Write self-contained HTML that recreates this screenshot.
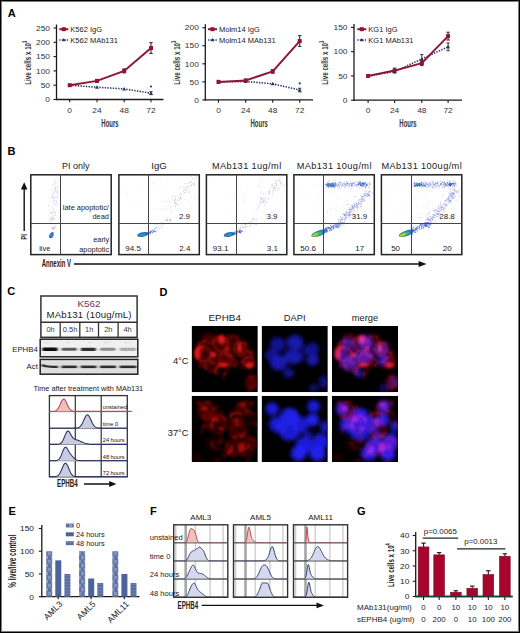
<!DOCTYPE html>
<html><head><meta charset="utf-8"><title>Figure</title>
<style>
html,body{margin:0;padding:0;background:#fff;}
#fig{position:relative;width:520px;height:633px;overflow:hidden;background:#fff;}
#fig svg{position:absolute;left:0;top:0;}
#frame{position:absolute;left:0;top:0;width:520px;height:633px;box-sizing:border-box;border:1px solid #000;box-shadow:inset 0 0 0 1px #7a7a7a;pointer-events:none;}
text{font-family:"Liberation Sans",sans-serif;}
</style></head><body>
<div id="fig">
<svg width="520" height="633" viewBox="0 0 520 633" font-family="Liberation Sans, sans-serif">
<text transform="translate(7.80,16.90)" font-size="11" text-anchor="start" font-weight="bold" fill="#000" >A</text>
<text transform="translate(7.50,154.60)" font-size="11" text-anchor="start" font-weight="bold" fill="#000" >B</text>
<text transform="translate(7.20,295.10)" font-size="11" text-anchor="start" font-weight="bold" fill="#000" >C</text>
<text transform="translate(159.60,295.60)" font-size="11" text-anchor="start" font-weight="bold" fill="#000" >D</text>
<text transform="translate(8.50,515.30)" font-size="11" text-anchor="start" font-weight="bold" fill="#000" >E</text>
<text transform="translate(150.10,515.20)" font-size="11" text-anchor="start" font-weight="bold" fill="#000" >F</text>
<text transform="translate(357.00,515.30)" font-size="11" text-anchor="start" font-weight="bold" fill="#000" >G</text>
<text transform="translate(31.00,84.80) rotate(-90) scale(0.65,1)" font-size="9.6" text-anchor="start" font-weight="bold" fill="#333" >Live cells x 10<tspan font-size="6.5" dy="-3.8">3</tspan></text>
<line x1="56.50" y1="24.50" x2="56.50" y2="100.10" stroke="#1a1a1a" stroke-width="1.3" />
<line x1="55.90" y1="99.50" x2="163.50" y2="99.50" stroke="#1a1a1a" stroke-width="1.3" />
<line x1="53.50" y1="99.50" x2="56.50" y2="99.50" stroke="#1a1a1a" stroke-width="1.1" />
<text transform="translate(50.00,102.20) scale(1.05,1)" font-size="8" text-anchor="end" fill="#333" >0</text>
<line x1="53.50" y1="85.20" x2="56.50" y2="85.20" stroke="#1a1a1a" stroke-width="1.1" />
<text transform="translate(50.00,87.90) scale(1.05,1)" font-size="8" text-anchor="end" fill="#333" >50</text>
<line x1="53.50" y1="70.90" x2="56.50" y2="70.90" stroke="#1a1a1a" stroke-width="1.1" />
<text transform="translate(50.00,73.60) scale(1.05,1)" font-size="8" text-anchor="end" fill="#333" >100</text>
<line x1="53.50" y1="56.60" x2="56.50" y2="56.60" stroke="#1a1a1a" stroke-width="1.1" />
<text transform="translate(50.00,59.30) scale(1.05,1)" font-size="8" text-anchor="end" fill="#333" >150</text>
<line x1="53.50" y1="42.30" x2="56.50" y2="42.30" stroke="#1a1a1a" stroke-width="1.1" />
<text transform="translate(50.00,45.00) scale(1.05,1)" font-size="8" text-anchor="end" fill="#333" >200</text>
<line x1="53.50" y1="28.00" x2="56.50" y2="28.00" stroke="#1a1a1a" stroke-width="1.1" />
<text transform="translate(50.00,30.70) scale(1.05,1)" font-size="8" text-anchor="end" fill="#333" >250</text>
<line x1="69.70" y1="99.50" x2="69.70" y2="102.30" stroke="#1a1a1a" stroke-width="1.1" />
<text transform="translate(69.70,112.60) scale(1.05,1)" font-size="8" text-anchor="middle" fill="#333" >0</text>
<line x1="97.00" y1="99.50" x2="97.00" y2="102.30" stroke="#1a1a1a" stroke-width="1.1" />
<text transform="translate(97.00,112.60) scale(1.05,1)" font-size="8" text-anchor="middle" fill="#333" >24</text>
<line x1="124.20" y1="99.50" x2="124.20" y2="102.30" stroke="#1a1a1a" stroke-width="1.1" />
<text transform="translate(124.20,112.60) scale(1.05,1)" font-size="8" text-anchor="middle" fill="#333" >48</text>
<line x1="151.00" y1="99.50" x2="151.00" y2="102.30" stroke="#1a1a1a" stroke-width="1.1" />
<text transform="translate(151.00,112.60) scale(1.05,1)" font-size="8" text-anchor="middle" fill="#333" >72</text>
<text transform="translate(110.00,126.90) scale(0.55,1)" font-size="10.9" text-anchor="middle" font-weight="bold" fill="#333" >Hours</text>
<polyline points="69.7,85.2 97.0,87.2 124.2,88.9 151.0,93.2" fill="none" stroke="#2b3a66" stroke-width="1.6" stroke-dasharray="1.4 1.3"/>
<path d="M67.7,86.7 L71.7,86.7 L69.7,83.2Z" fill="#2b3a66"/>
<path d="M95.0,88.7 L99.0,88.7 L97.0,85.2Z" fill="#2b3a66"/>
<path d="M122.2,90.4 L126.2,90.4 L124.2,86.9Z" fill="#2b3a66"/>
<line x1="151.00" y1="91.78" x2="151.00" y2="94.64" stroke="#333" stroke-width="1" />
<line x1="149.40" y1="91.78" x2="152.60" y2="91.78" stroke="#333" stroke-width="1" />
<line x1="149.40" y1="94.64" x2="152.60" y2="94.64" stroke="#333" stroke-width="1" />
<path d="M149.0,94.7 L153.0,94.7 L151.0,91.2Z" fill="#2b3a66"/>
<polyline points="69.7,85.2 97.0,80.9 124.2,70.9 151.0,48.0" fill="none" stroke="#8e1538" stroke-width="2"/>
<rect x="67.70" y="83.20" width="4.00" height="4.00" fill="#8e1538" stroke="none" stroke-width="1" />
<line x1="97.00" y1="79.48" x2="97.00" y2="82.34" stroke="#333" stroke-width="1.1" />
<line x1="95.30" y1="79.48" x2="98.70" y2="79.48" stroke="#333" stroke-width="1.1" />
<line x1="95.30" y1="82.34" x2="98.70" y2="82.34" stroke="#333" stroke-width="1.1" />
<rect x="95.00" y="78.91" width="4.00" height="4.00" fill="#8e1538" stroke="none" stroke-width="1" />
<line x1="124.20" y1="68.90" x2="124.20" y2="72.90" stroke="#333" stroke-width="1.1" />
<line x1="122.50" y1="68.90" x2="125.90" y2="68.90" stroke="#333" stroke-width="1.1" />
<line x1="122.50" y1="72.90" x2="125.90" y2="72.90" stroke="#333" stroke-width="1.1" />
<rect x="122.20" y="68.90" width="4.00" height="4.00" fill="#8e1538" stroke="none" stroke-width="1" />
<line x1="151.00" y1="42.59" x2="151.00" y2="53.45" stroke="#333" stroke-width="1.1" />
<line x1="149.30" y1="42.59" x2="152.70" y2="42.59" stroke="#333" stroke-width="1.1" />
<line x1="149.30" y1="53.45" x2="152.70" y2="53.45" stroke="#333" stroke-width="1.1" />
<rect x="149.00" y="46.02" width="4.00" height="4.00" fill="#8e1538" stroke="none" stroke-width="1" />
<circle cx="151" cy="86.5" r="1.05" fill="#333"/>
<line x1="59.30" y1="29.20" x2="68.30" y2="29.20" stroke="#8e1538" stroke-width="2" />
<rect x="61.80" y="27.20" width="4.00" height="4.00" fill="#8e1538" stroke="none" stroke-width="1" />
<text transform="translate(70.30,31.90)" font-size="7.5" text-anchor="start" fill="#222" >K562 IgG</text>
<line x1="59.3" y1="40" x2="68.3" y2="40" stroke="#2b3a66" stroke-width="1.3" stroke-dasharray="1.3 1.2"/>
<path d="M61.8,41.3 L65.8,41.3 L63.8,38Z" fill="#2b3a66"/>
<text transform="translate(70.30,42.70)" font-size="7.5" text-anchor="start" fill="#222" >K562 MAb131</text>
<text transform="translate(179.50,84.80) rotate(-90) scale(0.65,1)" font-size="9.6" text-anchor="start" font-weight="bold" fill="#333" >Live cells x 10<tspan font-size="6.5" dy="-3.8">3</tspan></text>
<line x1="205.30" y1="24.20" x2="205.30" y2="100.50" stroke="#1a1a1a" stroke-width="1.3" />
<line x1="204.70" y1="99.90" x2="313.00" y2="99.90" stroke="#1a1a1a" stroke-width="1.3" />
<line x1="202.30" y1="99.90" x2="205.30" y2="99.90" stroke="#1a1a1a" stroke-width="1.1" />
<text transform="translate(198.80,102.60) scale(1.05,1)" font-size="8" text-anchor="end" fill="#333" >0</text>
<line x1="202.30" y1="81.85" x2="205.30" y2="81.85" stroke="#1a1a1a" stroke-width="1.1" />
<text transform="translate(198.80,84.55) scale(1.05,1)" font-size="8" text-anchor="end" fill="#333" >50</text>
<line x1="202.30" y1="63.80" x2="205.30" y2="63.80" stroke="#1a1a1a" stroke-width="1.1" />
<text transform="translate(198.80,66.50) scale(1.05,1)" font-size="8" text-anchor="end" fill="#333" >100</text>
<line x1="202.30" y1="45.75" x2="205.30" y2="45.75" stroke="#1a1a1a" stroke-width="1.1" />
<text transform="translate(198.80,48.45) scale(1.05,1)" font-size="8" text-anchor="end" fill="#333" >150</text>
<line x1="202.30" y1="27.70" x2="205.30" y2="27.70" stroke="#1a1a1a" stroke-width="1.1" />
<text transform="translate(198.80,30.40) scale(1.05,1)" font-size="8" text-anchor="end" fill="#333" >200</text>
<line x1="218.50" y1="99.90" x2="218.50" y2="102.70" stroke="#1a1a1a" stroke-width="1.1" />
<text transform="translate(218.50,112.60) scale(1.05,1)" font-size="8" text-anchor="middle" fill="#333" >0</text>
<line x1="245.70" y1="99.90" x2="245.70" y2="102.70" stroke="#1a1a1a" stroke-width="1.1" />
<text transform="translate(245.70,112.60) scale(1.05,1)" font-size="8" text-anchor="middle" fill="#333" >24</text>
<line x1="272.70" y1="99.90" x2="272.70" y2="102.70" stroke="#1a1a1a" stroke-width="1.1" />
<text transform="translate(272.70,112.60) scale(1.05,1)" font-size="8" text-anchor="middle" fill="#333" >48</text>
<line x1="299.70" y1="99.90" x2="299.70" y2="102.70" stroke="#1a1a1a" stroke-width="1.1" />
<text transform="translate(299.70,112.60) scale(1.05,1)" font-size="8" text-anchor="middle" fill="#333" >72</text>
<text transform="translate(259.15,126.90) scale(0.55,1)" font-size="10.9" text-anchor="middle" font-weight="bold" fill="#333" >Hours</text>
<polyline points="218.5,81.9 245.7,81.5 272.7,83.8 299.7,90.0" fill="none" stroke="#2b3a66" stroke-width="1.6" stroke-dasharray="1.4 1.3"/>
<path d="M216.5,83.4 L220.5,83.4 L218.5,79.9Z" fill="#2b3a66"/>
<path d="M243.7,83.0 L247.7,83.0 L245.7,79.5Z" fill="#2b3a66"/>
<path d="M270.7,85.3 L274.7,85.3 L272.7,81.8Z" fill="#2b3a66"/>
<line x1="299.70" y1="88.24" x2="299.70" y2="91.85" stroke="#333" stroke-width="1" />
<line x1="298.10" y1="88.24" x2="301.30" y2="88.24" stroke="#333" stroke-width="1" />
<line x1="298.10" y1="91.85" x2="301.30" y2="91.85" stroke="#333" stroke-width="1" />
<path d="M297.7,91.5 L301.7,91.5 L299.7,88.0Z" fill="#2b3a66"/>
<polyline points="218.5,81.9 245.7,80.4 272.7,71.4 299.7,41.1" fill="none" stroke="#8e1538" stroke-width="2"/>
<rect x="216.50" y="79.85" width="4.00" height="4.00" fill="#8e1538" stroke="none" stroke-width="1" />
<line x1="245.70" y1="79.32" x2="245.70" y2="81.49" stroke="#333" stroke-width="1.1" />
<line x1="244.00" y1="79.32" x2="247.40" y2="79.32" stroke="#333" stroke-width="1.1" />
<line x1="244.00" y1="81.49" x2="247.40" y2="81.49" stroke="#333" stroke-width="1.1" />
<rect x="243.70" y="78.41" width="4.00" height="4.00" fill="#8e1538" stroke="none" stroke-width="1" />
<line x1="272.70" y1="69.58" x2="272.70" y2="73.19" stroke="#333" stroke-width="1.1" />
<line x1="271.00" y1="69.58" x2="274.40" y2="69.58" stroke="#333" stroke-width="1.1" />
<line x1="271.00" y1="73.19" x2="274.40" y2="73.19" stroke="#333" stroke-width="1.1" />
<rect x="270.70" y="69.38" width="4.00" height="4.00" fill="#8e1538" stroke="none" stroke-width="1" />
<line x1="299.70" y1="35.64" x2="299.70" y2="46.47" stroke="#333" stroke-width="1.1" />
<line x1="298.00" y1="35.64" x2="301.40" y2="35.64" stroke="#333" stroke-width="1.1" />
<line x1="298.00" y1="46.47" x2="301.40" y2="46.47" stroke="#333" stroke-width="1.1" />
<rect x="297.70" y="39.06" width="4.00" height="4.00" fill="#8e1538" stroke="none" stroke-width="1" />
<circle cx="299.7" cy="83.4" r="1.05" fill="#333"/>
<line x1="208.00" y1="29.20" x2="217.00" y2="29.20" stroke="#8e1538" stroke-width="2" />
<rect x="210.50" y="27.20" width="4.00" height="4.00" fill="#8e1538" stroke="none" stroke-width="1" />
<text transform="translate(219.00,31.90)" font-size="7.5" text-anchor="start" fill="#222" >Molm14 IgG</text>
<line x1="208.0" y1="40" x2="217.0" y2="40" stroke="#2b3a66" stroke-width="1.3" stroke-dasharray="1.3 1.2"/>
<path d="M210.5,41.3 L214.5,41.3 L212.5,38Z" fill="#2b3a66"/>
<text transform="translate(219.00,42.70)" font-size="7.5" text-anchor="start" fill="#222" >Molm14 MAb131</text>
<text transform="translate(328.00,84.80) rotate(-90) scale(0.65,1)" font-size="9.6" text-anchor="start" font-weight="bold" fill="#333" >Live cells x 10<tspan font-size="6.5" dy="-3.8">3</tspan></text>
<line x1="354.00" y1="23.90" x2="354.00" y2="100.80" stroke="#1a1a1a" stroke-width="1.3" />
<line x1="353.40" y1="100.20" x2="462.00" y2="100.20" stroke="#1a1a1a" stroke-width="1.3" />
<line x1="351.00" y1="100.20" x2="354.00" y2="100.20" stroke="#1a1a1a" stroke-width="1.1" />
<text transform="translate(347.50,102.90) scale(1.05,1)" font-size="8" text-anchor="end" fill="#333" >0</text>
<line x1="351.00" y1="75.93" x2="354.00" y2="75.93" stroke="#1a1a1a" stroke-width="1.1" />
<text transform="translate(347.50,78.63) scale(1.05,1)" font-size="8" text-anchor="end" fill="#333" >50</text>
<line x1="351.00" y1="51.67" x2="354.00" y2="51.67" stroke="#1a1a1a" stroke-width="1.1" />
<text transform="translate(347.50,54.37) scale(1.05,1)" font-size="8" text-anchor="end" fill="#333" >100</text>
<line x1="351.00" y1="27.40" x2="354.00" y2="27.40" stroke="#1a1a1a" stroke-width="1.1" />
<text transform="translate(347.50,30.10) scale(1.05,1)" font-size="8" text-anchor="end" fill="#333" >150</text>
<line x1="368.10" y1="100.20" x2="368.10" y2="103.00" stroke="#1a1a1a" stroke-width="1.1" />
<text transform="translate(368.10,112.60) scale(1.05,1)" font-size="8" text-anchor="middle" fill="#333" >0</text>
<line x1="394.60" y1="100.20" x2="394.60" y2="103.00" stroke="#1a1a1a" stroke-width="1.1" />
<text transform="translate(394.60,112.60) scale(1.05,1)" font-size="8" text-anchor="middle" fill="#333" >24</text>
<line x1="421.80" y1="100.20" x2="421.80" y2="103.00" stroke="#1a1a1a" stroke-width="1.1" />
<text transform="translate(421.80,112.60) scale(1.05,1)" font-size="8" text-anchor="middle" fill="#333" >48</text>
<line x1="448.10" y1="100.20" x2="448.10" y2="103.00" stroke="#1a1a1a" stroke-width="1.1" />
<text transform="translate(448.10,112.60) scale(1.05,1)" font-size="8" text-anchor="middle" fill="#333" >72</text>
<text transform="translate(408.00,126.90) scale(0.55,1)" font-size="10.9" text-anchor="middle" font-weight="bold" fill="#333" >Hours</text>
<polyline points="368.1,75.9 394.6,71.6 421.8,58.9 448.1,46.8" fill="none" stroke="#2b3a66" stroke-width="1.6" stroke-dasharray="1.4 1.3"/>
<path d="M366.1,77.4 L370.1,77.4 L368.1,73.9Z" fill="#2b3a66"/>
<path d="M392.6,73.1 L396.6,73.1 L394.6,69.6Z" fill="#2b3a66"/>
<line x1="421.80" y1="54.58" x2="421.80" y2="63.31" stroke="#333" stroke-width="1" />
<line x1="420.20" y1="54.58" x2="423.40" y2="54.58" stroke="#333" stroke-width="1" />
<line x1="420.20" y1="63.31" x2="423.40" y2="63.31" stroke="#333" stroke-width="1" />
<path d="M419.8,60.4 L423.8,60.4 L421.8,56.9Z" fill="#2b3a66"/>
<line x1="448.10" y1="42.93" x2="448.10" y2="50.70" stroke="#333" stroke-width="1" />
<line x1="446.50" y1="42.93" x2="449.70" y2="42.93" stroke="#333" stroke-width="1" />
<line x1="446.50" y1="50.70" x2="449.70" y2="50.70" stroke="#333" stroke-width="1" />
<path d="M446.1,48.3 L450.1,48.3 L448.1,44.8Z" fill="#2b3a66"/>
<polyline points="368.1,75.9 394.6,70.6 421.8,63.1 448.1,36.1" fill="none" stroke="#8e1538" stroke-width="2"/>
<rect x="366.10" y="73.93" width="4.00" height="4.00" fill="#8e1538" stroke="none" stroke-width="1" />
<line x1="394.60" y1="68.17" x2="394.60" y2="73.02" stroke="#333" stroke-width="1.1" />
<line x1="392.90" y1="68.17" x2="396.30" y2="68.17" stroke="#333" stroke-width="1.1" />
<line x1="392.90" y1="73.02" x2="396.30" y2="73.02" stroke="#333" stroke-width="1.1" />
<rect x="392.60" y="68.59" width="4.00" height="4.00" fill="#8e1538" stroke="none" stroke-width="1" />
<line x1="421.80" y1="60.69" x2="421.80" y2="65.55" stroke="#333" stroke-width="1.1" />
<line x1="420.10" y1="60.69" x2="423.50" y2="60.69" stroke="#333" stroke-width="1.1" />
<line x1="420.10" y1="65.55" x2="423.50" y2="65.55" stroke="#333" stroke-width="1.1" />
<rect x="419.80" y="61.12" width="4.00" height="4.00" fill="#8e1538" stroke="none" stroke-width="1" />
<line x1="448.10" y1="32.25" x2="448.10" y2="40.02" stroke="#333" stroke-width="1.1" />
<line x1="446.40" y1="32.25" x2="449.80" y2="32.25" stroke="#333" stroke-width="1.1" />
<line x1="446.40" y1="40.02" x2="449.80" y2="40.02" stroke="#333" stroke-width="1.1" />
<rect x="446.10" y="34.14" width="4.00" height="4.00" fill="#8e1538" stroke="none" stroke-width="1" />
<line x1="357.30" y1="29.20" x2="366.30" y2="29.20" stroke="#8e1538" stroke-width="2" />
<rect x="359.80" y="27.20" width="4.00" height="4.00" fill="#8e1538" stroke="none" stroke-width="1" />
<text transform="translate(368.30,31.90)" font-size="7.5" text-anchor="start" fill="#222" >KG1 IgG</text>
<line x1="357.3" y1="40" x2="366.3" y2="40" stroke="#2b3a66" stroke-width="1.3" stroke-dasharray="1.3 1.2"/>
<path d="M359.8,41.3 L363.8,41.3 L361.8,38Z" fill="#2b3a66"/>
<text transform="translate(368.30,42.70)" font-size="7.5" text-anchor="start" fill="#222" >KG1 MAb131</text>
<defs><filter id="sb" x="-5%" y="-5%" width="110%" height="110%"><feGaussianBlur stdDeviation="0.3"/></filter></defs>
<text transform="translate(75.70,169.30)" font-size="9.0" text-anchor="middle" fill="#1a1a1a" >PI only</text>
<clipPath id="bc0"><rect x="30.8" y="174.8" width="80.4" height="79.79999999999998"/></clipPath><g clip-path="url(#bc0)"><g filter="url(#sb)">
<circle cx="54.5" cy="211.2" r="0.5" fill="#a4a8d0" opacity="0.45"/><circle cx="49.9" cy="219.1" r="0.5" fill="#a4a8d0" opacity="0.45"/><circle cx="51.1" cy="220.1" r="0.5" fill="#a4a8d0" opacity="0.45"/><circle cx="54.2" cy="204.8" r="0.5" fill="#a4a8d0" opacity="0.45"/><circle cx="53.9" cy="203.9" r="0.5" fill="#a4a8d0" opacity="0.45"/><circle cx="49.2" cy="209.9" r="0.5" fill="#a4a8d0" opacity="0.45"/><circle cx="50.0" cy="201.6" r="0.5" fill="#a4a8d0" opacity="0.45"/><circle cx="52.5" cy="219.3" r="0.5" fill="#a4a8d0" opacity="0.45"/><circle cx="53.2" cy="217.6" r="0.5" fill="#a4a8d0" opacity="0.45"/><circle cx="56.4" cy="190.7" r="0.5" fill="#a4a8d0" opacity="0.45"/><circle cx="52.8" cy="197.6" r="0.5" fill="#a4a8d0" opacity="0.45"/><circle cx="52.8" cy="220.4" r="0.5" fill="#a4a8d0" opacity="0.45"/><circle cx="53.2" cy="194.9" r="0.5" fill="#a4a8d0" opacity="0.45"/><circle cx="52.7" cy="198.5" r="0.5" fill="#a4a8d0" opacity="0.45"/><circle cx="54.8" cy="188.0" r="0.5" fill="#a4a8d0" opacity="0.45"/><circle cx="50.3" cy="197.9" r="0.5" fill="#a4a8d0" opacity="0.45"/><circle cx="53.7" cy="197.3" r="0.5" fill="#a4a8d0" opacity="0.45"/><circle cx="49.1" cy="219.1" r="0.5" fill="#a4a8d0" opacity="0.45"/><circle cx="51.5" cy="216.2" r="0.5" fill="#a4a8d0" opacity="0.45"/><circle cx="54.9" cy="192.2" r="0.5" fill="#a4a8d0" opacity="0.45"/><circle cx="54.5" cy="188.7" r="0.5" fill="#a4a8d0" opacity="0.45"/><circle cx="52.4" cy="196.7" r="0.5" fill="#a4a8d0" opacity="0.45"/><circle cx="57.5" cy="186.7" r="0.5" fill="#a4a8d0" opacity="0.45"/><circle cx="57.4" cy="195.9" r="0.5" fill="#a4a8d0" opacity="0.45"/><circle cx="58.1" cy="195.4" r="0.5" fill="#a4a8d0" opacity="0.45"/><circle cx="50.6" cy="212.5" r="0.5" fill="#a4a8d0" opacity="0.45"/><circle cx="50.3" cy="221.8" r="0.5" fill="#a4a8d0" opacity="0.45"/><circle cx="54.9" cy="218.8" r="0.5" fill="#a4a8d0" opacity="0.45"/><circle cx="52.0" cy="219.0" r="0.5" fill="#a4a8d0" opacity="0.45"/><circle cx="57.5" cy="187.2" r="0.5" fill="#a4a8d0" opacity="0.45"/><circle cx="56.7" cy="197.2" r="0.5" fill="#a4a8d0" opacity="0.45"/><circle cx="55.3" cy="188.4" r="0.5" fill="#a4a8d0" opacity="0.45"/><circle cx="56.7" cy="204.4" r="0.5" fill="#a4a8d0" opacity="0.45"/><circle cx="52.7" cy="217.4" r="0.5" fill="#a4a8d0" opacity="0.45"/><circle cx="49.9" cy="213.0" r="0.5" fill="#a4a8d0" opacity="0.45"/><circle cx="54.6" cy="211.6" r="0.5" fill="#a4a8d0" opacity="0.45"/><circle cx="48.8" cy="205.2" r="0.5" fill="#a4a8d0" opacity="0.45"/><circle cx="52.1" cy="193.5" r="0.5" fill="#a4a8d0" opacity="0.45"/><circle cx="58.5" cy="195.7" r="0.5" fill="#a4a8d0" opacity="0.45"/><circle cx="57.6" cy="187.6" r="0.5" fill="#a4a8d0" opacity="0.45"/><circle cx="52.5" cy="206.7" r="0.5" fill="#a4a8d0" opacity="0.45"/><circle cx="55.1" cy="196.3" r="0.5" fill="#a4a8d0" opacity="0.45"/><circle cx="53.3" cy="215.3" r="0.5" fill="#a4a8d0" opacity="0.45"/><circle cx="52.7" cy="220.3" r="0.5" fill="#a4a8d0" opacity="0.45"/><circle cx="51.5" cy="218.6" r="0.5" fill="#a4a8d0" opacity="0.45"/><circle cx="54.9" cy="185.3" r="0.5" fill="#a4a8d0" opacity="0.45"/><circle cx="51.5" cy="213.5" r="0.5" fill="#a4a8d0" opacity="0.45"/><circle cx="55.4" cy="212.5" r="0.5" fill="#a4a8d0" opacity="0.45"/><circle cx="52.8" cy="203.1" r="0.5" fill="#a4a8d0" opacity="0.45"/><circle cx="51.0" cy="219.5" r="0.5" fill="#a4a8d0" opacity="0.45"/><circle cx="55.7" cy="188.3" r="0.5" fill="#a4a8d0" opacity="0.45"/><circle cx="55.0" cy="182.7" r="0.5" fill="#a4a8d0" opacity="0.45"/><circle cx="56.3" cy="200.2" r="0.5" fill="#a4a8d0" opacity="0.45"/><circle cx="58.1" cy="179.5" r="0.5" fill="#a4a8d0" opacity="0.45"/><circle cx="51.8" cy="212.5" r="0.5" fill="#a4a8d0" opacity="0.45"/><circle cx="51.9" cy="189.6" r="0.5" fill="#a4a8d0" opacity="0.45"/><circle cx="53.5" cy="212.2" r="0.5" fill="#a4a8d0" opacity="0.45"/><circle cx="58.3" cy="178.7" r="0.5" fill="#a4a8d0" opacity="0.45"/><circle cx="55.3" cy="187.0" r="0.5" fill="#a4a8d0" opacity="0.45"/><circle cx="53.6" cy="201.3" r="0.5" fill="#a4a8d0" opacity="0.45"/><circle cx="51.2" cy="222.8" r="0.5" fill="#a4a8d0" opacity="0.45"/><circle cx="56.8" cy="193.1" r="0.5" fill="#a4a8d0" opacity="0.45"/><circle cx="60.7" cy="183.1" r="0.5" fill="#a4a8d0" opacity="0.45"/><circle cx="53.4" cy="208.6" r="0.5" fill="#a4a8d0" opacity="0.45"/><circle cx="53.0" cy="216.8" r="0.5" fill="#a4a8d0" opacity="0.45"/><circle cx="57.0" cy="183.1" r="0.5" fill="#a4a8d0" opacity="0.45"/><circle cx="54.8" cy="194.5" r="0.5" fill="#a4a8d0" opacity="0.45"/><circle cx="57.4" cy="193.2" r="0.5" fill="#a4a8d0" opacity="0.45"/><circle cx="53.9" cy="191.4" r="0.5" fill="#a4a8d0" opacity="0.45"/><circle cx="53.6" cy="192.6" r="0.5" fill="#a4a8d0" opacity="0.45"/><circle cx="54.6" cy="183.2" r="0.5" fill="#a4a8d0" opacity="0.45"/><circle cx="55.9" cy="181.9" r="0.5" fill="#a4a8d0" opacity="0.45"/><circle cx="54.3" cy="220.6" r="0.5" fill="#a4a8d0" opacity="0.45"/><circle cx="57.5" cy="191.7" r="0.5" fill="#a4a8d0" opacity="0.45"/><circle cx="55.2" cy="180.1" r="0.5" fill="#a4a8d0" opacity="0.45"/><circle cx="54.3" cy="199.9" r="0.5" fill="#a4a8d0" opacity="0.45"/><circle cx="54.8" cy="180.1" r="0.5" fill="#a4a8d0" opacity="0.45"/><circle cx="52.4" cy="185.1" r="0.5" fill="#a4a8d0" opacity="0.45"/><circle cx="55.8" cy="189.5" r="0.5" fill="#a4a8d0" opacity="0.45"/><circle cx="52.9" cy="212.8" r="0.5" fill="#a4a8d0" opacity="0.45"/><circle cx="51.7" cy="212.2" r="0.5" fill="#a4a8d0" opacity="0.45"/><circle cx="54.6" cy="186.2" r="0.5" fill="#a4a8d0" opacity="0.45"/><circle cx="55.9" cy="197.1" r="0.5" fill="#a4a8d0" opacity="0.45"/><circle cx="53.5" cy="184.2" r="0.5" fill="#a4a8d0" opacity="0.45"/><circle cx="55.9" cy="200.9" r="0.5" fill="#a4a8d0" opacity="0.45"/><circle cx="55.6" cy="214.9" r="0.5" fill="#a4a8d0" opacity="0.45"/><circle cx="49.2" cy="215.8" r="0.5" fill="#a4a8d0" opacity="0.45"/><circle cx="53.0" cy="201.3" r="0.5" fill="#a4a8d0" opacity="0.45"/><circle cx="54.3" cy="198.5" r="0.5" fill="#a4a8d0" opacity="0.45"/><circle cx="54.1" cy="200.7" r="0.5" fill="#a4a8d0" opacity="0.45"/><circle cx="52.7" cy="190.2" r="0.5" fill="#a4a8d0" opacity="0.45"/><circle cx="56.9" cy="189.7" r="0.5" fill="#a4a8d0" opacity="0.45"/><circle cx="52.1" cy="196.9" r="0.5" fill="#a4a8d0" opacity="0.45"/><circle cx="52.5" cy="194.3" r="0.5" fill="#a4a8d0" opacity="0.45"/><circle cx="56.4" cy="201.5" r="0.5" fill="#a4a8d0" opacity="0.45"/><circle cx="57.1" cy="185.4" r="0.5" fill="#a4a8d0" opacity="0.45"/><circle cx="57.5" cy="197.9" r="0.5" fill="#a4a8d0" opacity="0.45"/><circle cx="53.5" cy="218.2" r="0.5" fill="#a4a8d0" opacity="0.45"/><circle cx="51.7" cy="220.2" r="0.5" fill="#a4a8d0" opacity="0.45"/><circle cx="55.5" cy="190.6" r="0.5" fill="#a4a8d0" opacity="0.45"/><circle cx="51.5" cy="213.3" r="0.5" fill="#a4a8d0" opacity="0.45"/><circle cx="55.7" cy="213.2" r="0.5" fill="#a4a8d0" opacity="0.45"/><circle cx="54.2" cy="212.8" r="0.5" fill="#a4a8d0" opacity="0.45"/><circle cx="57.3" cy="202.0" r="0.5" fill="#a4a8d0" opacity="0.45"/><circle cx="50.0" cy="216.7" r="0.5" fill="#a4a8d0" opacity="0.45"/><circle cx="53.6" cy="209.9" r="0.5" fill="#a4a8d0" opacity="0.45"/><circle cx="57.3" cy="192.7" r="0.5" fill="#a4a8d0" opacity="0.45"/><circle cx="55.2" cy="204.3" r="0.5" fill="#a4a8d0" opacity="0.45"/><circle cx="53.7" cy="196.4" r="0.5" fill="#a4a8d0" opacity="0.45"/><circle cx="57.4" cy="176.5" r="0.5" fill="#a4a8d0" opacity="0.45"/><circle cx="51.8" cy="218.7" r="0.5" fill="#a4a8d0" opacity="0.45"/><circle cx="55.1" cy="191.0" r="0.5" fill="#a4a8d0" opacity="0.45"/><circle cx="56.4" cy="203.0" r="0.5" fill="#a4a8d0" opacity="0.45"/><circle cx="55.1" cy="215.2" r="0.5" fill="#a4a8d0" opacity="0.45"/><circle cx="53.9" cy="197.9" r="0.5" fill="#a4a8d0" opacity="0.45"/><circle cx="50.8" cy="218.3" r="0.5" fill="#a4a8d0" opacity="0.45"/><circle cx="54.2" cy="218.5" r="0.5" fill="#a4a8d0" opacity="0.45"/><circle cx="58.5" cy="191.0" r="0.5" fill="#a4a8d0" opacity="0.45"/><circle cx="53.0" cy="218.1" r="0.5" fill="#a4a8d0" opacity="0.45"/><circle cx="48.9" cy="206.9" r="0.5" fill="#a4a8d0" opacity="0.45"/>
<circle cx="53.7" cy="228.9" r="0.5" fill="#d8a0c0" opacity="0.5"/><circle cx="53.2" cy="228.4" r="0.5" fill="#d8a0c0" opacity="0.5"/><circle cx="52.3" cy="229.2" r="0.5" fill="#d8a0c0" opacity="0.5"/><circle cx="53.1" cy="227.1" r="0.5" fill="#d8a0c0" opacity="0.5"/><circle cx="54.2" cy="228.3" r="0.5" fill="#d8a0c0" opacity="0.5"/><circle cx="51.9" cy="228.6" r="0.5" fill="#d8a0c0" opacity="0.5"/><circle cx="54.1" cy="226.8" r="0.5" fill="#d8a0c0" opacity="0.5"/><circle cx="54.1" cy="227.4" r="0.5" fill="#d8a0c0" opacity="0.5"/><circle cx="54.0" cy="227.3" r="0.5" fill="#d8a0c0" opacity="0.5"/><circle cx="54.2" cy="227.6" r="0.5" fill="#d8a0c0" opacity="0.5"/><circle cx="55.5" cy="227.0" r="0.5" fill="#d8a0c0" opacity="0.5"/><circle cx="54.7" cy="225.5" r="0.5" fill="#d8a0c0" opacity="0.5"/><circle cx="53.2" cy="228.0" r="0.5" fill="#d8a0c0" opacity="0.5"/><circle cx="53.8" cy="228.9" r="0.5" fill="#d8a0c0" opacity="0.5"/><circle cx="53.0" cy="228.3" r="0.5" fill="#d8a0c0" opacity="0.5"/><circle cx="56.2" cy="225.7" r="0.5" fill="#d8a0c0" opacity="0.5"/><circle cx="53.0" cy="228.8" r="0.5" fill="#d8a0c0" opacity="0.5"/><circle cx="54.2" cy="228.5" r="0.5" fill="#d8a0c0" opacity="0.5"/><circle cx="55.5" cy="227.3" r="0.5" fill="#d8a0c0" opacity="0.5"/><circle cx="54.1" cy="230.0" r="0.5" fill="#d8a0c0" opacity="0.5"/><circle cx="53.0" cy="227.9" r="0.5" fill="#d8a0c0" opacity="0.5"/><circle cx="52.2" cy="227.9" r="0.5" fill="#d8a0c0" opacity="0.5"/><circle cx="52.5" cy="228.1" r="0.5" fill="#d8a0c0" opacity="0.5"/><circle cx="53.7" cy="228.5" r="0.5" fill="#d8a0c0" opacity="0.5"/><circle cx="52.8" cy="228.5" r="0.5" fill="#d8a0c0" opacity="0.5"/>
<path d="M48.8,236.7 q0.8,-4.8 4.6,-4.8 q1,2.6 -0.8,5.6 q-2.4,2 -3.8,-0.8z" fill="#3a64c4"/>
<ellipse cx="51.2" cy="234.9" rx="1.2" ry="2" fill="#2a9ab8" opacity="0.8"/>
</g>
</g>
<rect x="30.80" y="174.80" width="80.40" height="79.80" fill="none" stroke="#222" stroke-width="1.5" />
<line x1="60.50" y1="174.80" x2="60.50" y2="254.60" stroke="#444" stroke-width="1" />
<line x1="30.80" y1="223.50" x2="111.20" y2="223.50" stroke="#444" stroke-width="1" />
<text transform="translate(159.10,169.30)" font-size="9.6" text-anchor="middle" fill="#1a1a1a" >IgG</text>
<clipPath id="bc1"><rect x="118.9" y="174.8" width="80.4" height="79.79999999999998"/></clipPath><g clip-path="url(#bc1)"><g filter="url(#sb)">
<circle cx="161.5" cy="202.8" r="0.45" fill="#8f94cc" opacity="0.45"/><circle cx="174.9" cy="209.8" r="0.45" fill="#8f94cc" opacity="0.45"/><circle cx="180.8" cy="208.4" r="0.45" fill="#8f94cc" opacity="0.45"/><circle cx="190.8" cy="194.4" r="0.45" fill="#8f94cc" opacity="0.45"/><circle cx="165.7" cy="219.8" r="0.45" fill="#8f94cc" opacity="0.45"/><circle cx="157.7" cy="208.7" r="0.45" fill="#8f94cc" opacity="0.45"/><circle cx="180.1" cy="179.7" r="0.45" fill="#8f94cc" opacity="0.45"/><circle cx="188.8" cy="215.9" r="0.45" fill="#8f94cc" opacity="0.45"/><circle cx="179.4" cy="209.1" r="0.45" fill="#8f94cc" opacity="0.45"/><circle cx="187.8" cy="183.7" r="0.45" fill="#8f94cc" opacity="0.45"/><circle cx="174.7" cy="199.3" r="0.45" fill="#8f94cc" opacity="0.45"/><circle cx="188.8" cy="212.2" r="0.45" fill="#8f94cc" opacity="0.45"/><circle cx="188.4" cy="202.7" r="0.45" fill="#8f94cc" opacity="0.45"/><circle cx="191.4" cy="207.0" r="0.45" fill="#8f94cc" opacity="0.45"/><circle cx="182.4" cy="187.6" r="0.45" fill="#8f94cc" opacity="0.45"/><circle cx="152.3" cy="183.5" r="0.45" fill="#8f94cc" opacity="0.45"/><circle cx="167.3" cy="182.3" r="0.45" fill="#8f94cc" opacity="0.45"/><circle cx="188.8" cy="201.6" r="0.45" fill="#8f94cc" opacity="0.45"/><circle cx="179.4" cy="204.5" r="0.45" fill="#8f94cc" opacity="0.45"/><circle cx="181.8" cy="198.7" r="0.45" fill="#8f94cc" opacity="0.45"/><circle cx="151.1" cy="211.9" r="0.45" fill="#8f94cc" opacity="0.45"/><circle cx="184.9" cy="199.3" r="0.45" fill="#8f94cc" opacity="0.45"/><circle cx="175.2" cy="206.0" r="0.45" fill="#8f94cc" opacity="0.45"/><circle cx="153.9" cy="209.3" r="0.45" fill="#8f94cc" opacity="0.45"/><circle cx="162.3" cy="181.0" r="0.45" fill="#8f94cc" opacity="0.45"/><circle cx="163.0" cy="208.9" r="0.45" fill="#8f94cc" opacity="0.45"/><circle cx="160.2" cy="209.4" r="0.45" fill="#8f94cc" opacity="0.45"/><circle cx="195.2" cy="198.9" r="0.45" fill="#8f94cc" opacity="0.45"/><circle cx="168.3" cy="198.3" r="0.45" fill="#8f94cc" opacity="0.45"/><circle cx="181.9" cy="210.5" r="0.45" fill="#8f94cc" opacity="0.45"/><circle cx="178.9" cy="205.2" r="0.45" fill="#8f94cc" opacity="0.45"/><circle cx="154.4" cy="184.1" r="0.45" fill="#8f94cc" opacity="0.45"/><circle cx="162.4" cy="209.5" r="0.45" fill="#8f94cc" opacity="0.45"/><circle cx="164.7" cy="202.0" r="0.45" fill="#8f94cc" opacity="0.45"/><circle cx="151.5" cy="180.4" r="0.45" fill="#8f94cc" opacity="0.45"/><circle cx="163.1" cy="206.5" r="0.45" fill="#8f94cc" opacity="0.45"/><circle cx="182.3" cy="206.7" r="0.45" fill="#8f94cc" opacity="0.45"/><circle cx="164.1" cy="199.9" r="0.45" fill="#8f94cc" opacity="0.45"/><circle cx="172.0" cy="197.7" r="0.45" fill="#8f94cc" opacity="0.45"/><circle cx="156.3" cy="216.0" r="0.45" fill="#8f94cc" opacity="0.45"/><circle cx="159.9" cy="219.6" r="0.45" fill="#8f94cc" opacity="0.45"/><circle cx="193.4" cy="178.5" r="0.45" fill="#8f94cc" opacity="0.45"/><circle cx="171.7" cy="212.8" r="0.45" fill="#8f94cc" opacity="0.45"/><circle cx="194.9" cy="197.0" r="0.45" fill="#8f94cc" opacity="0.45"/><circle cx="163.1" cy="186.8" r="0.45" fill="#8f94cc" opacity="0.45"/>
<circle cx="193.9" cy="184.5" r="0.5" fill="#8f94cc" opacity="0.55"/><circle cx="167.9" cy="200.9" r="0.5" fill="#8f94cc" opacity="0.55"/><circle cx="175.3" cy="199.3" r="0.5" fill="#8f94cc" opacity="0.55"/><circle cx="191.1" cy="180.9" r="0.5" fill="#8f94cc" opacity="0.55"/><circle cx="191.3" cy="182.5" r="0.5" fill="#8f94cc" opacity="0.55"/><circle cx="168.1" cy="205.6" r="0.5" fill="#8f94cc" opacity="0.55"/><circle cx="179.5" cy="199.6" r="0.5" fill="#8f94cc" opacity="0.55"/><circle cx="178.4" cy="197.2" r="0.5" fill="#8f94cc" opacity="0.55"/><circle cx="189.2" cy="185.1" r="0.5" fill="#8f94cc" opacity="0.55"/><circle cx="191.3" cy="176.2" r="0.5" fill="#8f94cc" opacity="0.55"/><circle cx="175.9" cy="199.9" r="0.5" fill="#8f94cc" opacity="0.55"/><circle cx="192.2" cy="178.5" r="0.5" fill="#8f94cc" opacity="0.55"/><circle cx="180.8" cy="195.3" r="0.5" fill="#8f94cc" opacity="0.55"/><circle cx="174.4" cy="201.0" r="0.5" fill="#8f94cc" opacity="0.55"/><circle cx="192.8" cy="183.5" r="0.5" fill="#8f94cc" opacity="0.55"/><circle cx="183.8" cy="194.7" r="0.5" fill="#8f94cc" opacity="0.55"/><circle cx="196.8" cy="177.8" r="0.5" fill="#8f94cc" opacity="0.55"/><circle cx="191.0" cy="186.1" r="0.5" fill="#8f94cc" opacity="0.55"/><circle cx="183.6" cy="190.6" r="0.5" fill="#8f94cc" opacity="0.55"/><circle cx="183.9" cy="188.0" r="0.5" fill="#8f94cc" opacity="0.55"/><circle cx="185.8" cy="189.7" r="0.5" fill="#8f94cc" opacity="0.55"/><circle cx="194.6" cy="183.8" r="0.5" fill="#8f94cc" opacity="0.55"/><circle cx="177.7" cy="200.7" r="0.5" fill="#8f94cc" opacity="0.55"/><circle cx="193.5" cy="184.2" r="0.5" fill="#8f94cc" opacity="0.55"/><circle cx="175.5" cy="196.9" r="0.5" fill="#8f94cc" opacity="0.55"/><circle cx="175.8" cy="202.7" r="0.5" fill="#8f94cc" opacity="0.55"/><circle cx="190.3" cy="182.3" r="0.5" fill="#8f94cc" opacity="0.55"/><circle cx="194.9" cy="182.1" r="0.5" fill="#8f94cc" opacity="0.55"/><circle cx="174.6" cy="203.0" r="0.5" fill="#8f94cc" opacity="0.55"/><circle cx="180.5" cy="197.8" r="0.5" fill="#8f94cc" opacity="0.55"/><circle cx="172.0" cy="196.6" r="0.5" fill="#8f94cc" opacity="0.55"/><circle cx="186.1" cy="187.6" r="0.5" fill="#8f94cc" opacity="0.55"/><circle cx="181.5" cy="193.7" r="0.5" fill="#8f94cc" opacity="0.55"/><circle cx="171.2" cy="210.6" r="0.5" fill="#8f94cc" opacity="0.55"/><circle cx="170.2" cy="202.2" r="0.5" fill="#8f94cc" opacity="0.55"/><circle cx="191.5" cy="185.3" r="0.5" fill="#8f94cc" opacity="0.55"/><circle cx="174.4" cy="200.8" r="0.5" fill="#8f94cc" opacity="0.55"/><circle cx="196.3" cy="176.7" r="0.5" fill="#8f94cc" opacity="0.55"/><circle cx="175.4" cy="205.8" r="0.5" fill="#8f94cc" opacity="0.55"/><circle cx="188.4" cy="183.1" r="0.5" fill="#8f94cc" opacity="0.55"/><circle cx="166.3" cy="209.2" r="0.5" fill="#8f94cc" opacity="0.55"/><circle cx="194.5" cy="178.8" r="0.5" fill="#8f94cc" opacity="0.55"/><circle cx="177.9" cy="200.1" r="0.5" fill="#8f94cc" opacity="0.55"/><circle cx="180.6" cy="186.4" r="0.5" fill="#8f94cc" opacity="0.55"/><circle cx="185.1" cy="183.4" r="0.5" fill="#8f94cc" opacity="0.55"/><circle cx="180.9" cy="193.5" r="0.5" fill="#8f94cc" opacity="0.55"/><circle cx="189.8" cy="191.2" r="0.5" fill="#8f94cc" opacity="0.55"/><circle cx="185.6" cy="190.2" r="0.5" fill="#8f94cc" opacity="0.55"/><circle cx="174.2" cy="196.0" r="0.5" fill="#8f94cc" opacity="0.55"/><circle cx="176.4" cy="204.0" r="0.5" fill="#8f94cc" opacity="0.55"/><circle cx="183.1" cy="191.7" r="0.5" fill="#8f94cc" opacity="0.55"/><circle cx="187.2" cy="190.2" r="0.5" fill="#8f94cc" opacity="0.55"/><circle cx="185.3" cy="192.7" r="0.5" fill="#8f94cc" opacity="0.55"/><circle cx="189.7" cy="183.1" r="0.5" fill="#8f94cc" opacity="0.55"/><circle cx="180.6" cy="198.2" r="0.5" fill="#8f94cc" opacity="0.55"/><circle cx="181.1" cy="198.0" r="0.5" fill="#8f94cc" opacity="0.55"/><circle cx="184.9" cy="189.1" r="0.5" fill="#8f94cc" opacity="0.55"/><circle cx="188.2" cy="187.5" r="0.5" fill="#8f94cc" opacity="0.55"/><circle cx="170.3" cy="206.9" r="0.5" fill="#8f94cc" opacity="0.55"/><circle cx="188.4" cy="192.4" r="0.5" fill="#8f94cc" opacity="0.55"/><circle cx="186.4" cy="186.5" r="0.5" fill="#8f94cc" opacity="0.55"/><circle cx="191.8" cy="185.0" r="0.5" fill="#8f94cc" opacity="0.55"/><circle cx="177.1" cy="203.9" r="0.5" fill="#8f94cc" opacity="0.55"/><circle cx="180.7" cy="197.0" r="0.5" fill="#8f94cc" opacity="0.55"/><circle cx="175.7" cy="203.3" r="0.5" fill="#8f94cc" opacity="0.55"/><circle cx="187.9" cy="187.9" r="0.5" fill="#8f94cc" opacity="0.55"/><circle cx="181.7" cy="202.2" r="0.5" fill="#8f94cc" opacity="0.55"/><circle cx="175.1" cy="202.1" r="0.5" fill="#8f94cc" opacity="0.55"/><circle cx="184.4" cy="192.2" r="0.5" fill="#8f94cc" opacity="0.55"/><circle cx="194.1" cy="186.6" r="0.5" fill="#8f94cc" opacity="0.55"/>
<circle cx="158.3" cy="230.7" r="0.5" fill="#8f94cc" opacity="0.55"/><circle cx="167.9" cy="222.3" r="0.5" fill="#8f94cc" opacity="0.55"/><circle cx="156.8" cy="227.6" r="0.5" fill="#8f94cc" opacity="0.55"/><circle cx="154.8" cy="229.3" r="0.5" fill="#8f94cc" opacity="0.55"/><circle cx="158.1" cy="226.7" r="0.5" fill="#8f94cc" opacity="0.55"/><circle cx="170.5" cy="220.4" r="0.5" fill="#8f94cc" opacity="0.55"/><circle cx="167.9" cy="219.3" r="0.5" fill="#8f94cc" opacity="0.55"/><circle cx="149.4" cy="231.1" r="0.5" fill="#8f94cc" opacity="0.55"/><circle cx="169.7" cy="221.0" r="0.5" fill="#8f94cc" opacity="0.55"/><circle cx="170.4" cy="220.2" r="0.5" fill="#8f94cc" opacity="0.55"/><circle cx="167.0" cy="220.5" r="0.5" fill="#8f94cc" opacity="0.55"/><circle cx="154.0" cy="232.4" r="0.5" fill="#8f94cc" opacity="0.55"/><circle cx="155.2" cy="224.7" r="0.5" fill="#8f94cc" opacity="0.55"/><circle cx="156.5" cy="231.1" r="0.5" fill="#8f94cc" opacity="0.55"/><circle cx="162.7" cy="226.0" r="0.5" fill="#8f94cc" opacity="0.55"/><circle cx="156.5" cy="227.5" r="0.5" fill="#8f94cc" opacity="0.55"/><circle cx="167.7" cy="220.5" r="0.5" fill="#8f94cc" opacity="0.55"/><circle cx="170.9" cy="219.4" r="0.5" fill="#8f94cc" opacity="0.55"/><circle cx="163.7" cy="224.3" r="0.5" fill="#8f94cc" opacity="0.55"/><circle cx="158.0" cy="228.2" r="0.5" fill="#8f94cc" opacity="0.55"/><circle cx="161.2" cy="224.6" r="0.5" fill="#8f94cc" opacity="0.55"/><circle cx="166.5" cy="218.1" r="0.5" fill="#8f94cc" opacity="0.55"/><circle cx="165.0" cy="220.6" r="0.5" fill="#8f94cc" opacity="0.55"/><circle cx="154.8" cy="229.5" r="0.5" fill="#8f94cc" opacity="0.55"/><circle cx="152.4" cy="233.0" r="0.5" fill="#8f94cc" opacity="0.55"/><circle cx="155.5" cy="228.5" r="0.5" fill="#8f94cc" opacity="0.55"/><circle cx="159.5" cy="228.3" r="0.5" fill="#8f94cc" opacity="0.55"/><circle cx="169.7" cy="219.9" r="0.5" fill="#8f94cc" opacity="0.55"/><circle cx="153.2" cy="231.5" r="0.5" fill="#8f94cc" opacity="0.55"/><circle cx="163.7" cy="222.7" r="0.5" fill="#8f94cc" opacity="0.55"/><circle cx="156.9" cy="224.4" r="0.5" fill="#8f94cc" opacity="0.55"/><circle cx="167.0" cy="219.8" r="0.5" fill="#8f94cc" opacity="0.55"/><circle cx="153.2" cy="228.8" r="0.5" fill="#8f94cc" opacity="0.55"/><circle cx="160.0" cy="226.0" r="0.5" fill="#8f94cc" opacity="0.55"/><circle cx="154.1" cy="230.1" r="0.5" fill="#8f94cc" opacity="0.55"/><circle cx="154.7" cy="228.1" r="0.5" fill="#8f94cc" opacity="0.55"/><circle cx="152.8" cy="230.3" r="0.5" fill="#8f94cc" opacity="0.55"/><circle cx="160.9" cy="227.8" r="0.5" fill="#8f94cc" opacity="0.55"/><circle cx="164.4" cy="223.0" r="0.5" fill="#8f94cc" opacity="0.55"/><circle cx="161.2" cy="222.5" r="0.5" fill="#8f94cc" opacity="0.55"/><circle cx="170.4" cy="219.9" r="0.5" fill="#8f94cc" opacity="0.55"/><circle cx="154.0" cy="233.9" r="0.5" fill="#8f94cc" opacity="0.55"/><circle cx="163.5" cy="223.3" r="0.5" fill="#8f94cc" opacity="0.55"/><circle cx="166.9" cy="220.6" r="0.5" fill="#8f94cc" opacity="0.55"/><circle cx="166.9" cy="221.1" r="0.5" fill="#8f94cc" opacity="0.55"/>
<circle cx="137.4" cy="204.3" r="0.4" fill="#8f94cc" opacity="0.4"/><circle cx="127.6" cy="193.5" r="0.4" fill="#8f94cc" opacity="0.4"/><circle cx="125.6" cy="186.5" r="0.4" fill="#8f94cc" opacity="0.4"/><circle cx="128.5" cy="203.4" r="0.4" fill="#8f94cc" opacity="0.4"/><circle cx="138.8" cy="186.5" r="0.4" fill="#8f94cc" opacity="0.4"/><circle cx="122.2" cy="191.8" r="0.4" fill="#8f94cc" opacity="0.4"/>
<ellipse cx="142.9" cy="234.5" rx="5.8" ry="2.2" transform="rotate(-12 142.9 234.5)" fill="#2f5fc0"/>
<ellipse cx="142.4" cy="234.7" rx="3.8" ry="1.3" transform="rotate(-12 142.4 234.7)" fill="#1fa0a8"/>
<circle cx="152.6" cy="232.5" r="0.55" fill="#3a52c0" opacity="0.8"/><circle cx="148.8" cy="232.3" r="0.55" fill="#3a52c0" opacity="0.8"/><circle cx="148.1" cy="234.1" r="0.55" fill="#3a52c0" opacity="0.8"/><circle cx="151.1" cy="232.0" r="0.55" fill="#3a52c0" opacity="0.8"/><circle cx="147.9" cy="232.6" r="0.55" fill="#3a52c0" opacity="0.8"/><circle cx="148.5" cy="234.9" r="0.55" fill="#3a52c0" opacity="0.8"/><circle cx="148.7" cy="232.6" r="0.55" fill="#3a52c0" opacity="0.8"/><circle cx="152.0" cy="230.6" r="0.55" fill="#3a52c0" opacity="0.8"/><circle cx="150.2" cy="234.0" r="0.55" fill="#3a52c0" opacity="0.8"/><circle cx="150.3" cy="233.3" r="0.55" fill="#3a52c0" opacity="0.8"/><circle cx="150.6" cy="231.9" r="0.55" fill="#3a52c0" opacity="0.8"/><circle cx="153.5" cy="231.4" r="0.55" fill="#3a52c0" opacity="0.8"/><circle cx="145.9" cy="233.4" r="0.55" fill="#3a52c0" opacity="0.8"/><circle cx="155.1" cy="231.8" r="0.55" fill="#3a52c0" opacity="0.8"/><circle cx="149.4" cy="232.7" r="0.55" fill="#3a52c0" opacity="0.8"/><circle cx="147.4" cy="232.8" r="0.55" fill="#3a52c0" opacity="0.8"/><circle cx="146.3" cy="233.6" r="0.55" fill="#3a52c0" opacity="0.8"/><circle cx="154.8" cy="231.5" r="0.55" fill="#3a52c0" opacity="0.8"/><circle cx="155.4" cy="231.0" r="0.55" fill="#3a52c0" opacity="0.8"/><circle cx="148.0" cy="233.3" r="0.55" fill="#3a52c0" opacity="0.8"/><circle cx="153.0" cy="230.2" r="0.55" fill="#3a52c0" opacity="0.8"/><circle cx="148.3" cy="232.8" r="0.55" fill="#3a52c0" opacity="0.8"/><circle cx="151.0" cy="231.4" r="0.55" fill="#3a52c0" opacity="0.8"/><circle cx="148.5" cy="234.1" r="0.55" fill="#3a52c0" opacity="0.8"/><circle cx="150.7" cy="232.6" r="0.55" fill="#3a52c0" opacity="0.8"/><circle cx="148.6" cy="231.4" r="0.55" fill="#3a52c0" opacity="0.8"/><circle cx="146.0" cy="233.2" r="0.55" fill="#3a52c0" opacity="0.8"/><circle cx="147.4" cy="233.4" r="0.55" fill="#3a52c0" opacity="0.8"/><circle cx="150.6" cy="231.8" r="0.55" fill="#3a52c0" opacity="0.8"/><circle cx="148.4" cy="233.5" r="0.55" fill="#3a52c0" opacity="0.8"/>
</g>
</g>
<rect x="118.90" y="174.80" width="80.40" height="79.80" fill="none" stroke="#222" stroke-width="1.5" />
<line x1="148.50" y1="174.80" x2="148.50" y2="254.60" stroke="#444" stroke-width="1" />
<line x1="118.90" y1="223.50" x2="199.30" y2="223.50" stroke="#444" stroke-width="1" />
<text transform="translate(184.50,219.30)" font-size="8" text-anchor="middle" fill="#222" >2.9</text>
<text transform="translate(133.10,250.80)" font-size="8" text-anchor="middle" fill="#222" >94.5</text>
<text transform="translate(184.80,250.80)" font-size="8" text-anchor="middle" fill="#222" >2.4</text>
<text transform="translate(246.80,169.30)" font-size="9.2" text-anchor="middle" fill="#1a1a1a" letter-spacing="0.4">MAb131 1ug/ml</text>
<clipPath id="bc2"><rect x="206.4" y="174.8" width="80.4" height="79.79999999999998"/></clipPath><g clip-path="url(#bc2)"><g filter="url(#sb)">
<circle cx="257.7" cy="205.9" r="0.45" fill="#8f94cc" opacity="0.45"/><circle cx="258.7" cy="196.5" r="0.45" fill="#8f94cc" opacity="0.45"/><circle cx="239.5" cy="204.2" r="0.45" fill="#8f94cc" opacity="0.45"/><circle cx="260.6" cy="187.8" r="0.45" fill="#8f94cc" opacity="0.45"/><circle cx="273.1" cy="211.1" r="0.45" fill="#8f94cc" opacity="0.45"/><circle cx="259.2" cy="185.5" r="0.45" fill="#8f94cc" opacity="0.45"/><circle cx="259.9" cy="182.4" r="0.45" fill="#8f94cc" opacity="0.45"/><circle cx="244.2" cy="196.2" r="0.45" fill="#8f94cc" opacity="0.45"/><circle cx="242.6" cy="196.7" r="0.45" fill="#8f94cc" opacity="0.45"/><circle cx="261.6" cy="179.5" r="0.45" fill="#8f94cc" opacity="0.45"/><circle cx="267.3" cy="181.3" r="0.45" fill="#8f94cc" opacity="0.45"/><circle cx="271.7" cy="211.0" r="0.45" fill="#8f94cc" opacity="0.45"/><circle cx="261.6" cy="180.1" r="0.45" fill="#8f94cc" opacity="0.45"/><circle cx="261.3" cy="193.9" r="0.45" fill="#8f94cc" opacity="0.45"/><circle cx="281.6" cy="183.6" r="0.45" fill="#8f94cc" opacity="0.45"/><circle cx="277.3" cy="220.3" r="0.45" fill="#8f94cc" opacity="0.45"/><circle cx="271.6" cy="212.6" r="0.45" fill="#8f94cc" opacity="0.45"/><circle cx="247.2" cy="219.7" r="0.45" fill="#8f94cc" opacity="0.45"/><circle cx="260.7" cy="218.6" r="0.45" fill="#8f94cc" opacity="0.45"/><circle cx="280.0" cy="184.9" r="0.45" fill="#8f94cc" opacity="0.45"/><circle cx="274.2" cy="217.5" r="0.45" fill="#8f94cc" opacity="0.45"/><circle cx="241.4" cy="192.8" r="0.45" fill="#8f94cc" opacity="0.45"/><circle cx="272.7" cy="184.6" r="0.45" fill="#8f94cc" opacity="0.45"/><circle cx="279.1" cy="189.5" r="0.45" fill="#8f94cc" opacity="0.45"/><circle cx="275.4" cy="183.9" r="0.45" fill="#8f94cc" opacity="0.45"/><circle cx="261.2" cy="217.1" r="0.45" fill="#8f94cc" opacity="0.45"/><circle cx="247.9" cy="189.0" r="0.45" fill="#8f94cc" opacity="0.45"/><circle cx="261.4" cy="191.4" r="0.45" fill="#8f94cc" opacity="0.45"/><circle cx="240.1" cy="185.6" r="0.45" fill="#8f94cc" opacity="0.45"/><circle cx="245.7" cy="217.8" r="0.45" fill="#8f94cc" opacity="0.45"/><circle cx="269.3" cy="216.0" r="0.45" fill="#8f94cc" opacity="0.45"/><circle cx="246.1" cy="211.3" r="0.45" fill="#8f94cc" opacity="0.45"/><circle cx="243.6" cy="200.5" r="0.45" fill="#8f94cc" opacity="0.45"/><circle cx="267.3" cy="193.2" r="0.45" fill="#8f94cc" opacity="0.45"/><circle cx="278.0" cy="201.5" r="0.45" fill="#8f94cc" opacity="0.45"/><circle cx="264.7" cy="215.5" r="0.45" fill="#8f94cc" opacity="0.45"/><circle cx="243.1" cy="220.2" r="0.45" fill="#8f94cc" opacity="0.45"/><circle cx="267.0" cy="194.6" r="0.45" fill="#8f94cc" opacity="0.45"/><circle cx="274.6" cy="189.1" r="0.45" fill="#8f94cc" opacity="0.45"/><circle cx="283.4" cy="202.5" r="0.45" fill="#8f94cc" opacity="0.45"/><circle cx="254.8" cy="210.5" r="0.45" fill="#8f94cc" opacity="0.45"/><circle cx="258.5" cy="185.3" r="0.45" fill="#8f94cc" opacity="0.45"/><circle cx="272.2" cy="179.9" r="0.45" fill="#8f94cc" opacity="0.45"/><circle cx="275.6" cy="188.6" r="0.45" fill="#8f94cc" opacity="0.45"/><circle cx="267.4" cy="219.8" r="0.45" fill="#8f94cc" opacity="0.45"/>
<circle cx="270.9" cy="188.5" r="0.5" fill="#8f94cc" opacity="0.55"/><circle cx="259.9" cy="205.8" r="0.5" fill="#8f94cc" opacity="0.55"/><circle cx="270.0" cy="191.0" r="0.5" fill="#8f94cc" opacity="0.55"/><circle cx="280.6" cy="183.9" r="0.5" fill="#8f94cc" opacity="0.55"/><circle cx="273.9" cy="188.7" r="0.5" fill="#8f94cc" opacity="0.55"/><circle cx="268.6" cy="197.9" r="0.5" fill="#8f94cc" opacity="0.55"/><circle cx="260.6" cy="198.0" r="0.5" fill="#8f94cc" opacity="0.55"/><circle cx="261.1" cy="198.2" r="0.5" fill="#8f94cc" opacity="0.55"/><circle cx="263.3" cy="201.3" r="0.5" fill="#8f94cc" opacity="0.55"/><circle cx="264.9" cy="203.8" r="0.5" fill="#8f94cc" opacity="0.55"/><circle cx="279.3" cy="180.5" r="0.5" fill="#8f94cc" opacity="0.55"/><circle cx="268.3" cy="199.0" r="0.5" fill="#8f94cc" opacity="0.55"/><circle cx="269.4" cy="194.1" r="0.5" fill="#8f94cc" opacity="0.55"/><circle cx="272.7" cy="192.5" r="0.5" fill="#8f94cc" opacity="0.55"/><circle cx="264.9" cy="198.7" r="0.5" fill="#8f94cc" opacity="0.55"/><circle cx="269.2" cy="192.9" r="0.5" fill="#8f94cc" opacity="0.55"/><circle cx="259.8" cy="203.6" r="0.5" fill="#8f94cc" opacity="0.55"/><circle cx="272.6" cy="190.8" r="0.5" fill="#8f94cc" opacity="0.55"/><circle cx="260.7" cy="198.4" r="0.5" fill="#8f94cc" opacity="0.55"/><circle cx="274.0" cy="187.5" r="0.5" fill="#8f94cc" opacity="0.55"/><circle cx="265.4" cy="198.3" r="0.5" fill="#8f94cc" opacity="0.55"/><circle cx="280.1" cy="178.6" r="0.5" fill="#8f94cc" opacity="0.55"/><circle cx="261.0" cy="201.8" r="0.5" fill="#8f94cc" opacity="0.55"/><circle cx="269.1" cy="190.7" r="0.5" fill="#8f94cc" opacity="0.55"/><circle cx="265.2" cy="200.9" r="0.5" fill="#8f94cc" opacity="0.55"/><circle cx="257.1" cy="208.2" r="0.5" fill="#8f94cc" opacity="0.55"/><circle cx="277.0" cy="184.2" r="0.5" fill="#8f94cc" opacity="0.55"/><circle cx="262.0" cy="197.7" r="0.5" fill="#8f94cc" opacity="0.55"/><circle cx="274.8" cy="184.9" r="0.5" fill="#8f94cc" opacity="0.55"/><circle cx="275.2" cy="188.6" r="0.5" fill="#8f94cc" opacity="0.55"/><circle cx="281.0" cy="183.1" r="0.5" fill="#8f94cc" opacity="0.55"/><circle cx="263.7" cy="193.2" r="0.5" fill="#8f94cc" opacity="0.55"/><circle cx="273.4" cy="191.1" r="0.5" fill="#8f94cc" opacity="0.55"/><circle cx="266.5" cy="202.7" r="0.5" fill="#8f94cc" opacity="0.55"/><circle cx="271.8" cy="185.7" r="0.5" fill="#8f94cc" opacity="0.55"/><circle cx="276.4" cy="181.3" r="0.5" fill="#8f94cc" opacity="0.55"/><circle cx="276.5" cy="185.4" r="0.5" fill="#8f94cc" opacity="0.55"/><circle cx="273.3" cy="185.9" r="0.5" fill="#8f94cc" opacity="0.55"/><circle cx="262.6" cy="199.3" r="0.5" fill="#8f94cc" opacity="0.55"/><circle cx="280.1" cy="182.6" r="0.5" fill="#8f94cc" opacity="0.55"/><circle cx="263.1" cy="201.7" r="0.5" fill="#8f94cc" opacity="0.55"/><circle cx="262.5" cy="202.0" r="0.5" fill="#8f94cc" opacity="0.55"/><circle cx="271.9" cy="184.7" r="0.5" fill="#8f94cc" opacity="0.55"/><circle cx="278.8" cy="188.0" r="0.5" fill="#8f94cc" opacity="0.55"/><circle cx="268.9" cy="191.8" r="0.5" fill="#8f94cc" opacity="0.55"/><circle cx="284.0" cy="184.7" r="0.5" fill="#8f94cc" opacity="0.55"/><circle cx="281.0" cy="181.6" r="0.5" fill="#8f94cc" opacity="0.55"/><circle cx="263.7" cy="200.7" r="0.5" fill="#8f94cc" opacity="0.55"/><circle cx="279.6" cy="180.3" r="0.5" fill="#8f94cc" opacity="0.55"/><circle cx="276.3" cy="182.7" r="0.5" fill="#8f94cc" opacity="0.55"/><circle cx="264.3" cy="205.5" r="0.5" fill="#8f94cc" opacity="0.55"/><circle cx="262.0" cy="202.7" r="0.5" fill="#8f94cc" opacity="0.55"/><circle cx="258.8" cy="207.1" r="0.5" fill="#8f94cc" opacity="0.55"/><circle cx="273.6" cy="188.8" r="0.5" fill="#8f94cc" opacity="0.55"/><circle cx="275.9" cy="180.6" r="0.5" fill="#8f94cc" opacity="0.55"/><circle cx="275.5" cy="190.1" r="0.5" fill="#8f94cc" opacity="0.55"/><circle cx="269.0" cy="191.9" r="0.5" fill="#8f94cc" opacity="0.55"/><circle cx="273.1" cy="187.0" r="0.5" fill="#8f94cc" opacity="0.55"/><circle cx="282.6" cy="185.9" r="0.5" fill="#8f94cc" opacity="0.55"/><circle cx="264.1" cy="201.1" r="0.5" fill="#8f94cc" opacity="0.55"/><circle cx="276.5" cy="185.9" r="0.5" fill="#8f94cc" opacity="0.55"/><circle cx="265.3" cy="193.1" r="0.5" fill="#8f94cc" opacity="0.55"/><circle cx="260.3" cy="200.8" r="0.5" fill="#8f94cc" opacity="0.55"/><circle cx="277.5" cy="190.3" r="0.5" fill="#8f94cc" opacity="0.55"/><circle cx="265.9" cy="202.1" r="0.5" fill="#8f94cc" opacity="0.55"/><circle cx="272.9" cy="195.0" r="0.5" fill="#8f94cc" opacity="0.55"/><circle cx="261.2" cy="199.5" r="0.5" fill="#8f94cc" opacity="0.55"/><circle cx="275.1" cy="183.5" r="0.5" fill="#8f94cc" opacity="0.55"/><circle cx="263.5" cy="198.5" r="0.5" fill="#8f94cc" opacity="0.55"/><circle cx="260.9" cy="202.9" r="0.5" fill="#8f94cc" opacity="0.55"/>
<circle cx="240.6" cy="232.3" r="0.5" fill="#8f94cc" opacity="0.55"/><circle cx="245.0" cy="227.3" r="0.5" fill="#8f94cc" opacity="0.55"/><circle cx="239.6" cy="228.9" r="0.5" fill="#8f94cc" opacity="0.55"/><circle cx="253.0" cy="219.4" r="0.5" fill="#8f94cc" opacity="0.55"/><circle cx="243.6" cy="227.8" r="0.5" fill="#8f94cc" opacity="0.55"/><circle cx="253.6" cy="218.3" r="0.5" fill="#8f94cc" opacity="0.55"/><circle cx="237.6" cy="230.3" r="0.5" fill="#8f94cc" opacity="0.55"/><circle cx="250.4" cy="225.2" r="0.5" fill="#8f94cc" opacity="0.55"/><circle cx="256.0" cy="221.0" r="0.5" fill="#8f94cc" opacity="0.55"/><circle cx="242.1" cy="224.6" r="0.5" fill="#8f94cc" opacity="0.55"/><circle cx="240.5" cy="230.5" r="0.5" fill="#8f94cc" opacity="0.55"/><circle cx="242.6" cy="227.1" r="0.5" fill="#8f94cc" opacity="0.55"/><circle cx="245.2" cy="231.3" r="0.5" fill="#8f94cc" opacity="0.55"/><circle cx="255.7" cy="224.5" r="0.5" fill="#8f94cc" opacity="0.55"/><circle cx="235.2" cy="233.2" r="0.5" fill="#8f94cc" opacity="0.55"/><circle cx="253.7" cy="219.5" r="0.5" fill="#8f94cc" opacity="0.55"/><circle cx="240.2" cy="228.4" r="0.5" fill="#8f94cc" opacity="0.55"/><circle cx="240.6" cy="229.1" r="0.5" fill="#8f94cc" opacity="0.55"/><circle cx="245.8" cy="223.9" r="0.5" fill="#8f94cc" opacity="0.55"/><circle cx="246.2" cy="223.7" r="0.5" fill="#8f94cc" opacity="0.55"/><circle cx="238.2" cy="228.7" r="0.5" fill="#8f94cc" opacity="0.55"/><circle cx="254.1" cy="220.9" r="0.5" fill="#8f94cc" opacity="0.55"/><circle cx="249.0" cy="222.4" r="0.5" fill="#8f94cc" opacity="0.55"/><circle cx="240.9" cy="225.3" r="0.5" fill="#8f94cc" opacity="0.55"/><circle cx="252.5" cy="218.5" r="0.5" fill="#8f94cc" opacity="0.55"/><circle cx="250.2" cy="221.3" r="0.5" fill="#8f94cc" opacity="0.55"/><circle cx="242.8" cy="226.9" r="0.5" fill="#8f94cc" opacity="0.55"/><circle cx="246.1" cy="223.6" r="0.5" fill="#8f94cc" opacity="0.55"/><circle cx="250.3" cy="225.0" r="0.5" fill="#8f94cc" opacity="0.55"/><circle cx="245.2" cy="224.4" r="0.5" fill="#8f94cc" opacity="0.55"/><circle cx="252.2" cy="222.3" r="0.5" fill="#8f94cc" opacity="0.55"/><circle cx="251.1" cy="221.4" r="0.5" fill="#8f94cc" opacity="0.55"/><circle cx="247.6" cy="225.1" r="0.5" fill="#8f94cc" opacity="0.55"/><circle cx="249.8" cy="226.8" r="0.5" fill="#8f94cc" opacity="0.55"/><circle cx="256.4" cy="219.2" r="0.5" fill="#8f94cc" opacity="0.55"/><circle cx="246.6" cy="223.4" r="0.5" fill="#8f94cc" opacity="0.55"/><circle cx="245.7" cy="222.5" r="0.5" fill="#8f94cc" opacity="0.55"/><circle cx="244.6" cy="226.8" r="0.5" fill="#8f94cc" opacity="0.55"/><circle cx="240.4" cy="227.3" r="0.5" fill="#8f94cc" opacity="0.55"/><circle cx="256.5" cy="224.8" r="0.5" fill="#8f94cc" opacity="0.55"/><circle cx="245.4" cy="227.3" r="0.5" fill="#8f94cc" opacity="0.55"/><circle cx="246.9" cy="226.4" r="0.5" fill="#8f94cc" opacity="0.55"/><circle cx="245.2" cy="224.6" r="0.5" fill="#8f94cc" opacity="0.55"/><circle cx="242.7" cy="230.7" r="0.5" fill="#8f94cc" opacity="0.55"/><circle cx="256.0" cy="219.1" r="0.5" fill="#8f94cc" opacity="0.55"/>
<circle cx="230.2" cy="194.5" r="0.4" fill="#8f94cc" opacity="0.4"/><circle cx="214.9" cy="183.3" r="0.4" fill="#8f94cc" opacity="0.4"/><circle cx="229.6" cy="212.4" r="0.4" fill="#8f94cc" opacity="0.4"/><circle cx="225.9" cy="197.8" r="0.4" fill="#8f94cc" opacity="0.4"/><circle cx="224.0" cy="187.4" r="0.4" fill="#8f94cc" opacity="0.4"/><circle cx="234.5" cy="192.9" r="0.4" fill="#8f94cc" opacity="0.4"/>
<ellipse cx="229.4" cy="234.5" rx="5.8" ry="2.2" transform="rotate(-12 229.4 234.5)" fill="#2f5fc0"/>
<ellipse cx="228.9" cy="234.7" rx="3.8" ry="1.3" transform="rotate(-12 228.9 234.7)" fill="#1fa0a8"/>
<circle cx="239.1" cy="230.7" r="0.55" fill="#3a52c0" opacity="0.8"/><circle cx="236.9" cy="233.5" r="0.55" fill="#3a52c0" opacity="0.8"/><circle cx="234.8" cy="232.8" r="0.55" fill="#3a52c0" opacity="0.8"/><circle cx="240.1" cy="232.2" r="0.55" fill="#3a52c0" opacity="0.8"/><circle cx="235.0" cy="233.3" r="0.55" fill="#3a52c0" opacity="0.8"/><circle cx="233.3" cy="233.2" r="0.55" fill="#3a52c0" opacity="0.8"/><circle cx="235.1" cy="234.0" r="0.55" fill="#3a52c0" opacity="0.8"/><circle cx="236.1" cy="231.7" r="0.55" fill="#3a52c0" opacity="0.8"/><circle cx="237.7" cy="232.1" r="0.55" fill="#3a52c0" opacity="0.8"/><circle cx="234.7" cy="232.1" r="0.55" fill="#3a52c0" opacity="0.8"/><circle cx="240.6" cy="232.8" r="0.55" fill="#3a52c0" opacity="0.8"/><circle cx="238.6" cy="232.0" r="0.55" fill="#3a52c0" opacity="0.8"/><circle cx="240.7" cy="230.6" r="0.55" fill="#3a52c0" opacity="0.8"/><circle cx="234.6" cy="234.0" r="0.55" fill="#3a52c0" opacity="0.8"/><circle cx="239.3" cy="232.0" r="0.55" fill="#3a52c0" opacity="0.8"/><circle cx="240.8" cy="230.8" r="0.55" fill="#3a52c0" opacity="0.8"/><circle cx="239.4" cy="230.4" r="0.55" fill="#3a52c0" opacity="0.8"/><circle cx="239.9" cy="231.1" r="0.55" fill="#3a52c0" opacity="0.8"/><circle cx="240.5" cy="232.6" r="0.55" fill="#3a52c0" opacity="0.8"/><circle cx="237.6" cy="231.5" r="0.55" fill="#3a52c0" opacity="0.8"/><circle cx="239.9" cy="231.1" r="0.55" fill="#3a52c0" opacity="0.8"/><circle cx="235.9" cy="233.9" r="0.55" fill="#3a52c0" opacity="0.8"/><circle cx="233.4" cy="233.7" r="0.55" fill="#3a52c0" opacity="0.8"/><circle cx="236.3" cy="232.4" r="0.55" fill="#3a52c0" opacity="0.8"/><circle cx="241.8" cy="231.4" r="0.55" fill="#3a52c0" opacity="0.8"/><circle cx="236.1" cy="232.0" r="0.55" fill="#3a52c0" opacity="0.8"/><circle cx="239.5" cy="232.0" r="0.55" fill="#3a52c0" opacity="0.8"/><circle cx="242.1" cy="231.6" r="0.55" fill="#3a52c0" opacity="0.8"/><circle cx="239.6" cy="232.2" r="0.55" fill="#3a52c0" opacity="0.8"/><circle cx="239.5" cy="231.6" r="0.55" fill="#3a52c0" opacity="0.8"/>
</g>
</g>
<rect x="206.40" y="174.80" width="80.40" height="79.80" fill="none" stroke="#222" stroke-width="1.5" />
<line x1="236.50" y1="174.80" x2="236.50" y2="254.60" stroke="#444" stroke-width="1" />
<line x1="206.40" y1="223.50" x2="286.80" y2="223.50" stroke="#444" stroke-width="1" />
<text transform="translate(272.00,219.30)" font-size="8" text-anchor="middle" fill="#222" >3.9</text>
<text transform="translate(220.60,250.80)" font-size="8" text-anchor="middle" fill="#222" >93.1</text>
<text transform="translate(272.30,250.80)" font-size="8" text-anchor="middle" fill="#222" >3.1</text>
<text transform="translate(334.30,169.30)" font-size="9.2" text-anchor="middle" fill="#1a1a1a" letter-spacing="0.4">MAb131 10ug/ml</text>
<clipPath id="bc3"><rect x="293.9" y="174.8" width="80.4" height="79.79999999999998"/></clipPath><g clip-path="url(#bc3)"><g filter="url(#sb)">
<circle cx="370.5" cy="204.0" r="0.45" fill="#8f94cc" opacity="0.45"/><circle cx="347.9" cy="217.0" r="0.45" fill="#8f94cc" opacity="0.45"/><circle cx="327.4" cy="211.0" r="0.45" fill="#8f94cc" opacity="0.45"/><circle cx="354.3" cy="198.2" r="0.45" fill="#8f94cc" opacity="0.45"/><circle cx="365.0" cy="199.1" r="0.45" fill="#8f94cc" opacity="0.45"/><circle cx="347.4" cy="204.5" r="0.45" fill="#8f94cc" opacity="0.45"/><circle cx="360.9" cy="193.9" r="0.45" fill="#8f94cc" opacity="0.45"/><circle cx="345.7" cy="201.0" r="0.45" fill="#8f94cc" opacity="0.45"/><circle cx="351.1" cy="214.7" r="0.45" fill="#8f94cc" opacity="0.45"/><circle cx="339.2" cy="214.7" r="0.45" fill="#8f94cc" opacity="0.45"/><circle cx="344.2" cy="203.8" r="0.45" fill="#8f94cc" opacity="0.45"/><circle cx="338.2" cy="203.9" r="0.45" fill="#8f94cc" opacity="0.45"/><circle cx="370.2" cy="208.9" r="0.45" fill="#8f94cc" opacity="0.45"/><circle cx="361.9" cy="198.0" r="0.45" fill="#8f94cc" opacity="0.45"/><circle cx="340.3" cy="196.9" r="0.45" fill="#8f94cc" opacity="0.45"/><circle cx="352.5" cy="208.2" r="0.45" fill="#8f94cc" opacity="0.45"/><circle cx="361.5" cy="188.1" r="0.45" fill="#8f94cc" opacity="0.45"/><circle cx="358.7" cy="216.6" r="0.45" fill="#8f94cc" opacity="0.45"/><circle cx="350.7" cy="188.5" r="0.45" fill="#8f94cc" opacity="0.45"/><circle cx="339.5" cy="187.0" r="0.45" fill="#8f94cc" opacity="0.45"/><circle cx="334.5" cy="217.9" r="0.45" fill="#8f94cc" opacity="0.45"/><circle cx="353.5" cy="209.0" r="0.45" fill="#8f94cc" opacity="0.45"/><circle cx="361.7" cy="217.5" r="0.45" fill="#8f94cc" opacity="0.45"/><circle cx="353.7" cy="207.6" r="0.45" fill="#8f94cc" opacity="0.45"/><circle cx="354.4" cy="210.3" r="0.45" fill="#8f94cc" opacity="0.45"/><circle cx="353.0" cy="209.7" r="0.45" fill="#8f94cc" opacity="0.45"/><circle cx="335.5" cy="209.3" r="0.45" fill="#8f94cc" opacity="0.45"/><circle cx="346.7" cy="212.5" r="0.45" fill="#8f94cc" opacity="0.45"/><circle cx="330.5" cy="192.9" r="0.45" fill="#8f94cc" opacity="0.45"/><circle cx="327.6" cy="212.9" r="0.45" fill="#8f94cc" opacity="0.45"/><circle cx="367.4" cy="208.9" r="0.45" fill="#8f94cc" opacity="0.45"/><circle cx="342.6" cy="214.5" r="0.45" fill="#8f94cc" opacity="0.45"/><circle cx="361.6" cy="205.7" r="0.45" fill="#8f94cc" opacity="0.45"/><circle cx="337.6" cy="197.0" r="0.45" fill="#8f94cc" opacity="0.45"/><circle cx="345.0" cy="197.5" r="0.45" fill="#8f94cc" opacity="0.45"/><circle cx="345.5" cy="208.4" r="0.45" fill="#8f94cc" opacity="0.45"/><circle cx="368.3" cy="188.6" r="0.45" fill="#8f94cc" opacity="0.45"/><circle cx="351.7" cy="188.1" r="0.45" fill="#8f94cc" opacity="0.45"/><circle cx="331.3" cy="214.1" r="0.45" fill="#8f94cc" opacity="0.45"/><circle cx="352.0" cy="217.8" r="0.45" fill="#8f94cc" opacity="0.45"/><circle cx="346.2" cy="187.3" r="0.45" fill="#8f94cc" opacity="0.45"/><circle cx="343.5" cy="206.7" r="0.45" fill="#8f94cc" opacity="0.45"/><circle cx="368.5" cy="219.9" r="0.45" fill="#8f94cc" opacity="0.45"/><circle cx="347.5" cy="200.7" r="0.45" fill="#8f94cc" opacity="0.45"/><circle cx="330.5" cy="208.5" r="0.45" fill="#8f94cc" opacity="0.45"/><circle cx="335.5" cy="191.9" r="0.45" fill="#8f94cc" opacity="0.45"/><circle cx="326.6" cy="187.0" r="0.45" fill="#8f94cc" opacity="0.45"/><circle cx="356.9" cy="190.9" r="0.45" fill="#8f94cc" opacity="0.45"/><circle cx="369.8" cy="189.8" r="0.45" fill="#8f94cc" opacity="0.45"/><circle cx="365.4" cy="191.1" r="0.45" fill="#8f94cc" opacity="0.45"/><circle cx="326.7" cy="211.0" r="0.45" fill="#8f94cc" opacity="0.45"/><circle cx="336.9" cy="211.5" r="0.45" fill="#8f94cc" opacity="0.45"/><circle cx="334.4" cy="188.5" r="0.45" fill="#8f94cc" opacity="0.45"/><circle cx="361.0" cy="210.8" r="0.45" fill="#8f94cc" opacity="0.45"/><circle cx="364.7" cy="211.4" r="0.45" fill="#8f94cc" opacity="0.45"/><circle cx="329.7" cy="208.0" r="0.45" fill="#8f94cc" opacity="0.45"/><circle cx="358.1" cy="202.3" r="0.45" fill="#8f94cc" opacity="0.45"/><circle cx="368.2" cy="195.4" r="0.45" fill="#8f94cc" opacity="0.45"/><circle cx="369.7" cy="211.0" r="0.45" fill="#8f94cc" opacity="0.45"/><circle cx="326.4" cy="187.3" r="0.45" fill="#8f94cc" opacity="0.45"/>
<circle cx="313.8" cy="212.7" r="0.4" fill="#8f94cc" opacity="0.4"/><circle cx="299.0" cy="191.1" r="0.4" fill="#8f94cc" opacity="0.4"/><circle cx="315.9" cy="184.9" r="0.4" fill="#8f94cc" opacity="0.4"/><circle cx="319.3" cy="198.6" r="0.4" fill="#8f94cc" opacity="0.4"/><circle cx="298.5" cy="193.5" r="0.4" fill="#8f94cc" opacity="0.4"/><circle cx="311.8" cy="196.5" r="0.4" fill="#8f94cc" opacity="0.4"/><circle cx="314.5" cy="184.0" r="0.4" fill="#8f94cc" opacity="0.4"/><circle cx="317.6" cy="193.3" r="0.4" fill="#8f94cc" opacity="0.4"/><circle cx="313.7" cy="204.7" r="0.4" fill="#8f94cc" opacity="0.4"/><circle cx="307.8" cy="194.3" r="0.4" fill="#8f94cc" opacity="0.4"/><circle cx="317.3" cy="218.1" r="0.4" fill="#8f94cc" opacity="0.4"/><circle cx="317.3" cy="202.0" r="0.4" fill="#8f94cc" opacity="0.4"/>
<circle cx="353.5" cy="215.9" r="0.55" fill="#6272cc" opacity="0.55"/><circle cx="361.4" cy="198.9" r="0.55" fill="#6272cc" opacity="0.55"/><circle cx="361.4" cy="203.2" r="0.55" fill="#6272cc" opacity="0.55"/><circle cx="356.8" cy="205.8" r="0.55" fill="#6272cc" opacity="0.55"/><circle cx="363.8" cy="196.6" r="0.55" fill="#6272cc" opacity="0.55"/><circle cx="360.5" cy="201.6" r="0.55" fill="#6272cc" opacity="0.55"/><circle cx="349.8" cy="214.3" r="0.55" fill="#6272cc" opacity="0.55"/><circle cx="349.2" cy="207.8" r="0.55" fill="#6272cc" opacity="0.55"/><circle cx="369.6" cy="195.5" r="0.55" fill="#6272cc" opacity="0.55"/><circle cx="365.5" cy="195.0" r="0.55" fill="#6272cc" opacity="0.55"/><circle cx="350.1" cy="211.6" r="0.55" fill="#6272cc" opacity="0.55"/><circle cx="361.6" cy="200.2" r="0.55" fill="#6272cc" opacity="0.55"/><circle cx="339.0" cy="219.5" r="0.55" fill="#6272cc" opacity="0.55"/><circle cx="345.8" cy="212.3" r="0.55" fill="#6272cc" opacity="0.55"/><circle cx="344.4" cy="214.0" r="0.55" fill="#6272cc" opacity="0.55"/><circle cx="354.0" cy="209.8" r="0.55" fill="#6272cc" opacity="0.55"/><circle cx="362.6" cy="196.8" r="0.55" fill="#6272cc" opacity="0.55"/><circle cx="343.7" cy="217.4" r="0.55" fill="#6272cc" opacity="0.55"/><circle cx="343.0" cy="213.8" r="0.55" fill="#6272cc" opacity="0.55"/><circle cx="363.7" cy="194.2" r="0.55" fill="#6272cc" opacity="0.55"/><circle cx="357.7" cy="205.4" r="0.55" fill="#6272cc" opacity="0.55"/><circle cx="344.6" cy="215.8" r="0.55" fill="#6272cc" opacity="0.55"/><circle cx="354.5" cy="206.4" r="0.55" fill="#6272cc" opacity="0.55"/><circle cx="350.9" cy="220.5" r="0.55" fill="#6272cc" opacity="0.55"/><circle cx="353.1" cy="213.0" r="0.55" fill="#6272cc" opacity="0.55"/><circle cx="364.5" cy="200.0" r="0.55" fill="#6272cc" opacity="0.55"/><circle cx="349.6" cy="212.2" r="0.55" fill="#6272cc" opacity="0.55"/><circle cx="344.9" cy="222.2" r="0.55" fill="#6272cc" opacity="0.55"/><circle cx="352.8" cy="207.0" r="0.55" fill="#6272cc" opacity="0.55"/><circle cx="358.5" cy="200.2" r="0.55" fill="#6272cc" opacity="0.55"/><circle cx="364.6" cy="193.7" r="0.55" fill="#6272cc" opacity="0.55"/><circle cx="348.7" cy="215.5" r="0.55" fill="#6272cc" opacity="0.55"/><circle cx="345.8" cy="217.9" r="0.55" fill="#6272cc" opacity="0.55"/><circle cx="357.8" cy="203.7" r="0.55" fill="#6272cc" opacity="0.55"/><circle cx="368.4" cy="192.1" r="0.55" fill="#6272cc" opacity="0.55"/><circle cx="356.7" cy="204.6" r="0.55" fill="#6272cc" opacity="0.55"/><circle cx="368.0" cy="194.7" r="0.55" fill="#6272cc" opacity="0.55"/><circle cx="361.6" cy="201.7" r="0.55" fill="#6272cc" opacity="0.55"/><circle cx="350.3" cy="211.0" r="0.55" fill="#6272cc" opacity="0.55"/><circle cx="369.7" cy="191.8" r="0.55" fill="#6272cc" opacity="0.55"/><circle cx="341.0" cy="224.1" r="0.55" fill="#6272cc" opacity="0.55"/><circle cx="369.6" cy="191.8" r="0.55" fill="#6272cc" opacity="0.55"/><circle cx="342.0" cy="218.9" r="0.55" fill="#6272cc" opacity="0.55"/><circle cx="359.6" cy="202.3" r="0.55" fill="#6272cc" opacity="0.55"/><circle cx="344.3" cy="214.0" r="0.55" fill="#6272cc" opacity="0.55"/><circle cx="359.0" cy="203.9" r="0.55" fill="#6272cc" opacity="0.55"/><circle cx="363.6" cy="199.8" r="0.55" fill="#6272cc" opacity="0.55"/><circle cx="349.1" cy="216.7" r="0.55" fill="#6272cc" opacity="0.55"/><circle cx="344.9" cy="219.1" r="0.55" fill="#6272cc" opacity="0.55"/><circle cx="363.0" cy="201.6" r="0.55" fill="#6272cc" opacity="0.55"/><circle cx="350.1" cy="218.1" r="0.55" fill="#6272cc" opacity="0.55"/><circle cx="350.1" cy="214.7" r="0.55" fill="#6272cc" opacity="0.55"/><circle cx="367.4" cy="196.1" r="0.55" fill="#6272cc" opacity="0.55"/><circle cx="346.2" cy="218.7" r="0.55" fill="#6272cc" opacity="0.55"/><circle cx="356.6" cy="203.5" r="0.55" fill="#6272cc" opacity="0.55"/><circle cx="361.3" cy="197.0" r="0.55" fill="#6272cc" opacity="0.55"/><circle cx="344.2" cy="219.5" r="0.55" fill="#6272cc" opacity="0.55"/><circle cx="359.8" cy="199.8" r="0.55" fill="#6272cc" opacity="0.55"/><circle cx="365.3" cy="197.1" r="0.55" fill="#6272cc" opacity="0.55"/><circle cx="344.0" cy="222.2" r="0.55" fill="#6272cc" opacity="0.55"/><circle cx="350.9" cy="214.6" r="0.55" fill="#6272cc" opacity="0.55"/><circle cx="350.1" cy="212.5" r="0.55" fill="#6272cc" opacity="0.55"/><circle cx="372.6" cy="193.0" r="0.55" fill="#6272cc" opacity="0.55"/><circle cx="360.1" cy="203.9" r="0.55" fill="#6272cc" opacity="0.55"/><circle cx="348.2" cy="215.5" r="0.55" fill="#6272cc" opacity="0.55"/><circle cx="357.7" cy="211.2" r="0.55" fill="#6272cc" opacity="0.55"/><circle cx="368.4" cy="194.2" r="0.55" fill="#6272cc" opacity="0.55"/><circle cx="369.3" cy="195.3" r="0.55" fill="#6272cc" opacity="0.55"/><circle cx="348.9" cy="213.9" r="0.55" fill="#6272cc" opacity="0.55"/><circle cx="363.0" cy="198.0" r="0.55" fill="#6272cc" opacity="0.55"/><circle cx="341.2" cy="221.3" r="0.55" fill="#6272cc" opacity="0.55"/><circle cx="341.3" cy="219.2" r="0.55" fill="#6272cc" opacity="0.55"/><circle cx="345.3" cy="215.9" r="0.55" fill="#6272cc" opacity="0.55"/><circle cx="345.6" cy="214.5" r="0.55" fill="#6272cc" opacity="0.55"/><circle cx="346.4" cy="217.5" r="0.55" fill="#6272cc" opacity="0.55"/><circle cx="356.2" cy="203.6" r="0.55" fill="#6272cc" opacity="0.55"/><circle cx="343.6" cy="214.7" r="0.55" fill="#6272cc" opacity="0.55"/><circle cx="362.6" cy="196.3" r="0.55" fill="#6272cc" opacity="0.55"/><circle cx="341.6" cy="219.3" r="0.55" fill="#6272cc" opacity="0.55"/><circle cx="364.5" cy="201.1" r="0.55" fill="#6272cc" opacity="0.55"/><circle cx="351.9" cy="209.2" r="0.55" fill="#6272cc" opacity="0.55"/><circle cx="358.8" cy="207.8" r="0.55" fill="#6272cc" opacity="0.55"/><circle cx="355.0" cy="206.8" r="0.55" fill="#6272cc" opacity="0.55"/><circle cx="346.3" cy="215.7" r="0.55" fill="#6272cc" opacity="0.55"/><circle cx="342.9" cy="220.1" r="0.55" fill="#6272cc" opacity="0.55"/><circle cx="337.9" cy="223.1" r="0.55" fill="#6272cc" opacity="0.55"/><circle cx="357.4" cy="208.8" r="0.55" fill="#6272cc" opacity="0.55"/><circle cx="365.1" cy="195.5" r="0.55" fill="#6272cc" opacity="0.55"/><circle cx="358.4" cy="202.5" r="0.55" fill="#6272cc" opacity="0.55"/><circle cx="345.2" cy="217.9" r="0.55" fill="#6272cc" opacity="0.55"/><circle cx="352.0" cy="207.1" r="0.55" fill="#6272cc" opacity="0.55"/><circle cx="360.9" cy="206.6" r="0.55" fill="#6272cc" opacity="0.55"/><circle cx="346.9" cy="217.0" r="0.55" fill="#6272cc" opacity="0.55"/><circle cx="347.5" cy="214.9" r="0.55" fill="#6272cc" opacity="0.55"/><circle cx="342.3" cy="219.1" r="0.55" fill="#6272cc" opacity="0.55"/><circle cx="338.3" cy="221.4" r="0.55" fill="#6272cc" opacity="0.55"/><circle cx="355.0" cy="205.5" r="0.55" fill="#6272cc" opacity="0.55"/><circle cx="365.3" cy="194.5" r="0.55" fill="#6272cc" opacity="0.55"/><circle cx="341.2" cy="219.6" r="0.55" fill="#6272cc" opacity="0.55"/><circle cx="349.6" cy="215.8" r="0.55" fill="#6272cc" opacity="0.55"/><circle cx="340.6" cy="216.9" r="0.55" fill="#6272cc" opacity="0.55"/><circle cx="341.3" cy="217.2" r="0.55" fill="#6272cc" opacity="0.55"/><circle cx="346.9" cy="213.9" r="0.55" fill="#6272cc" opacity="0.55"/><circle cx="348.0" cy="212.6" r="0.55" fill="#6272cc" opacity="0.55"/><circle cx="351.6" cy="209.2" r="0.55" fill="#6272cc" opacity="0.55"/><circle cx="362.0" cy="199.4" r="0.55" fill="#6272cc" opacity="0.55"/><circle cx="344.6" cy="214.8" r="0.55" fill="#6272cc" opacity="0.55"/><circle cx="366.7" cy="195.3" r="0.55" fill="#6272cc" opacity="0.55"/><circle cx="367.1" cy="196.6" r="0.55" fill="#6272cc" opacity="0.55"/><circle cx="369.4" cy="191.6" r="0.55" fill="#6272cc" opacity="0.55"/><circle cx="351.0" cy="208.3" r="0.55" fill="#6272cc" opacity="0.55"/><circle cx="357.4" cy="207.0" r="0.55" fill="#6272cc" opacity="0.55"/><circle cx="355.8" cy="207.1" r="0.55" fill="#6272cc" opacity="0.55"/><circle cx="369.2" cy="187.2" r="0.55" fill="#6272cc" opacity="0.55"/><circle cx="360.0" cy="198.9" r="0.55" fill="#6272cc" opacity="0.55"/><circle cx="368.7" cy="195.2" r="0.55" fill="#6272cc" opacity="0.55"/><circle cx="347.0" cy="213.4" r="0.55" fill="#6272cc" opacity="0.55"/><circle cx="358.3" cy="204.5" r="0.55" fill="#6272cc" opacity="0.55"/><circle cx="345.2" cy="215.0" r="0.55" fill="#6272cc" opacity="0.55"/><circle cx="367.5" cy="194.1" r="0.55" fill="#6272cc" opacity="0.55"/><circle cx="360.9" cy="204.2" r="0.55" fill="#6272cc" opacity="0.55"/><circle cx="366.4" cy="192.1" r="0.55" fill="#6272cc" opacity="0.55"/><circle cx="352.5" cy="208.0" r="0.55" fill="#6272cc" opacity="0.55"/><circle cx="344.7" cy="220.7" r="0.55" fill="#6272cc" opacity="0.55"/><circle cx="351.5" cy="211.7" r="0.55" fill="#6272cc" opacity="0.55"/><circle cx="338.8" cy="219.5" r="0.55" fill="#6272cc" opacity="0.55"/><circle cx="355.2" cy="202.3" r="0.55" fill="#6272cc" opacity="0.55"/><circle cx="345.3" cy="214.8" r="0.55" fill="#6272cc" opacity="0.55"/><circle cx="354.3" cy="204.1" r="0.55" fill="#6272cc" opacity="0.55"/><circle cx="349.1" cy="214.8" r="0.55" fill="#6272cc" opacity="0.55"/><circle cx="353.0" cy="208.5" r="0.55" fill="#6272cc" opacity="0.55"/><circle cx="337.9" cy="226.3" r="0.55" fill="#6272cc" opacity="0.55"/><circle cx="344.7" cy="214.9" r="0.55" fill="#6272cc" opacity="0.55"/><circle cx="349.9" cy="214.1" r="0.55" fill="#6272cc" opacity="0.55"/><circle cx="363.0" cy="198.9" r="0.55" fill="#6272cc" opacity="0.55"/><circle cx="364.9" cy="195.3" r="0.55" fill="#6272cc" opacity="0.55"/><circle cx="348.3" cy="212.0" r="0.55" fill="#6272cc" opacity="0.55"/><circle cx="343.9" cy="224.9" r="0.55" fill="#6272cc" opacity="0.55"/><circle cx="362.6" cy="200.8" r="0.55" fill="#6272cc" opacity="0.55"/><circle cx="349.0" cy="209.5" r="0.55" fill="#6272cc" opacity="0.55"/><circle cx="365.9" cy="193.5" r="0.55" fill="#6272cc" opacity="0.55"/><circle cx="361.5" cy="196.0" r="0.55" fill="#6272cc" opacity="0.55"/><circle cx="354.6" cy="204.9" r="0.55" fill="#6272cc" opacity="0.55"/><circle cx="369.6" cy="196.5" r="0.55" fill="#6272cc" opacity="0.55"/><circle cx="340.3" cy="220.7" r="0.55" fill="#6272cc" opacity="0.55"/><circle cx="357.1" cy="206.6" r="0.55" fill="#6272cc" opacity="0.55"/><circle cx="353.0" cy="205.9" r="0.55" fill="#6272cc" opacity="0.55"/><circle cx="356.2" cy="205.1" r="0.55" fill="#6272cc" opacity="0.55"/><circle cx="353.1" cy="206.9" r="0.55" fill="#6272cc" opacity="0.55"/><circle cx="349.5" cy="210.1" r="0.55" fill="#6272cc" opacity="0.55"/><circle cx="350.3" cy="209.2" r="0.55" fill="#6272cc" opacity="0.55"/><circle cx="353.4" cy="207.6" r="0.55" fill="#6272cc" opacity="0.55"/><circle cx="350.4" cy="215.6" r="0.55" fill="#6272cc" opacity="0.55"/><circle cx="360.8" cy="206.8" r="0.55" fill="#6272cc" opacity="0.55"/><circle cx="351.5" cy="209.7" r="0.55" fill="#6272cc" opacity="0.55"/><circle cx="368.7" cy="194.2" r="0.55" fill="#6272cc" opacity="0.55"/><circle cx="367.3" cy="193.8" r="0.55" fill="#6272cc" opacity="0.55"/><circle cx="352.0" cy="205.1" r="0.55" fill="#6272cc" opacity="0.55"/><circle cx="355.7" cy="196.5" r="0.55" fill="#6272cc" opacity="0.55"/><circle cx="352.1" cy="206.3" r="0.55" fill="#6272cc" opacity="0.55"/><circle cx="349.7" cy="212.9" r="0.55" fill="#6272cc" opacity="0.55"/><circle cx="353.1" cy="211.1" r="0.55" fill="#6272cc" opacity="0.55"/><circle cx="356.9" cy="207.5" r="0.55" fill="#6272cc" opacity="0.55"/><circle cx="349.3" cy="209.4" r="0.55" fill="#6272cc" opacity="0.55"/><circle cx="368.0" cy="194.2" r="0.55" fill="#6272cc" opacity="0.55"/><circle cx="348.1" cy="204.4" r="0.55" fill="#6272cc" opacity="0.55"/><circle cx="346.4" cy="211.6" r="0.55" fill="#6272cc" opacity="0.55"/><circle cx="342.6" cy="223.0" r="0.55" fill="#6272cc" opacity="0.55"/><circle cx="363.2" cy="196.4" r="0.55" fill="#6272cc" opacity="0.55"/><circle cx="364.8" cy="190.8" r="0.55" fill="#6272cc" opacity="0.55"/>
<circle cx="342.8" cy="222.6" r="0.6" fill="#3c58c0" opacity="0.65"/><circle cx="326.3" cy="231.0" r="0.6" fill="#3c58c0" opacity="0.65"/><circle cx="333.3" cy="227.8" r="0.6" fill="#3c58c0" opacity="0.65"/><circle cx="334.2" cy="225.3" r="0.6" fill="#3c58c0" opacity="0.65"/><circle cx="341.5" cy="223.2" r="0.6" fill="#3c58c0" opacity="0.65"/><circle cx="331.6" cy="226.5" r="0.6" fill="#3c58c0" opacity="0.65"/><circle cx="337.5" cy="225.7" r="0.6" fill="#3c58c0" opacity="0.65"/><circle cx="337.3" cy="223.5" r="0.6" fill="#3c58c0" opacity="0.65"/><circle cx="325.7" cy="229.1" r="0.6" fill="#3c58c0" opacity="0.65"/><circle cx="327.6" cy="227.3" r="0.6" fill="#3c58c0" opacity="0.65"/><circle cx="340.6" cy="222.9" r="0.6" fill="#3c58c0" opacity="0.65"/><circle cx="327.4" cy="231.6" r="0.6" fill="#3c58c0" opacity="0.65"/><circle cx="326.5" cy="230.3" r="0.6" fill="#3c58c0" opacity="0.65"/><circle cx="334.2" cy="225.1" r="0.6" fill="#3c58c0" opacity="0.65"/><circle cx="338.6" cy="224.9" r="0.6" fill="#3c58c0" opacity="0.65"/><circle cx="336.8" cy="227.1" r="0.6" fill="#3c58c0" opacity="0.65"/><circle cx="330.8" cy="229.0" r="0.6" fill="#3c58c0" opacity="0.65"/><circle cx="327.2" cy="228.8" r="0.6" fill="#3c58c0" opacity="0.65"/><circle cx="328.9" cy="228.5" r="0.6" fill="#3c58c0" opacity="0.65"/><circle cx="326.3" cy="228.9" r="0.6" fill="#3c58c0" opacity="0.65"/><circle cx="339.4" cy="224.5" r="0.6" fill="#3c58c0" opacity="0.65"/><circle cx="331.5" cy="229.6" r="0.6" fill="#3c58c0" opacity="0.65"/><circle cx="338.1" cy="227.3" r="0.6" fill="#3c58c0" opacity="0.65"/><circle cx="338.0" cy="226.6" r="0.6" fill="#3c58c0" opacity="0.65"/><circle cx="337.8" cy="223.9" r="0.6" fill="#3c58c0" opacity="0.65"/><circle cx="326.6" cy="230.2" r="0.6" fill="#3c58c0" opacity="0.65"/><circle cx="326.8" cy="231.6" r="0.6" fill="#3c58c0" opacity="0.65"/><circle cx="332.9" cy="226.1" r="0.6" fill="#3c58c0" opacity="0.65"/><circle cx="326.5" cy="230.0" r="0.6" fill="#3c58c0" opacity="0.65"/><circle cx="340.9" cy="225.4" r="0.6" fill="#3c58c0" opacity="0.65"/><circle cx="324.6" cy="229.4" r="0.6" fill="#3c58c0" opacity="0.65"/><circle cx="331.8" cy="228.0" r="0.6" fill="#3c58c0" opacity="0.65"/><circle cx="338.1" cy="225.6" r="0.6" fill="#3c58c0" opacity="0.65"/><circle cx="327.1" cy="230.2" r="0.6" fill="#3c58c0" opacity="0.65"/><circle cx="323.9" cy="229.2" r="0.6" fill="#3c58c0" opacity="0.65"/><circle cx="326.5" cy="228.8" r="0.6" fill="#3c58c0" opacity="0.65"/><circle cx="329.1" cy="228.0" r="0.6" fill="#3c58c0" opacity="0.65"/><circle cx="333.2" cy="225.2" r="0.6" fill="#3c58c0" opacity="0.65"/><circle cx="325.4" cy="231.2" r="0.6" fill="#3c58c0" opacity="0.65"/><circle cx="331.6" cy="227.6" r="0.6" fill="#3c58c0" opacity="0.65"/><circle cx="340.0" cy="223.8" r="0.6" fill="#3c58c0" opacity="0.65"/><circle cx="333.5" cy="228.9" r="0.6" fill="#3c58c0" opacity="0.65"/><circle cx="330.1" cy="227.6" r="0.6" fill="#3c58c0" opacity="0.65"/><circle cx="330.6" cy="229.8" r="0.6" fill="#3c58c0" opacity="0.65"/><circle cx="328.2" cy="228.5" r="0.6" fill="#3c58c0" opacity="0.65"/><circle cx="332.1" cy="226.6" r="0.6" fill="#3c58c0" opacity="0.65"/><circle cx="336.3" cy="226.5" r="0.6" fill="#3c58c0" opacity="0.65"/><circle cx="333.6" cy="227.8" r="0.6" fill="#3c58c0" opacity="0.65"/><circle cx="326.7" cy="232.3" r="0.6" fill="#3c58c0" opacity="0.65"/><circle cx="329.3" cy="227.7" r="0.6" fill="#3c58c0" opacity="0.65"/><circle cx="333.0" cy="227.8" r="0.6" fill="#3c58c0" opacity="0.65"/><circle cx="330.4" cy="228.9" r="0.6" fill="#3c58c0" opacity="0.65"/><circle cx="329.5" cy="230.5" r="0.6" fill="#3c58c0" opacity="0.65"/><circle cx="326.5" cy="230.3" r="0.6" fill="#3c58c0" opacity="0.65"/><circle cx="339.9" cy="223.2" r="0.6" fill="#3c58c0" opacity="0.65"/><circle cx="326.2" cy="229.9" r="0.6" fill="#3c58c0" opacity="0.65"/><circle cx="335.5" cy="224.6" r="0.6" fill="#3c58c0" opacity="0.65"/><circle cx="330.2" cy="225.8" r="0.6" fill="#3c58c0" opacity="0.65"/><circle cx="329.1" cy="227.7" r="0.6" fill="#3c58c0" opacity="0.65"/><circle cx="335.5" cy="226.7" r="0.6" fill="#3c58c0" opacity="0.65"/><circle cx="340.1" cy="221.9" r="0.6" fill="#3c58c0" opacity="0.65"/><circle cx="325.4" cy="230.4" r="0.6" fill="#3c58c0" opacity="0.65"/><circle cx="327.0" cy="230.4" r="0.6" fill="#3c58c0" opacity="0.65"/><circle cx="323.9" cy="232.1" r="0.6" fill="#3c58c0" opacity="0.65"/><circle cx="328.1" cy="227.7" r="0.6" fill="#3c58c0" opacity="0.65"/><circle cx="336.8" cy="227.0" r="0.6" fill="#3c58c0" opacity="0.65"/><circle cx="336.2" cy="225.8" r="0.6" fill="#3c58c0" opacity="0.65"/><circle cx="339.1" cy="223.5" r="0.6" fill="#3c58c0" opacity="0.65"/><circle cx="325.8" cy="228.7" r="0.6" fill="#3c58c0" opacity="0.65"/><circle cx="324.8" cy="230.8" r="0.6" fill="#3c58c0" opacity="0.65"/><circle cx="338.9" cy="228.0" r="0.6" fill="#3c58c0" opacity="0.65"/><circle cx="339.2" cy="226.4" r="0.6" fill="#3c58c0" opacity="0.65"/><circle cx="330.9" cy="225.1" r="0.6" fill="#3c58c0" opacity="0.65"/><circle cx="331.8" cy="230.3" r="0.6" fill="#3c58c0" opacity="0.65"/><circle cx="333.5" cy="226.6" r="0.6" fill="#3c58c0" opacity="0.65"/><circle cx="338.1" cy="223.6" r="0.6" fill="#3c58c0" opacity="0.65"/><circle cx="334.1" cy="228.1" r="0.6" fill="#3c58c0" opacity="0.65"/><circle cx="328.4" cy="227.3" r="0.6" fill="#3c58c0" opacity="0.65"/><circle cx="326.2" cy="229.2" r="0.6" fill="#3c58c0" opacity="0.65"/><circle cx="336.9" cy="224.6" r="0.6" fill="#3c58c0" opacity="0.65"/><circle cx="335.7" cy="226.3" r="0.6" fill="#3c58c0" opacity="0.65"/><circle cx="333.7" cy="227.2" r="0.6" fill="#3c58c0" opacity="0.65"/><circle cx="329.5" cy="228.5" r="0.6" fill="#3c58c0" opacity="0.65"/><circle cx="330.9" cy="230.0" r="0.6" fill="#3c58c0" opacity="0.65"/><circle cx="336.0" cy="226.8" r="0.6" fill="#3c58c0" opacity="0.65"/><circle cx="330.1" cy="228.0" r="0.6" fill="#3c58c0" opacity="0.65"/><circle cx="329.3" cy="230.8" r="0.6" fill="#3c58c0" opacity="0.65"/><circle cx="325.3" cy="229.0" r="0.6" fill="#3c58c0" opacity="0.65"/><circle cx="336.3" cy="224.1" r="0.6" fill="#3c58c0" opacity="0.65"/><circle cx="326.0" cy="227.7" r="0.6" fill="#3c58c0" opacity="0.65"/>
<circle cx="346.3" cy="181.5" r="0.55" fill="#6a7ed0" opacity="0.5"/><circle cx="331.3" cy="186.1" r="0.55" fill="#6a7ed0" opacity="0.5"/><circle cx="336.6" cy="185.0" r="0.55" fill="#6a7ed0" opacity="0.5"/><circle cx="334.6" cy="183.0" r="0.55" fill="#6a7ed0" opacity="0.5"/><circle cx="330.8" cy="186.2" r="0.55" fill="#6a7ed0" opacity="0.5"/><circle cx="342.2" cy="184.9" r="0.55" fill="#6a7ed0" opacity="0.5"/><circle cx="329.8" cy="184.7" r="0.55" fill="#6a7ed0" opacity="0.5"/><circle cx="329.5" cy="180.6" r="0.55" fill="#6a7ed0" opacity="0.5"/><circle cx="351.6" cy="185.3" r="0.55" fill="#6a7ed0" opacity="0.5"/><circle cx="345.6" cy="186.1" r="0.55" fill="#6a7ed0" opacity="0.5"/><circle cx="329.1" cy="183.7" r="0.55" fill="#6a7ed0" opacity="0.5"/><circle cx="354.9" cy="183.3" r="0.55" fill="#6a7ed0" opacity="0.5"/><circle cx="337.3" cy="185.4" r="0.55" fill="#6a7ed0" opacity="0.5"/><circle cx="328.5" cy="181.9" r="0.55" fill="#6a7ed0" opacity="0.5"/><circle cx="340.0" cy="186.5" r="0.55" fill="#6a7ed0" opacity="0.5"/><circle cx="362.7" cy="183.5" r="0.55" fill="#6a7ed0" opacity="0.5"/><circle cx="360.6" cy="181.9" r="0.55" fill="#6a7ed0" opacity="0.5"/><circle cx="341.5" cy="187.0" r="0.55" fill="#6a7ed0" opacity="0.5"/><circle cx="338.9" cy="185.9" r="0.55" fill="#6a7ed0" opacity="0.5"/><circle cx="342.7" cy="183.5" r="0.55" fill="#6a7ed0" opacity="0.5"/><circle cx="326.7" cy="183.9" r="0.55" fill="#6a7ed0" opacity="0.5"/><circle cx="359.9" cy="180.9" r="0.55" fill="#6a7ed0" opacity="0.5"/><circle cx="364.3" cy="183.9" r="0.55" fill="#6a7ed0" opacity="0.5"/><circle cx="332.8" cy="186.5" r="0.55" fill="#6a7ed0" opacity="0.5"/><circle cx="329.9" cy="183.9" r="0.55" fill="#6a7ed0" opacity="0.5"/><circle cx="345.9" cy="184.2" r="0.55" fill="#6a7ed0" opacity="0.5"/><circle cx="327.6" cy="185.1" r="0.55" fill="#6a7ed0" opacity="0.5"/><circle cx="359.7" cy="184.1" r="0.55" fill="#6a7ed0" opacity="0.5"/><circle cx="362.7" cy="182.4" r="0.55" fill="#6a7ed0" opacity="0.5"/><circle cx="337.7" cy="183.0" r="0.55" fill="#6a7ed0" opacity="0.5"/><circle cx="343.5" cy="185.7" r="0.55" fill="#6a7ed0" opacity="0.5"/><circle cx="356.0" cy="181.3" r="0.55" fill="#6a7ed0" opacity="0.5"/><circle cx="333.2" cy="186.2" r="0.55" fill="#6a7ed0" opacity="0.5"/><circle cx="349.7" cy="185.0" r="0.55" fill="#6a7ed0" opacity="0.5"/><circle cx="329.7" cy="186.2" r="0.55" fill="#6a7ed0" opacity="0.5"/><circle cx="369.6" cy="182.2" r="0.55" fill="#6a7ed0" opacity="0.5"/><circle cx="369.3" cy="183.3" r="0.55" fill="#6a7ed0" opacity="0.5"/><circle cx="362.6" cy="184.8" r="0.55" fill="#6a7ed0" opacity="0.5"/><circle cx="351.6" cy="186.1" r="0.55" fill="#6a7ed0" opacity="0.5"/><circle cx="364.2" cy="184.1" r="0.55" fill="#6a7ed0" opacity="0.5"/><circle cx="337.6" cy="187.1" r="0.55" fill="#6a7ed0" opacity="0.5"/><circle cx="328.9" cy="186.9" r="0.55" fill="#6a7ed0" opacity="0.5"/><circle cx="347.3" cy="185.5" r="0.55" fill="#6a7ed0" opacity="0.5"/><circle cx="340.9" cy="183.7" r="0.55" fill="#6a7ed0" opacity="0.5"/><circle cx="347.5" cy="183.7" r="0.55" fill="#6a7ed0" opacity="0.5"/><circle cx="333.0" cy="187.5" r="0.55" fill="#6a7ed0" opacity="0.5"/><circle cx="351.9" cy="186.2" r="0.55" fill="#6a7ed0" opacity="0.5"/><circle cx="338.9" cy="185.6" r="0.55" fill="#6a7ed0" opacity="0.5"/><circle cx="335.4" cy="184.7" r="0.55" fill="#6a7ed0" opacity="0.5"/><circle cx="335.6" cy="184.2" r="0.55" fill="#6a7ed0" opacity="0.5"/><circle cx="347.6" cy="184.0" r="0.55" fill="#6a7ed0" opacity="0.5"/><circle cx="345.2" cy="185.1" r="0.55" fill="#6a7ed0" opacity="0.5"/><circle cx="360.4" cy="183.2" r="0.55" fill="#6a7ed0" opacity="0.5"/><circle cx="361.7" cy="187.1" r="0.55" fill="#6a7ed0" opacity="0.5"/><circle cx="359.0" cy="185.8" r="0.55" fill="#6a7ed0" opacity="0.5"/><circle cx="344.9" cy="187.8" r="0.55" fill="#6a7ed0" opacity="0.5"/><circle cx="350.3" cy="183.4" r="0.55" fill="#6a7ed0" opacity="0.5"/><circle cx="360.1" cy="184.4" r="0.55" fill="#6a7ed0" opacity="0.5"/><circle cx="344.3" cy="184.6" r="0.55" fill="#6a7ed0" opacity="0.5"/><circle cx="335.0" cy="186.8" r="0.55" fill="#6a7ed0" opacity="0.5"/><circle cx="346.1" cy="183.0" r="0.55" fill="#6a7ed0" opacity="0.5"/><circle cx="359.9" cy="182.6" r="0.55" fill="#6a7ed0" opacity="0.5"/><circle cx="364.2" cy="186.1" r="0.55" fill="#6a7ed0" opacity="0.5"/><circle cx="341.2" cy="182.2" r="0.55" fill="#6a7ed0" opacity="0.5"/><circle cx="362.1" cy="185.0" r="0.55" fill="#6a7ed0" opacity="0.5"/><circle cx="359.7" cy="183.3" r="0.55" fill="#6a7ed0" opacity="0.5"/><circle cx="328.2" cy="184.3" r="0.55" fill="#6a7ed0" opacity="0.5"/><circle cx="349.9" cy="183.6" r="0.55" fill="#6a7ed0" opacity="0.5"/><circle cx="364.7" cy="182.8" r="0.55" fill="#6a7ed0" opacity="0.5"/><circle cx="332.2" cy="185.5" r="0.55" fill="#6a7ed0" opacity="0.5"/><circle cx="351.2" cy="184.4" r="0.55" fill="#6a7ed0" opacity="0.5"/><circle cx="331.8" cy="183.8" r="0.55" fill="#6a7ed0" opacity="0.5"/><circle cx="349.3" cy="186.5" r="0.55" fill="#6a7ed0" opacity="0.5"/><circle cx="344.6" cy="186.8" r="0.55" fill="#6a7ed0" opacity="0.5"/><circle cx="348.2" cy="181.7" r="0.55" fill="#6a7ed0" opacity="0.5"/><circle cx="367.5" cy="184.0" r="0.55" fill="#6a7ed0" opacity="0.5"/><circle cx="330.1" cy="184.6" r="0.55" fill="#6a7ed0" opacity="0.5"/><circle cx="361.0" cy="184.2" r="0.55" fill="#6a7ed0" opacity="0.5"/><circle cx="360.1" cy="182.6" r="0.55" fill="#6a7ed0" opacity="0.5"/><circle cx="348.2" cy="186.8" r="0.55" fill="#6a7ed0" opacity="0.5"/><circle cx="344.6" cy="182.9" r="0.55" fill="#6a7ed0" opacity="0.5"/><circle cx="329.5" cy="185.6" r="0.55" fill="#6a7ed0" opacity="0.5"/><circle cx="363.5" cy="183.7" r="0.55" fill="#6a7ed0" opacity="0.5"/><circle cx="332.8" cy="185.9" r="0.55" fill="#6a7ed0" opacity="0.5"/><circle cx="349.7" cy="185.1" r="0.55" fill="#6a7ed0" opacity="0.5"/><circle cx="326.0" cy="184.1" r="0.55" fill="#6a7ed0" opacity="0.5"/><circle cx="323.5" cy="185.9" r="0.55" fill="#6a7ed0" opacity="0.5"/><circle cx="330.1" cy="186.5" r="0.55" fill="#6a7ed0" opacity="0.5"/><circle cx="337.9" cy="186.3" r="0.55" fill="#6a7ed0" opacity="0.5"/><circle cx="336.1" cy="183.8" r="0.55" fill="#6a7ed0" opacity="0.5"/><circle cx="366.9" cy="183.8" r="0.55" fill="#6a7ed0" opacity="0.5"/><circle cx="350.5" cy="181.2" r="0.55" fill="#6a7ed0" opacity="0.5"/><circle cx="357.5" cy="182.4" r="0.55" fill="#6a7ed0" opacity="0.5"/><circle cx="341.4" cy="187.1" r="0.55" fill="#6a7ed0" opacity="0.5"/><circle cx="365.1" cy="183.1" r="0.55" fill="#6a7ed0" opacity="0.5"/><circle cx="339.7" cy="182.0" r="0.55" fill="#6a7ed0" opacity="0.5"/><circle cx="347.0" cy="183.2" r="0.55" fill="#6a7ed0" opacity="0.5"/><circle cx="349.3" cy="184.5" r="0.55" fill="#6a7ed0" opacity="0.5"/><circle cx="338.9" cy="188.5" r="0.55" fill="#6a7ed0" opacity="0.5"/><circle cx="346.1" cy="185.1" r="0.55" fill="#6a7ed0" opacity="0.5"/><circle cx="336.1" cy="185.2" r="0.55" fill="#6a7ed0" opacity="0.5"/><circle cx="328.3" cy="183.6" r="0.55" fill="#6a7ed0" opacity="0.5"/><circle cx="344.2" cy="183.8" r="0.55" fill="#6a7ed0" opacity="0.5"/><circle cx="335.1" cy="185.1" r="0.55" fill="#6a7ed0" opacity="0.5"/><circle cx="339.4" cy="182.6" r="0.55" fill="#6a7ed0" opacity="0.5"/><circle cx="363.9" cy="186.7" r="0.55" fill="#6a7ed0" opacity="0.5"/><circle cx="351.9" cy="184.7" r="0.55" fill="#6a7ed0" opacity="0.5"/><circle cx="352.3" cy="184.1" r="0.55" fill="#6a7ed0" opacity="0.5"/><circle cx="356.2" cy="185.3" r="0.55" fill="#6a7ed0" opacity="0.5"/><circle cx="326.5" cy="185.0" r="0.55" fill="#6a7ed0" opacity="0.5"/><circle cx="338.3" cy="184.8" r="0.55" fill="#6a7ed0" opacity="0.5"/><circle cx="333.4" cy="187.0" r="0.55" fill="#6a7ed0" opacity="0.5"/><circle cx="335.1" cy="185.2" r="0.55" fill="#6a7ed0" opacity="0.5"/><circle cx="353.3" cy="182.6" r="0.55" fill="#6a7ed0" opacity="0.5"/><circle cx="334.7" cy="180.8" r="0.55" fill="#6a7ed0" opacity="0.5"/><circle cx="354.2" cy="185.5" r="0.55" fill="#6a7ed0" opacity="0.5"/><circle cx="362.7" cy="184.6" r="0.55" fill="#6a7ed0" opacity="0.5"/><circle cx="331.7" cy="183.9" r="0.55" fill="#6a7ed0" opacity="0.5"/><circle cx="354.3" cy="183.7" r="0.55" fill="#6a7ed0" opacity="0.5"/><circle cx="340.4" cy="182.3" r="0.55" fill="#6a7ed0" opacity="0.5"/><circle cx="343.1" cy="183.2" r="0.55" fill="#6a7ed0" opacity="0.5"/><circle cx="328.9" cy="185.0" r="0.55" fill="#6a7ed0" opacity="0.5"/><circle cx="351.9" cy="185.7" r="0.55" fill="#6a7ed0" opacity="0.5"/><circle cx="351.6" cy="185.9" r="0.55" fill="#6a7ed0" opacity="0.5"/><circle cx="329.2" cy="183.9" r="0.55" fill="#6a7ed0" opacity="0.5"/><circle cx="369.7" cy="184.5" r="0.55" fill="#6a7ed0" opacity="0.5"/><circle cx="356.6" cy="184.7" r="0.55" fill="#6a7ed0" opacity="0.5"/><circle cx="335.0" cy="186.6" r="0.55" fill="#6a7ed0" opacity="0.5"/><circle cx="331.2" cy="183.3" r="0.55" fill="#6a7ed0" opacity="0.5"/><circle cx="347.6" cy="183.3" r="0.55" fill="#6a7ed0" opacity="0.5"/><circle cx="353.0" cy="183.3" r="0.55" fill="#6a7ed0" opacity="0.5"/><circle cx="357.5" cy="186.4" r="0.55" fill="#6a7ed0" opacity="0.5"/><circle cx="358.7" cy="182.8" r="0.55" fill="#6a7ed0" opacity="0.5"/><circle cx="360.5" cy="183.8" r="0.55" fill="#6a7ed0" opacity="0.5"/><circle cx="334.9" cy="184.0" r="0.55" fill="#6a7ed0" opacity="0.5"/><circle cx="334.1" cy="184.8" r="0.55" fill="#6a7ed0" opacity="0.5"/><circle cx="354.2" cy="182.7" r="0.55" fill="#6a7ed0" opacity="0.5"/><circle cx="368.2" cy="186.3" r="0.55" fill="#6a7ed0" opacity="0.5"/><circle cx="331.4" cy="184.9" r="0.55" fill="#6a7ed0" opacity="0.5"/><circle cx="327.5" cy="184.7" r="0.55" fill="#6a7ed0" opacity="0.5"/><circle cx="335.8" cy="184.1" r="0.55" fill="#6a7ed0" opacity="0.5"/><circle cx="334.2" cy="186.9" r="0.55" fill="#6a7ed0" opacity="0.5"/><circle cx="365.2" cy="184.2" r="0.55" fill="#6a7ed0" opacity="0.5"/><circle cx="359.3" cy="188.3" r="0.55" fill="#6a7ed0" opacity="0.5"/><circle cx="346.7" cy="183.3" r="0.55" fill="#6a7ed0" opacity="0.5"/><circle cx="358.8" cy="184.3" r="0.55" fill="#6a7ed0" opacity="0.5"/><circle cx="366.2" cy="185.4" r="0.55" fill="#6a7ed0" opacity="0.5"/><circle cx="328.7" cy="183.5" r="0.55" fill="#6a7ed0" opacity="0.5"/><circle cx="364.5" cy="184.6" r="0.55" fill="#6a7ed0" opacity="0.5"/><circle cx="347.0" cy="182.6" r="0.55" fill="#6a7ed0" opacity="0.5"/><circle cx="353.0" cy="185.3" r="0.55" fill="#6a7ed0" opacity="0.5"/><circle cx="336.8" cy="185.0" r="0.55" fill="#6a7ed0" opacity="0.5"/><circle cx="335.4" cy="182.4" r="0.55" fill="#6a7ed0" opacity="0.5"/><circle cx="340.3" cy="184.5" r="0.55" fill="#6a7ed0" opacity="0.5"/><circle cx="352.1" cy="186.7" r="0.55" fill="#6a7ed0" opacity="0.5"/><circle cx="362.6" cy="186.4" r="0.55" fill="#6a7ed0" opacity="0.5"/><circle cx="360.7" cy="185.3" r="0.55" fill="#6a7ed0" opacity="0.5"/><circle cx="347.7" cy="183.8" r="0.55" fill="#6a7ed0" opacity="0.5"/><circle cx="353.8" cy="183.2" r="0.55" fill="#6a7ed0" opacity="0.5"/><circle cx="351.6" cy="183.5" r="0.55" fill="#6a7ed0" opacity="0.5"/><circle cx="361.8" cy="185.9" r="0.55" fill="#6a7ed0" opacity="0.5"/><circle cx="363.9" cy="186.7" r="0.55" fill="#6a7ed0" opacity="0.5"/><circle cx="368.0" cy="184.1" r="0.55" fill="#6a7ed0" opacity="0.5"/><circle cx="331.7" cy="184.7" r="0.55" fill="#6a7ed0" opacity="0.5"/><circle cx="366.1" cy="185.9" r="0.55" fill="#6a7ed0" opacity="0.5"/><circle cx="332.0" cy="186.7" r="0.55" fill="#6a7ed0" opacity="0.5"/><circle cx="328.8" cy="187.6" r="0.55" fill="#6a7ed0" opacity="0.5"/><circle cx="359.6" cy="181.3" r="0.55" fill="#6a7ed0" opacity="0.5"/><circle cx="328.5" cy="187.4" r="0.55" fill="#6a7ed0" opacity="0.5"/><circle cx="357.2" cy="184.5" r="0.55" fill="#6a7ed0" opacity="0.5"/><circle cx="335.8" cy="184.9" r="0.55" fill="#6a7ed0" opacity="0.5"/><circle cx="329.0" cy="184.7" r="0.55" fill="#6a7ed0" opacity="0.5"/><circle cx="364.5" cy="185.1" r="0.55" fill="#6a7ed0" opacity="0.5"/><circle cx="331.7" cy="185.1" r="0.55" fill="#6a7ed0" opacity="0.5"/><circle cx="356.7" cy="186.1" r="0.55" fill="#6a7ed0" opacity="0.5"/><circle cx="348.7" cy="185.2" r="0.55" fill="#6a7ed0" opacity="0.5"/><circle cx="348.7" cy="183.6" r="0.55" fill="#6a7ed0" opacity="0.5"/><circle cx="338.9" cy="184.0" r="0.55" fill="#6a7ed0" opacity="0.5"/><circle cx="357.0" cy="185.0" r="0.55" fill="#6a7ed0" opacity="0.5"/><circle cx="338.3" cy="184.7" r="0.55" fill="#6a7ed0" opacity="0.5"/><circle cx="346.4" cy="185.3" r="0.55" fill="#6a7ed0" opacity="0.5"/><circle cx="344.2" cy="184.6" r="0.55" fill="#6a7ed0" opacity="0.5"/><circle cx="352.1" cy="183.6" r="0.55" fill="#6a7ed0" opacity="0.5"/><circle cx="358.5" cy="183.8" r="0.55" fill="#6a7ed0" opacity="0.5"/><circle cx="355.6" cy="184.9" r="0.55" fill="#6a7ed0" opacity="0.5"/><circle cx="345.7" cy="184.1" r="0.55" fill="#6a7ed0" opacity="0.5"/><circle cx="342.2" cy="184.9" r="0.55" fill="#6a7ed0" opacity="0.5"/><circle cx="370.3" cy="183.9" r="0.55" fill="#6a7ed0" opacity="0.5"/><circle cx="365.2" cy="185.9" r="0.55" fill="#6a7ed0" opacity="0.5"/><circle cx="342.6" cy="185.4" r="0.55" fill="#6a7ed0" opacity="0.5"/><circle cx="333.2" cy="182.5" r="0.55" fill="#6a7ed0" opacity="0.5"/><circle cx="366.7" cy="184.6" r="0.55" fill="#6a7ed0" opacity="0.5"/><circle cx="339.2" cy="183.0" r="0.55" fill="#6a7ed0" opacity="0.5"/><circle cx="340.0" cy="184.5" r="0.55" fill="#6a7ed0" opacity="0.5"/><circle cx="358.9" cy="182.6" r="0.55" fill="#6a7ed0" opacity="0.5"/><circle cx="352.5" cy="184.2" r="0.55" fill="#6a7ed0" opacity="0.5"/><circle cx="352.9" cy="182.7" r="0.55" fill="#6a7ed0" opacity="0.5"/><circle cx="354.9" cy="185.2" r="0.55" fill="#6a7ed0" opacity="0.5"/><circle cx="351.7" cy="183.0" r="0.55" fill="#6a7ed0" opacity="0.5"/><circle cx="351.9" cy="183.9" r="0.55" fill="#6a7ed0" opacity="0.5"/>
<circle cx="329.2" cy="184.2" r="0.6" fill="#3050b8" opacity="0.75"/><circle cx="333.6" cy="184.1" r="0.6" fill="#3050b8" opacity="0.75"/><circle cx="330.3" cy="183.5" r="0.6" fill="#3050b8" opacity="0.75"/><circle cx="328.9" cy="184.9" r="0.6" fill="#3050b8" opacity="0.75"/><circle cx="334.9" cy="186.8" r="0.6" fill="#3050b8" opacity="0.75"/><circle cx="327.5" cy="184.6" r="0.6" fill="#3050b8" opacity="0.75"/><circle cx="325.8" cy="184.5" r="0.6" fill="#3050b8" opacity="0.75"/><circle cx="331.0" cy="185.5" r="0.6" fill="#3050b8" opacity="0.75"/><circle cx="332.3" cy="183.7" r="0.6" fill="#3050b8" opacity="0.75"/><circle cx="327.6" cy="183.2" r="0.6" fill="#3050b8" opacity="0.75"/><circle cx="335.3" cy="183.4" r="0.6" fill="#3050b8" opacity="0.75"/><circle cx="333.5" cy="185.1" r="0.6" fill="#3050b8" opacity="0.75"/><circle cx="333.4" cy="183.0" r="0.6" fill="#3050b8" opacity="0.75"/><circle cx="332.1" cy="185.2" r="0.6" fill="#3050b8" opacity="0.75"/><circle cx="330.9" cy="185.3" r="0.6" fill="#3050b8" opacity="0.75"/><circle cx="327.8" cy="186.4" r="0.6" fill="#3050b8" opacity="0.75"/><circle cx="327.9" cy="184.6" r="0.6" fill="#3050b8" opacity="0.75"/><circle cx="333.3" cy="185.4" r="0.6" fill="#3050b8" opacity="0.75"/><circle cx="335.2" cy="184.8" r="0.6" fill="#3050b8" opacity="0.75"/><circle cx="327.9" cy="185.2" r="0.6" fill="#3050b8" opacity="0.75"/><circle cx="332.3" cy="183.0" r="0.6" fill="#3050b8" opacity="0.75"/><circle cx="333.4" cy="186.1" r="0.6" fill="#3050b8" opacity="0.75"/><circle cx="328.6" cy="185.8" r="0.6" fill="#3050b8" opacity="0.75"/><circle cx="331.1" cy="185.9" r="0.6" fill="#3050b8" opacity="0.75"/><circle cx="329.4" cy="185.7" r="0.6" fill="#3050b8" opacity="0.75"/><circle cx="332.8" cy="184.9" r="0.6" fill="#3050b8" opacity="0.75"/><circle cx="330.0" cy="184.6" r="0.6" fill="#3050b8" opacity="0.75"/><circle cx="332.8" cy="186.4" r="0.6" fill="#3050b8" opacity="0.75"/><circle cx="330.5" cy="185.8" r="0.6" fill="#3050b8" opacity="0.75"/><circle cx="331.2" cy="186.9" r="0.6" fill="#3050b8" opacity="0.75"/><circle cx="334.2" cy="185.6" r="0.6" fill="#3050b8" opacity="0.75"/><circle cx="332.1" cy="184.2" r="0.6" fill="#3050b8" opacity="0.75"/><circle cx="326.5" cy="185.7" r="0.6" fill="#3050b8" opacity="0.75"/><circle cx="328.9" cy="184.1" r="0.6" fill="#3050b8" opacity="0.75"/><circle cx="333.8" cy="185.1" r="0.6" fill="#3050b8" opacity="0.75"/>
<circle cx="360.8" cy="185.7" r="0.6" fill="#3050b8" opacity="0.75"/><circle cx="362.6" cy="185.5" r="0.6" fill="#3050b8" opacity="0.75"/><circle cx="360.7" cy="182.5" r="0.6" fill="#3050b8" opacity="0.75"/><circle cx="361.9" cy="185.2" r="0.6" fill="#3050b8" opacity="0.75"/><circle cx="358.5" cy="183.0" r="0.6" fill="#3050b8" opacity="0.75"/><circle cx="365.6" cy="187.3" r="0.6" fill="#3050b8" opacity="0.75"/><circle cx="362.8" cy="183.2" r="0.6" fill="#3050b8" opacity="0.75"/><circle cx="362.2" cy="183.4" r="0.6" fill="#3050b8" opacity="0.75"/><circle cx="366.9" cy="185.2" r="0.6" fill="#3050b8" opacity="0.75"/><circle cx="361.2" cy="185.3" r="0.6" fill="#3050b8" opacity="0.75"/><circle cx="358.1" cy="184.4" r="0.6" fill="#3050b8" opacity="0.75"/><circle cx="363.3" cy="184.0" r="0.6" fill="#3050b8" opacity="0.75"/><circle cx="361.1" cy="183.6" r="0.6" fill="#3050b8" opacity="0.75"/><circle cx="358.8" cy="184.8" r="0.6" fill="#3050b8" opacity="0.75"/><circle cx="361.0" cy="185.0" r="0.6" fill="#3050b8" opacity="0.75"/><circle cx="365.3" cy="183.5" r="0.6" fill="#3050b8" opacity="0.75"/><circle cx="360.4" cy="184.4" r="0.6" fill="#3050b8" opacity="0.75"/><circle cx="364.9" cy="182.7" r="0.6" fill="#3050b8" opacity="0.75"/><circle cx="363.2" cy="183.1" r="0.6" fill="#3050b8" opacity="0.75"/><circle cx="366.8" cy="184.8" r="0.6" fill="#3050b8" opacity="0.75"/><circle cx="359.4" cy="183.6" r="0.6" fill="#3050b8" opacity="0.75"/><circle cx="363.4" cy="183.7" r="0.6" fill="#3050b8" opacity="0.75"/><circle cx="363.5" cy="184.8" r="0.6" fill="#3050b8" opacity="0.75"/><circle cx="363.8" cy="183.8" r="0.6" fill="#3050b8" opacity="0.75"/><circle cx="366.7" cy="185.4" r="0.6" fill="#3050b8" opacity="0.75"/>
<ellipse cx="330.9" cy="184.8" rx="3" ry="1" fill="#2a9ab0" opacity="0.8"/>
<ellipse cx="318.9" cy="233.3" rx="8" ry="2.8" transform="rotate(-20 318.9 233.3)" fill="#2f7ac0"/>
<ellipse cx="317.09999999999997" cy="234.1" rx="5.6" ry="2.0" transform="rotate(-20 317.09999999999997 234.1)" fill="#3cb070"/>
<ellipse cx="315.29999999999995" cy="234.8" rx="3.3" ry="1.4" transform="rotate(-20 315.29999999999995 234.8)" fill="#b8c828"/>
</g>
</g>
<rect x="293.90" y="174.80" width="80.40" height="79.80" fill="none" stroke="#222" stroke-width="1.5" />
<line x1="323.50" y1="174.80" x2="323.50" y2="254.60" stroke="#444" stroke-width="1" />
<line x1="293.90" y1="223.50" x2="374.30" y2="223.50" stroke="#444" stroke-width="1" />
<text transform="translate(359.50,219.30)" font-size="8" text-anchor="middle" fill="#222" >31.9</text>
<text transform="translate(308.10,250.80)" font-size="8" text-anchor="middle" fill="#222" >50.6</text>
<text transform="translate(359.80,250.80)" font-size="8" text-anchor="middle" fill="#222" >17</text>
<text transform="translate(421.80,169.30)" font-size="9.2" text-anchor="middle" fill="#1a1a1a" letter-spacing="0.4">MAb131 100ug/ml</text>
<clipPath id="bc4"><rect x="381.4" y="174.8" width="80.4" height="79.79999999999998"/></clipPath><g clip-path="url(#bc4)"><g filter="url(#sb)">
<circle cx="439.0" cy="188.7" r="0.45" fill="#8f94cc" opacity="0.45"/><circle cx="444.3" cy="210.8" r="0.45" fill="#8f94cc" opacity="0.45"/><circle cx="435.3" cy="188.6" r="0.45" fill="#8f94cc" opacity="0.45"/><circle cx="444.8" cy="200.9" r="0.45" fill="#8f94cc" opacity="0.45"/><circle cx="439.9" cy="220.4" r="0.45" fill="#8f94cc" opacity="0.45"/><circle cx="450.5" cy="216.2" r="0.45" fill="#8f94cc" opacity="0.45"/><circle cx="420.0" cy="198.1" r="0.45" fill="#8f94cc" opacity="0.45"/><circle cx="436.9" cy="187.0" r="0.45" fill="#8f94cc" opacity="0.45"/><circle cx="458.3" cy="196.1" r="0.45" fill="#8f94cc" opacity="0.45"/><circle cx="425.3" cy="197.3" r="0.45" fill="#8f94cc" opacity="0.45"/><circle cx="425.0" cy="215.7" r="0.45" fill="#8f94cc" opacity="0.45"/><circle cx="438.6" cy="204.0" r="0.45" fill="#8f94cc" opacity="0.45"/><circle cx="432.5" cy="188.5" r="0.45" fill="#8f94cc" opacity="0.45"/><circle cx="427.2" cy="216.0" r="0.45" fill="#8f94cc" opacity="0.45"/><circle cx="449.8" cy="215.7" r="0.45" fill="#8f94cc" opacity="0.45"/><circle cx="425.1" cy="193.6" r="0.45" fill="#8f94cc" opacity="0.45"/><circle cx="415.8" cy="204.9" r="0.45" fill="#8f94cc" opacity="0.45"/><circle cx="430.4" cy="202.4" r="0.45" fill="#8f94cc" opacity="0.45"/><circle cx="435.6" cy="206.5" r="0.45" fill="#8f94cc" opacity="0.45"/><circle cx="430.0" cy="213.8" r="0.45" fill="#8f94cc" opacity="0.45"/><circle cx="422.5" cy="217.8" r="0.45" fill="#8f94cc" opacity="0.45"/><circle cx="438.6" cy="188.5" r="0.45" fill="#8f94cc" opacity="0.45"/><circle cx="427.7" cy="204.8" r="0.45" fill="#8f94cc" opacity="0.45"/><circle cx="432.0" cy="205.8" r="0.45" fill="#8f94cc" opacity="0.45"/><circle cx="428.1" cy="196.0" r="0.45" fill="#8f94cc" opacity="0.45"/><circle cx="449.5" cy="196.6" r="0.45" fill="#8f94cc" opacity="0.45"/><circle cx="445.7" cy="213.8" r="0.45" fill="#8f94cc" opacity="0.45"/><circle cx="440.3" cy="202.1" r="0.45" fill="#8f94cc" opacity="0.45"/><circle cx="455.8" cy="201.8" r="0.45" fill="#8f94cc" opacity="0.45"/><circle cx="453.3" cy="188.7" r="0.45" fill="#8f94cc" opacity="0.45"/><circle cx="433.1" cy="208.3" r="0.45" fill="#8f94cc" opacity="0.45"/><circle cx="415.6" cy="215.9" r="0.45" fill="#8f94cc" opacity="0.45"/><circle cx="416.7" cy="206.9" r="0.45" fill="#8f94cc" opacity="0.45"/><circle cx="421.6" cy="217.9" r="0.45" fill="#8f94cc" opacity="0.45"/><circle cx="438.9" cy="213.8" r="0.45" fill="#8f94cc" opacity="0.45"/><circle cx="436.0" cy="209.5" r="0.45" fill="#8f94cc" opacity="0.45"/><circle cx="444.0" cy="196.7" r="0.45" fill="#8f94cc" opacity="0.45"/><circle cx="423.0" cy="215.1" r="0.45" fill="#8f94cc" opacity="0.45"/><circle cx="420.0" cy="217.7" r="0.45" fill="#8f94cc" opacity="0.45"/><circle cx="422.8" cy="190.2" r="0.45" fill="#8f94cc" opacity="0.45"/><circle cx="417.7" cy="213.2" r="0.45" fill="#8f94cc" opacity="0.45"/><circle cx="456.6" cy="200.8" r="0.45" fill="#8f94cc" opacity="0.45"/><circle cx="443.3" cy="195.5" r="0.45" fill="#8f94cc" opacity="0.45"/><circle cx="454.5" cy="209.9" r="0.45" fill="#8f94cc" opacity="0.45"/><circle cx="420.4" cy="188.7" r="0.45" fill="#8f94cc" opacity="0.45"/><circle cx="445.0" cy="188.2" r="0.45" fill="#8f94cc" opacity="0.45"/><circle cx="451.4" cy="196.7" r="0.45" fill="#8f94cc" opacity="0.45"/><circle cx="424.0" cy="206.4" r="0.45" fill="#8f94cc" opacity="0.45"/><circle cx="427.9" cy="205.7" r="0.45" fill="#8f94cc" opacity="0.45"/><circle cx="420.4" cy="217.5" r="0.45" fill="#8f94cc" opacity="0.45"/><circle cx="428.1" cy="215.2" r="0.45" fill="#8f94cc" opacity="0.45"/><circle cx="420.3" cy="213.7" r="0.45" fill="#8f94cc" opacity="0.45"/><circle cx="457.9" cy="200.0" r="0.45" fill="#8f94cc" opacity="0.45"/><circle cx="414.9" cy="199.6" r="0.45" fill="#8f94cc" opacity="0.45"/><circle cx="442.5" cy="194.3" r="0.45" fill="#8f94cc" opacity="0.45"/><circle cx="438.2" cy="190.0" r="0.45" fill="#8f94cc" opacity="0.45"/><circle cx="434.5" cy="211.3" r="0.45" fill="#8f94cc" opacity="0.45"/><circle cx="432.9" cy="209.7" r="0.45" fill="#8f94cc" opacity="0.45"/><circle cx="418.6" cy="214.7" r="0.45" fill="#8f94cc" opacity="0.45"/><circle cx="418.9" cy="217.9" r="0.45" fill="#8f94cc" opacity="0.45"/>
<circle cx="410.3" cy="217.9" r="0.4" fill="#8f94cc" opacity="0.4"/><circle cx="398.1" cy="190.2" r="0.4" fill="#8f94cc" opacity="0.4"/><circle cx="393.4" cy="209.8" r="0.4" fill="#8f94cc" opacity="0.4"/><circle cx="397.3" cy="217.5" r="0.4" fill="#8f94cc" opacity="0.4"/><circle cx="386.8" cy="198.5" r="0.4" fill="#8f94cc" opacity="0.4"/><circle cx="406.9" cy="203.3" r="0.4" fill="#8f94cc" opacity="0.4"/><circle cx="398.5" cy="181.6" r="0.4" fill="#8f94cc" opacity="0.4"/><circle cx="388.0" cy="189.4" r="0.4" fill="#8f94cc" opacity="0.4"/><circle cx="407.6" cy="213.9" r="0.4" fill="#8f94cc" opacity="0.4"/><circle cx="390.3" cy="217.3" r="0.4" fill="#8f94cc" opacity="0.4"/><circle cx="385.2" cy="203.4" r="0.4" fill="#8f94cc" opacity="0.4"/><circle cx="409.6" cy="192.5" r="0.4" fill="#8f94cc" opacity="0.4"/>
<circle cx="454.8" cy="192.1" r="0.55" fill="#6272cc" opacity="0.55"/><circle cx="435.8" cy="213.1" r="0.55" fill="#6272cc" opacity="0.55"/><circle cx="450.7" cy="202.4" r="0.55" fill="#6272cc" opacity="0.55"/><circle cx="438.5" cy="214.8" r="0.55" fill="#6272cc" opacity="0.55"/><circle cx="426.9" cy="219.3" r="0.55" fill="#6272cc" opacity="0.55"/><circle cx="444.4" cy="204.1" r="0.55" fill="#6272cc" opacity="0.55"/><circle cx="444.9" cy="208.4" r="0.55" fill="#6272cc" opacity="0.55"/><circle cx="429.6" cy="218.3" r="0.55" fill="#6272cc" opacity="0.55"/><circle cx="437.8" cy="210.2" r="0.55" fill="#6272cc" opacity="0.55"/><circle cx="434.1" cy="217.3" r="0.55" fill="#6272cc" opacity="0.55"/><circle cx="453.8" cy="194.3" r="0.55" fill="#6272cc" opacity="0.55"/><circle cx="435.2" cy="220.9" r="0.55" fill="#6272cc" opacity="0.55"/><circle cx="428.4" cy="219.7" r="0.55" fill="#6272cc" opacity="0.55"/><circle cx="429.7" cy="219.9" r="0.55" fill="#6272cc" opacity="0.55"/><circle cx="441.2" cy="205.9" r="0.55" fill="#6272cc" opacity="0.55"/><circle cx="432.1" cy="217.8" r="0.55" fill="#6272cc" opacity="0.55"/><circle cx="431.4" cy="223.4" r="0.55" fill="#6272cc" opacity="0.55"/><circle cx="442.4" cy="206.9" r="0.55" fill="#6272cc" opacity="0.55"/><circle cx="451.6" cy="192.9" r="0.55" fill="#6272cc" opacity="0.55"/><circle cx="443.6" cy="203.5" r="0.55" fill="#6272cc" opacity="0.55"/><circle cx="450.3" cy="200.3" r="0.55" fill="#6272cc" opacity="0.55"/><circle cx="426.4" cy="224.0" r="0.55" fill="#6272cc" opacity="0.55"/><circle cx="436.6" cy="213.4" r="0.55" fill="#6272cc" opacity="0.55"/><circle cx="444.7" cy="207.3" r="0.55" fill="#6272cc" opacity="0.55"/><circle cx="450.3" cy="197.2" r="0.55" fill="#6272cc" opacity="0.55"/><circle cx="430.0" cy="212.1" r="0.55" fill="#6272cc" opacity="0.55"/><circle cx="426.4" cy="220.1" r="0.55" fill="#6272cc" opacity="0.55"/><circle cx="449.4" cy="199.9" r="0.55" fill="#6272cc" opacity="0.55"/><circle cx="441.2" cy="208.3" r="0.55" fill="#6272cc" opacity="0.55"/><circle cx="453.3" cy="193.8" r="0.55" fill="#6272cc" opacity="0.55"/><circle cx="430.1" cy="223.9" r="0.55" fill="#6272cc" opacity="0.55"/><circle cx="448.4" cy="202.8" r="0.55" fill="#6272cc" opacity="0.55"/><circle cx="432.0" cy="220.2" r="0.55" fill="#6272cc" opacity="0.55"/><circle cx="443.9" cy="211.6" r="0.55" fill="#6272cc" opacity="0.55"/><circle cx="448.3" cy="197.9" r="0.55" fill="#6272cc" opacity="0.55"/><circle cx="453.1" cy="196.2" r="0.55" fill="#6272cc" opacity="0.55"/><circle cx="447.0" cy="205.3" r="0.55" fill="#6272cc" opacity="0.55"/><circle cx="452.5" cy="195.0" r="0.55" fill="#6272cc" opacity="0.55"/><circle cx="447.8" cy="201.0" r="0.55" fill="#6272cc" opacity="0.55"/><circle cx="454.2" cy="189.0" r="0.55" fill="#6272cc" opacity="0.55"/><circle cx="433.6" cy="214.9" r="0.55" fill="#6272cc" opacity="0.55"/><circle cx="453.9" cy="190.1" r="0.55" fill="#6272cc" opacity="0.55"/><circle cx="449.2" cy="196.1" r="0.55" fill="#6272cc" opacity="0.55"/><circle cx="452.5" cy="192.6" r="0.55" fill="#6272cc" opacity="0.55"/><circle cx="438.6" cy="213.1" r="0.55" fill="#6272cc" opacity="0.55"/><circle cx="459.1" cy="196.1" r="0.55" fill="#6272cc" opacity="0.55"/><circle cx="450.5" cy="201.6" r="0.55" fill="#6272cc" opacity="0.55"/><circle cx="434.9" cy="218.0" r="0.55" fill="#6272cc" opacity="0.55"/><circle cx="430.0" cy="216.0" r="0.55" fill="#6272cc" opacity="0.55"/><circle cx="447.1" cy="199.2" r="0.55" fill="#6272cc" opacity="0.55"/><circle cx="451.3" cy="195.0" r="0.55" fill="#6272cc" opacity="0.55"/><circle cx="456.0" cy="190.9" r="0.55" fill="#6272cc" opacity="0.55"/><circle cx="427.8" cy="217.5" r="0.55" fill="#6272cc" opacity="0.55"/><circle cx="434.2" cy="210.3" r="0.55" fill="#6272cc" opacity="0.55"/><circle cx="453.0" cy="197.6" r="0.55" fill="#6272cc" opacity="0.55"/><circle cx="430.7" cy="225.3" r="0.55" fill="#6272cc" opacity="0.55"/><circle cx="438.0" cy="208.5" r="0.55" fill="#6272cc" opacity="0.55"/><circle cx="437.7" cy="214.4" r="0.55" fill="#6272cc" opacity="0.55"/><circle cx="451.0" cy="194.8" r="0.55" fill="#6272cc" opacity="0.55"/><circle cx="429.6" cy="223.7" r="0.55" fill="#6272cc" opacity="0.55"/><circle cx="438.5" cy="206.0" r="0.55" fill="#6272cc" opacity="0.55"/><circle cx="430.7" cy="219.0" r="0.55" fill="#6272cc" opacity="0.55"/><circle cx="452.2" cy="198.0" r="0.55" fill="#6272cc" opacity="0.55"/><circle cx="454.6" cy="193.3" r="0.55" fill="#6272cc" opacity="0.55"/><circle cx="450.3" cy="191.7" r="0.55" fill="#6272cc" opacity="0.55"/><circle cx="434.0" cy="210.6" r="0.55" fill="#6272cc" opacity="0.55"/><circle cx="443.6" cy="206.8" r="0.55" fill="#6272cc" opacity="0.55"/><circle cx="453.1" cy="198.4" r="0.55" fill="#6272cc" opacity="0.55"/><circle cx="429.6" cy="227.8" r="0.55" fill="#6272cc" opacity="0.55"/><circle cx="441.3" cy="207.2" r="0.55" fill="#6272cc" opacity="0.55"/><circle cx="439.8" cy="213.5" r="0.55" fill="#6272cc" opacity="0.55"/><circle cx="450.8" cy="195.1" r="0.55" fill="#6272cc" opacity="0.55"/><circle cx="457.0" cy="191.3" r="0.55" fill="#6272cc" opacity="0.55"/><circle cx="428.1" cy="219.5" r="0.55" fill="#6272cc" opacity="0.55"/><circle cx="453.7" cy="194.4" r="0.55" fill="#6272cc" opacity="0.55"/><circle cx="444.3" cy="204.5" r="0.55" fill="#6272cc" opacity="0.55"/><circle cx="449.3" cy="200.1" r="0.55" fill="#6272cc" opacity="0.55"/><circle cx="438.8" cy="211.5" r="0.55" fill="#6272cc" opacity="0.55"/><circle cx="450.9" cy="193.9" r="0.55" fill="#6272cc" opacity="0.55"/><circle cx="440.6" cy="204.6" r="0.55" fill="#6272cc" opacity="0.55"/><circle cx="448.8" cy="199.1" r="0.55" fill="#6272cc" opacity="0.55"/><circle cx="440.2" cy="216.6" r="0.55" fill="#6272cc" opacity="0.55"/><circle cx="455.2" cy="196.4" r="0.55" fill="#6272cc" opacity="0.55"/><circle cx="446.3" cy="205.2" r="0.55" fill="#6272cc" opacity="0.55"/><circle cx="448.3" cy="197.8" r="0.55" fill="#6272cc" opacity="0.55"/><circle cx="449.2" cy="201.0" r="0.55" fill="#6272cc" opacity="0.55"/><circle cx="442.6" cy="209.3" r="0.55" fill="#6272cc" opacity="0.55"/><circle cx="450.2" cy="195.4" r="0.55" fill="#6272cc" opacity="0.55"/><circle cx="454.9" cy="189.0" r="0.55" fill="#6272cc" opacity="0.55"/><circle cx="436.9" cy="216.7" r="0.55" fill="#6272cc" opacity="0.55"/><circle cx="452.2" cy="194.7" r="0.55" fill="#6272cc" opacity="0.55"/><circle cx="427.4" cy="218.5" r="0.55" fill="#6272cc" opacity="0.55"/><circle cx="432.1" cy="217.0" r="0.55" fill="#6272cc" opacity="0.55"/><circle cx="438.2" cy="213.9" r="0.55" fill="#6272cc" opacity="0.55"/><circle cx="443.7" cy="209.9" r="0.55" fill="#6272cc" opacity="0.55"/><circle cx="431.2" cy="221.8" r="0.55" fill="#6272cc" opacity="0.55"/><circle cx="432.3" cy="219.0" r="0.55" fill="#6272cc" opacity="0.55"/><circle cx="430.5" cy="222.0" r="0.55" fill="#6272cc" opacity="0.55"/><circle cx="440.3" cy="210.5" r="0.55" fill="#6272cc" opacity="0.55"/><circle cx="435.2" cy="215.6" r="0.55" fill="#6272cc" opacity="0.55"/><circle cx="449.7" cy="193.5" r="0.55" fill="#6272cc" opacity="0.55"/><circle cx="438.6" cy="216.0" r="0.55" fill="#6272cc" opacity="0.55"/><circle cx="438.4" cy="207.0" r="0.55" fill="#6272cc" opacity="0.55"/><circle cx="449.2" cy="200.8" r="0.55" fill="#6272cc" opacity="0.55"/><circle cx="452.8" cy="193.2" r="0.55" fill="#6272cc" opacity="0.55"/><circle cx="445.7" cy="206.3" r="0.55" fill="#6272cc" opacity="0.55"/><circle cx="429.8" cy="219.9" r="0.55" fill="#6272cc" opacity="0.55"/><circle cx="439.3" cy="211.4" r="0.55" fill="#6272cc" opacity="0.55"/><circle cx="436.8" cy="216.6" r="0.55" fill="#6272cc" opacity="0.55"/><circle cx="448.7" cy="197.0" r="0.55" fill="#6272cc" opacity="0.55"/><circle cx="452.5" cy="198.2" r="0.55" fill="#6272cc" opacity="0.55"/><circle cx="449.1" cy="201.8" r="0.55" fill="#6272cc" opacity="0.55"/><circle cx="448.1" cy="198.9" r="0.55" fill="#6272cc" opacity="0.55"/><circle cx="455.0" cy="190.9" r="0.55" fill="#6272cc" opacity="0.55"/><circle cx="439.6" cy="208.9" r="0.55" fill="#6272cc" opacity="0.55"/><circle cx="434.6" cy="215.6" r="0.55" fill="#6272cc" opacity="0.55"/><circle cx="440.6" cy="202.7" r="0.55" fill="#6272cc" opacity="0.55"/><circle cx="430.9" cy="219.8" r="0.55" fill="#6272cc" opacity="0.55"/><circle cx="435.6" cy="209.9" r="0.55" fill="#6272cc" opacity="0.55"/><circle cx="445.2" cy="200.7" r="0.55" fill="#6272cc" opacity="0.55"/><circle cx="443.7" cy="208.6" r="0.55" fill="#6272cc" opacity="0.55"/><circle cx="451.2" cy="196.7" r="0.55" fill="#6272cc" opacity="0.55"/><circle cx="447.2" cy="199.2" r="0.55" fill="#6272cc" opacity="0.55"/><circle cx="456.5" cy="192.2" r="0.55" fill="#6272cc" opacity="0.55"/><circle cx="449.1" cy="193.3" r="0.55" fill="#6272cc" opacity="0.55"/><circle cx="430.4" cy="216.2" r="0.55" fill="#6272cc" opacity="0.55"/><circle cx="445.3" cy="204.2" r="0.55" fill="#6272cc" opacity="0.55"/><circle cx="445.9" cy="202.3" r="0.55" fill="#6272cc" opacity="0.55"/><circle cx="433.8" cy="217.4" r="0.55" fill="#6272cc" opacity="0.55"/><circle cx="450.8" cy="200.8" r="0.55" fill="#6272cc" opacity="0.55"/><circle cx="437.7" cy="211.0" r="0.55" fill="#6272cc" opacity="0.55"/><circle cx="452.0" cy="196.2" r="0.55" fill="#6272cc" opacity="0.55"/><circle cx="446.9" cy="204.2" r="0.55" fill="#6272cc" opacity="0.55"/><circle cx="426.7" cy="222.4" r="0.55" fill="#6272cc" opacity="0.55"/><circle cx="454.8" cy="198.0" r="0.55" fill="#6272cc" opacity="0.55"/><circle cx="431.1" cy="222.7" r="0.55" fill="#6272cc" opacity="0.55"/><circle cx="436.1" cy="214.6" r="0.55" fill="#6272cc" opacity="0.55"/><circle cx="434.2" cy="215.1" r="0.55" fill="#6272cc" opacity="0.55"/><circle cx="453.0" cy="193.7" r="0.55" fill="#6272cc" opacity="0.55"/><circle cx="428.4" cy="222.0" r="0.55" fill="#6272cc" opacity="0.55"/><circle cx="441.6" cy="207.3" r="0.55" fill="#6272cc" opacity="0.55"/><circle cx="445.5" cy="200.3" r="0.55" fill="#6272cc" opacity="0.55"/><circle cx="436.5" cy="210.2" r="0.55" fill="#6272cc" opacity="0.55"/><circle cx="438.5" cy="211.2" r="0.55" fill="#6272cc" opacity="0.55"/><circle cx="452.8" cy="196.8" r="0.55" fill="#6272cc" opacity="0.55"/><circle cx="458.5" cy="192.2" r="0.55" fill="#6272cc" opacity="0.55"/><circle cx="428.4" cy="220.0" r="0.55" fill="#6272cc" opacity="0.55"/><circle cx="446.5" cy="200.8" r="0.55" fill="#6272cc" opacity="0.55"/><circle cx="431.6" cy="218.2" r="0.55" fill="#6272cc" opacity="0.55"/><circle cx="432.9" cy="214.7" r="0.55" fill="#6272cc" opacity="0.55"/><circle cx="441.3" cy="212.1" r="0.55" fill="#6272cc" opacity="0.55"/><circle cx="432.9" cy="219.6" r="0.55" fill="#6272cc" opacity="0.55"/><circle cx="451.3" cy="200.0" r="0.55" fill="#6272cc" opacity="0.55"/><circle cx="458.1" cy="190.9" r="0.55" fill="#6272cc" opacity="0.55"/><circle cx="449.8" cy="200.5" r="0.55" fill="#6272cc" opacity="0.55"/><circle cx="429.9" cy="220.7" r="0.55" fill="#6272cc" opacity="0.55"/><circle cx="445.8" cy="204.8" r="0.55" fill="#6272cc" opacity="0.55"/><circle cx="428.0" cy="213.6" r="0.55" fill="#6272cc" opacity="0.55"/><circle cx="437.6" cy="213.8" r="0.55" fill="#6272cc" opacity="0.55"/><circle cx="440.8" cy="209.7" r="0.55" fill="#6272cc" opacity="0.55"/><circle cx="441.5" cy="209.2" r="0.55" fill="#6272cc" opacity="0.55"/><circle cx="432.3" cy="216.2" r="0.55" fill="#6272cc" opacity="0.55"/><circle cx="459.5" cy="189.2" r="0.55" fill="#6272cc" opacity="0.55"/><circle cx="441.9" cy="207.0" r="0.55" fill="#6272cc" opacity="0.55"/><circle cx="428.4" cy="219.0" r="0.55" fill="#6272cc" opacity="0.55"/><circle cx="433.5" cy="217.1" r="0.55" fill="#6272cc" opacity="0.55"/><circle cx="452.9" cy="189.1" r="0.55" fill="#6272cc" opacity="0.55"/><circle cx="453.2" cy="192.7" r="0.55" fill="#6272cc" opacity="0.55"/><circle cx="440.1" cy="207.4" r="0.55" fill="#6272cc" opacity="0.55"/><circle cx="432.7" cy="219.2" r="0.55" fill="#6272cc" opacity="0.55"/>
<circle cx="421.8" cy="226.5" r="0.6" fill="#3c58c0" opacity="0.65"/><circle cx="426.7" cy="223.2" r="0.6" fill="#3c58c0" opacity="0.65"/><circle cx="413.5" cy="229.1" r="0.6" fill="#3c58c0" opacity="0.65"/><circle cx="411.8" cy="231.8" r="0.6" fill="#3c58c0" opacity="0.65"/><circle cx="425.3" cy="224.5" r="0.6" fill="#3c58c0" opacity="0.65"/><circle cx="415.2" cy="232.1" r="0.6" fill="#3c58c0" opacity="0.65"/><circle cx="419.8" cy="229.0" r="0.6" fill="#3c58c0" opacity="0.65"/><circle cx="414.2" cy="231.1" r="0.6" fill="#3c58c0" opacity="0.65"/><circle cx="420.5" cy="224.7" r="0.6" fill="#3c58c0" opacity="0.65"/><circle cx="421.4" cy="228.3" r="0.6" fill="#3c58c0" opacity="0.65"/><circle cx="411.0" cy="230.4" r="0.6" fill="#3c58c0" opacity="0.65"/><circle cx="423.3" cy="224.8" r="0.6" fill="#3c58c0" opacity="0.65"/><circle cx="422.5" cy="224.5" r="0.6" fill="#3c58c0" opacity="0.65"/><circle cx="415.5" cy="228.5" r="0.6" fill="#3c58c0" opacity="0.65"/><circle cx="412.8" cy="234.2" r="0.6" fill="#3c58c0" opacity="0.65"/><circle cx="413.6" cy="230.4" r="0.6" fill="#3c58c0" opacity="0.65"/><circle cx="424.7" cy="223.0" r="0.6" fill="#3c58c0" opacity="0.65"/><circle cx="415.3" cy="232.4" r="0.6" fill="#3c58c0" opacity="0.65"/><circle cx="426.3" cy="225.0" r="0.6" fill="#3c58c0" opacity="0.65"/><circle cx="416.6" cy="228.4" r="0.6" fill="#3c58c0" opacity="0.65"/><circle cx="425.3" cy="225.0" r="0.6" fill="#3c58c0" opacity="0.65"/><circle cx="427.9" cy="224.9" r="0.6" fill="#3c58c0" opacity="0.65"/><circle cx="411.8" cy="229.7" r="0.6" fill="#3c58c0" opacity="0.65"/><circle cx="428.7" cy="222.8" r="0.6" fill="#3c58c0" opacity="0.65"/><circle cx="426.8" cy="226.3" r="0.6" fill="#3c58c0" opacity="0.65"/><circle cx="414.0" cy="226.9" r="0.6" fill="#3c58c0" opacity="0.65"/><circle cx="430.6" cy="224.1" r="0.6" fill="#3c58c0" opacity="0.65"/><circle cx="422.1" cy="225.1" r="0.6" fill="#3c58c0" opacity="0.65"/><circle cx="420.5" cy="224.8" r="0.6" fill="#3c58c0" opacity="0.65"/><circle cx="414.5" cy="230.5" r="0.6" fill="#3c58c0" opacity="0.65"/><circle cx="416.5" cy="228.6" r="0.6" fill="#3c58c0" opacity="0.65"/><circle cx="427.4" cy="225.7" r="0.6" fill="#3c58c0" opacity="0.65"/><circle cx="425.3" cy="225.0" r="0.6" fill="#3c58c0" opacity="0.65"/><circle cx="423.5" cy="227.4" r="0.6" fill="#3c58c0" opacity="0.65"/><circle cx="415.1" cy="229.5" r="0.6" fill="#3c58c0" opacity="0.65"/><circle cx="419.6" cy="229.3" r="0.6" fill="#3c58c0" opacity="0.65"/><circle cx="427.1" cy="224.0" r="0.6" fill="#3c58c0" opacity="0.65"/><circle cx="417.2" cy="230.2" r="0.6" fill="#3c58c0" opacity="0.65"/><circle cx="411.0" cy="227.1" r="0.6" fill="#3c58c0" opacity="0.65"/><circle cx="425.8" cy="225.1" r="0.6" fill="#3c58c0" opacity="0.65"/><circle cx="412.8" cy="227.9" r="0.6" fill="#3c58c0" opacity="0.65"/><circle cx="419.4" cy="227.3" r="0.6" fill="#3c58c0" opacity="0.65"/><circle cx="420.5" cy="223.7" r="0.6" fill="#3c58c0" opacity="0.65"/><circle cx="425.5" cy="222.4" r="0.6" fill="#3c58c0" opacity="0.65"/><circle cx="426.4" cy="224.3" r="0.6" fill="#3c58c0" opacity="0.65"/><circle cx="424.5" cy="224.5" r="0.6" fill="#3c58c0" opacity="0.65"/><circle cx="428.6" cy="227.4" r="0.6" fill="#3c58c0" opacity="0.65"/><circle cx="419.1" cy="226.4" r="0.6" fill="#3c58c0" opacity="0.65"/><circle cx="416.1" cy="229.4" r="0.6" fill="#3c58c0" opacity="0.65"/><circle cx="409.4" cy="231.2" r="0.6" fill="#3c58c0" opacity="0.65"/><circle cx="425.3" cy="224.9" r="0.6" fill="#3c58c0" opacity="0.65"/><circle cx="428.8" cy="224.6" r="0.6" fill="#3c58c0" opacity="0.65"/><circle cx="416.3" cy="230.0" r="0.6" fill="#3c58c0" opacity="0.65"/><circle cx="412.1" cy="233.3" r="0.6" fill="#3c58c0" opacity="0.65"/><circle cx="426.8" cy="226.2" r="0.6" fill="#3c58c0" opacity="0.65"/><circle cx="427.3" cy="223.5" r="0.6" fill="#3c58c0" opacity="0.65"/><circle cx="423.0" cy="228.4" r="0.6" fill="#3c58c0" opacity="0.65"/><circle cx="416.1" cy="227.3" r="0.6" fill="#3c58c0" opacity="0.65"/><circle cx="421.9" cy="226.6" r="0.6" fill="#3c58c0" opacity="0.65"/><circle cx="419.9" cy="225.4" r="0.6" fill="#3c58c0" opacity="0.65"/><circle cx="425.7" cy="225.6" r="0.6" fill="#3c58c0" opacity="0.65"/><circle cx="424.4" cy="225.5" r="0.6" fill="#3c58c0" opacity="0.65"/><circle cx="414.5" cy="232.0" r="0.6" fill="#3c58c0" opacity="0.65"/><circle cx="411.5" cy="232.6" r="0.6" fill="#3c58c0" opacity="0.65"/><circle cx="429.9" cy="224.9" r="0.6" fill="#3c58c0" opacity="0.65"/><circle cx="422.9" cy="223.5" r="0.6" fill="#3c58c0" opacity="0.65"/><circle cx="425.0" cy="226.3" r="0.6" fill="#3c58c0" opacity="0.65"/><circle cx="411.6" cy="229.4" r="0.6" fill="#3c58c0" opacity="0.65"/><circle cx="418.0" cy="228.2" r="0.6" fill="#3c58c0" opacity="0.65"/><circle cx="421.0" cy="224.8" r="0.6" fill="#3c58c0" opacity="0.65"/><circle cx="423.7" cy="226.1" r="0.6" fill="#3c58c0" opacity="0.65"/><circle cx="413.9" cy="230.2" r="0.6" fill="#3c58c0" opacity="0.65"/><circle cx="415.2" cy="230.6" r="0.6" fill="#3c58c0" opacity="0.65"/><circle cx="428.4" cy="222.7" r="0.6" fill="#3c58c0" opacity="0.65"/><circle cx="425.5" cy="225.7" r="0.6" fill="#3c58c0" opacity="0.65"/><circle cx="415.1" cy="229.5" r="0.6" fill="#3c58c0" opacity="0.65"/><circle cx="419.3" cy="226.8" r="0.6" fill="#3c58c0" opacity="0.65"/><circle cx="426.7" cy="226.2" r="0.6" fill="#3c58c0" opacity="0.65"/><circle cx="412.4" cy="229.4" r="0.6" fill="#3c58c0" opacity="0.65"/><circle cx="427.5" cy="222.5" r="0.6" fill="#3c58c0" opacity="0.65"/><circle cx="417.3" cy="228.6" r="0.6" fill="#3c58c0" opacity="0.65"/><circle cx="428.8" cy="225.9" r="0.6" fill="#3c58c0" opacity="0.65"/><circle cx="421.5" cy="225.6" r="0.6" fill="#3c58c0" opacity="0.65"/><circle cx="417.3" cy="231.8" r="0.6" fill="#3c58c0" opacity="0.65"/><circle cx="417.2" cy="226.3" r="0.6" fill="#3c58c0" opacity="0.65"/><circle cx="415.6" cy="229.0" r="0.6" fill="#3c58c0" opacity="0.65"/><circle cx="429.2" cy="227.2" r="0.6" fill="#3c58c0" opacity="0.65"/><circle cx="417.8" cy="227.2" r="0.6" fill="#3c58c0" opacity="0.65"/><circle cx="425.6" cy="226.3" r="0.6" fill="#3c58c0" opacity="0.65"/><circle cx="421.6" cy="227.5" r="0.6" fill="#3c58c0" opacity="0.65"/>
<circle cx="447.0" cy="185.4" r="0.55" fill="#6a7ed0" opacity="0.5"/><circle cx="446.2" cy="185.0" r="0.55" fill="#6a7ed0" opacity="0.5"/><circle cx="422.4" cy="185.5" r="0.55" fill="#6a7ed0" opacity="0.5"/><circle cx="438.0" cy="184.7" r="0.55" fill="#6a7ed0" opacity="0.5"/><circle cx="415.0" cy="182.3" r="0.55" fill="#6a7ed0" opacity="0.5"/><circle cx="425.7" cy="184.9" r="0.55" fill="#6a7ed0" opacity="0.5"/><circle cx="416.9" cy="185.3" r="0.55" fill="#6a7ed0" opacity="0.5"/><circle cx="419.5" cy="185.9" r="0.55" fill="#6a7ed0" opacity="0.5"/><circle cx="421.8" cy="186.2" r="0.55" fill="#6a7ed0" opacity="0.5"/><circle cx="420.6" cy="185.3" r="0.55" fill="#6a7ed0" opacity="0.5"/><circle cx="435.6" cy="183.6" r="0.55" fill="#6a7ed0" opacity="0.5"/><circle cx="417.8" cy="187.2" r="0.55" fill="#6a7ed0" opacity="0.5"/><circle cx="440.3" cy="181.4" r="0.55" fill="#6a7ed0" opacity="0.5"/><circle cx="452.7" cy="186.2" r="0.55" fill="#6a7ed0" opacity="0.5"/><circle cx="436.2" cy="185.2" r="0.55" fill="#6a7ed0" opacity="0.5"/><circle cx="450.3" cy="184.5" r="0.55" fill="#6a7ed0" opacity="0.5"/><circle cx="426.9" cy="183.8" r="0.55" fill="#6a7ed0" opacity="0.5"/><circle cx="446.1" cy="184.8" r="0.55" fill="#6a7ed0" opacity="0.5"/><circle cx="428.2" cy="186.6" r="0.55" fill="#6a7ed0" opacity="0.5"/><circle cx="432.5" cy="187.4" r="0.55" fill="#6a7ed0" opacity="0.5"/><circle cx="434.4" cy="184.5" r="0.55" fill="#6a7ed0" opacity="0.5"/><circle cx="441.1" cy="184.1" r="0.55" fill="#6a7ed0" opacity="0.5"/><circle cx="433.8" cy="182.5" r="0.55" fill="#6a7ed0" opacity="0.5"/><circle cx="422.0" cy="184.6" r="0.55" fill="#6a7ed0" opacity="0.5"/><circle cx="443.0" cy="186.3" r="0.55" fill="#6a7ed0" opacity="0.5"/><circle cx="453.4" cy="180.9" r="0.55" fill="#6a7ed0" opacity="0.5"/><circle cx="430.4" cy="183.9" r="0.55" fill="#6a7ed0" opacity="0.5"/><circle cx="421.2" cy="182.7" r="0.55" fill="#6a7ed0" opacity="0.5"/><circle cx="417.9" cy="185.1" r="0.55" fill="#6a7ed0" opacity="0.5"/><circle cx="433.2" cy="185.1" r="0.55" fill="#6a7ed0" opacity="0.5"/><circle cx="442.3" cy="182.3" r="0.55" fill="#6a7ed0" opacity="0.5"/><circle cx="430.9" cy="184.2" r="0.55" fill="#6a7ed0" opacity="0.5"/><circle cx="453.8" cy="185.5" r="0.55" fill="#6a7ed0" opacity="0.5"/><circle cx="437.2" cy="183.7" r="0.55" fill="#6a7ed0" opacity="0.5"/><circle cx="454.7" cy="183.1" r="0.55" fill="#6a7ed0" opacity="0.5"/><circle cx="450.7" cy="189.6" r="0.55" fill="#6a7ed0" opacity="0.5"/><circle cx="433.9" cy="188.1" r="0.55" fill="#6a7ed0" opacity="0.5"/><circle cx="426.6" cy="185.2" r="0.55" fill="#6a7ed0" opacity="0.5"/><circle cx="443.5" cy="184.3" r="0.55" fill="#6a7ed0" opacity="0.5"/><circle cx="421.1" cy="184.6" r="0.55" fill="#6a7ed0" opacity="0.5"/><circle cx="439.5" cy="185.8" r="0.55" fill="#6a7ed0" opacity="0.5"/><circle cx="437.5" cy="183.4" r="0.55" fill="#6a7ed0" opacity="0.5"/><circle cx="427.1" cy="187.2" r="0.55" fill="#6a7ed0" opacity="0.5"/><circle cx="421.8" cy="186.0" r="0.55" fill="#6a7ed0" opacity="0.5"/><circle cx="438.9" cy="183.9" r="0.55" fill="#6a7ed0" opacity="0.5"/><circle cx="425.1" cy="186.3" r="0.55" fill="#6a7ed0" opacity="0.5"/><circle cx="430.5" cy="186.0" r="0.55" fill="#6a7ed0" opacity="0.5"/><circle cx="444.2" cy="181.2" r="0.55" fill="#6a7ed0" opacity="0.5"/><circle cx="427.0" cy="184.0" r="0.55" fill="#6a7ed0" opacity="0.5"/><circle cx="417.1" cy="184.4" r="0.55" fill="#6a7ed0" opacity="0.5"/><circle cx="414.8" cy="186.0" r="0.55" fill="#6a7ed0" opacity="0.5"/><circle cx="455.5" cy="182.7" r="0.55" fill="#6a7ed0" opacity="0.5"/><circle cx="437.9" cy="182.1" r="0.55" fill="#6a7ed0" opacity="0.5"/><circle cx="440.7" cy="184.1" r="0.55" fill="#6a7ed0" opacity="0.5"/><circle cx="423.4" cy="182.9" r="0.55" fill="#6a7ed0" opacity="0.5"/><circle cx="450.7" cy="181.7" r="0.55" fill="#6a7ed0" opacity="0.5"/><circle cx="425.2" cy="186.1" r="0.55" fill="#6a7ed0" opacity="0.5"/><circle cx="439.0" cy="186.3" r="0.55" fill="#6a7ed0" opacity="0.5"/><circle cx="425.1" cy="186.0" r="0.55" fill="#6a7ed0" opacity="0.5"/><circle cx="435.8" cy="183.8" r="0.55" fill="#6a7ed0" opacity="0.5"/><circle cx="443.9" cy="182.9" r="0.55" fill="#6a7ed0" opacity="0.5"/><circle cx="442.3" cy="183.9" r="0.55" fill="#6a7ed0" opacity="0.5"/><circle cx="433.0" cy="182.2" r="0.55" fill="#6a7ed0" opacity="0.5"/><circle cx="442.8" cy="187.6" r="0.55" fill="#6a7ed0" opacity="0.5"/><circle cx="447.1" cy="185.6" r="0.55" fill="#6a7ed0" opacity="0.5"/><circle cx="454.5" cy="185.3" r="0.55" fill="#6a7ed0" opacity="0.5"/><circle cx="455.1" cy="183.2" r="0.55" fill="#6a7ed0" opacity="0.5"/><circle cx="443.4" cy="185.8" r="0.55" fill="#6a7ed0" opacity="0.5"/><circle cx="446.9" cy="184.8" r="0.55" fill="#6a7ed0" opacity="0.5"/><circle cx="423.3" cy="185.0" r="0.55" fill="#6a7ed0" opacity="0.5"/><circle cx="418.7" cy="185.5" r="0.55" fill="#6a7ed0" opacity="0.5"/><circle cx="414.5" cy="182.9" r="0.55" fill="#6a7ed0" opacity="0.5"/><circle cx="436.8" cy="186.1" r="0.55" fill="#6a7ed0" opacity="0.5"/><circle cx="433.3" cy="185.9" r="0.55" fill="#6a7ed0" opacity="0.5"/><circle cx="414.7" cy="184.0" r="0.55" fill="#6a7ed0" opacity="0.5"/><circle cx="432.2" cy="183.8" r="0.55" fill="#6a7ed0" opacity="0.5"/><circle cx="447.7" cy="182.3" r="0.55" fill="#6a7ed0" opacity="0.5"/><circle cx="444.6" cy="183.9" r="0.55" fill="#6a7ed0" opacity="0.5"/><circle cx="445.8" cy="185.1" r="0.55" fill="#6a7ed0" opacity="0.5"/><circle cx="446.1" cy="182.2" r="0.55" fill="#6a7ed0" opacity="0.5"/><circle cx="449.8" cy="183.4" r="0.55" fill="#6a7ed0" opacity="0.5"/><circle cx="412.7" cy="184.3" r="0.55" fill="#6a7ed0" opacity="0.5"/><circle cx="425.8" cy="184.6" r="0.55" fill="#6a7ed0" opacity="0.5"/><circle cx="421.5" cy="184.5" r="0.55" fill="#6a7ed0" opacity="0.5"/><circle cx="423.7" cy="186.9" r="0.55" fill="#6a7ed0" opacity="0.5"/><circle cx="456.0" cy="183.9" r="0.55" fill="#6a7ed0" opacity="0.5"/><circle cx="453.9" cy="183.7" r="0.55" fill="#6a7ed0" opacity="0.5"/><circle cx="427.0" cy="184.3" r="0.55" fill="#6a7ed0" opacity="0.5"/><circle cx="430.5" cy="184.5" r="0.55" fill="#6a7ed0" opacity="0.5"/><circle cx="417.4" cy="185.2" r="0.55" fill="#6a7ed0" opacity="0.5"/><circle cx="416.5" cy="183.1" r="0.55" fill="#6a7ed0" opacity="0.5"/><circle cx="425.9" cy="182.2" r="0.55" fill="#6a7ed0" opacity="0.5"/><circle cx="427.6" cy="184.5" r="0.55" fill="#6a7ed0" opacity="0.5"/><circle cx="452.4" cy="183.7" r="0.55" fill="#6a7ed0" opacity="0.5"/><circle cx="420.3" cy="183.3" r="0.55" fill="#6a7ed0" opacity="0.5"/><circle cx="444.4" cy="186.7" r="0.55" fill="#6a7ed0" opacity="0.5"/><circle cx="449.3" cy="185.1" r="0.55" fill="#6a7ed0" opacity="0.5"/><circle cx="421.6" cy="182.0" r="0.55" fill="#6a7ed0" opacity="0.5"/><circle cx="447.2" cy="184.7" r="0.55" fill="#6a7ed0" opacity="0.5"/><circle cx="441.1" cy="183.8" r="0.55" fill="#6a7ed0" opacity="0.5"/><circle cx="421.8" cy="184.3" r="0.55" fill="#6a7ed0" opacity="0.5"/><circle cx="440.7" cy="185.3" r="0.55" fill="#6a7ed0" opacity="0.5"/><circle cx="429.6" cy="183.9" r="0.55" fill="#6a7ed0" opacity="0.5"/><circle cx="415.5" cy="183.7" r="0.55" fill="#6a7ed0" opacity="0.5"/><circle cx="425.0" cy="182.7" r="0.55" fill="#6a7ed0" opacity="0.5"/><circle cx="440.7" cy="183.6" r="0.55" fill="#6a7ed0" opacity="0.5"/><circle cx="426.7" cy="183.5" r="0.55" fill="#6a7ed0" opacity="0.5"/><circle cx="421.3" cy="187.2" r="0.55" fill="#6a7ed0" opacity="0.5"/><circle cx="447.8" cy="180.3" r="0.55" fill="#6a7ed0" opacity="0.5"/><circle cx="446.8" cy="185.2" r="0.55" fill="#6a7ed0" opacity="0.5"/><circle cx="446.2" cy="184.8" r="0.55" fill="#6a7ed0" opacity="0.5"/><circle cx="419.8" cy="185.3" r="0.55" fill="#6a7ed0" opacity="0.5"/><circle cx="423.5" cy="183.4" r="0.55" fill="#6a7ed0" opacity="0.5"/><circle cx="433.8" cy="185.1" r="0.55" fill="#6a7ed0" opacity="0.5"/><circle cx="434.0" cy="184.1" r="0.55" fill="#6a7ed0" opacity="0.5"/><circle cx="441.5" cy="183.6" r="0.55" fill="#6a7ed0" opacity="0.5"/><circle cx="420.1" cy="185.3" r="0.55" fill="#6a7ed0" opacity="0.5"/><circle cx="434.4" cy="186.5" r="0.55" fill="#6a7ed0" opacity="0.5"/><circle cx="422.9" cy="186.1" r="0.55" fill="#6a7ed0" opacity="0.5"/><circle cx="444.1" cy="182.7" r="0.55" fill="#6a7ed0" opacity="0.5"/><circle cx="436.0" cy="182.8" r="0.55" fill="#6a7ed0" opacity="0.5"/><circle cx="441.3" cy="185.2" r="0.55" fill="#6a7ed0" opacity="0.5"/><circle cx="440.7" cy="184.6" r="0.55" fill="#6a7ed0" opacity="0.5"/><circle cx="455.7" cy="183.4" r="0.55" fill="#6a7ed0" opacity="0.5"/><circle cx="432.8" cy="183.5" r="0.55" fill="#6a7ed0" opacity="0.5"/><circle cx="417.2" cy="182.2" r="0.55" fill="#6a7ed0" opacity="0.5"/><circle cx="433.8" cy="185.1" r="0.55" fill="#6a7ed0" opacity="0.5"/><circle cx="418.8" cy="184.6" r="0.55" fill="#6a7ed0" opacity="0.5"/><circle cx="426.4" cy="183.7" r="0.55" fill="#6a7ed0" opacity="0.5"/><circle cx="419.6" cy="185.1" r="0.55" fill="#6a7ed0" opacity="0.5"/><circle cx="436.9" cy="183.5" r="0.55" fill="#6a7ed0" opacity="0.5"/><circle cx="421.7" cy="183.1" r="0.55" fill="#6a7ed0" opacity="0.5"/><circle cx="429.2" cy="185.2" r="0.55" fill="#6a7ed0" opacity="0.5"/><circle cx="455.5" cy="184.6" r="0.55" fill="#6a7ed0" opacity="0.5"/><circle cx="447.6" cy="182.0" r="0.55" fill="#6a7ed0" opacity="0.5"/><circle cx="435.9" cy="183.8" r="0.55" fill="#6a7ed0" opacity="0.5"/><circle cx="424.0" cy="185.0" r="0.55" fill="#6a7ed0" opacity="0.5"/><circle cx="445.5" cy="184.8" r="0.55" fill="#6a7ed0" opacity="0.5"/><circle cx="456.2" cy="185.6" r="0.55" fill="#6a7ed0" opacity="0.5"/><circle cx="428.4" cy="185.6" r="0.55" fill="#6a7ed0" opacity="0.5"/><circle cx="434.7" cy="184.3" r="0.55" fill="#6a7ed0" opacity="0.5"/><circle cx="449.4" cy="184.8" r="0.55" fill="#6a7ed0" opacity="0.5"/><circle cx="444.7" cy="184.9" r="0.55" fill="#6a7ed0" opacity="0.5"/><circle cx="433.0" cy="181.7" r="0.55" fill="#6a7ed0" opacity="0.5"/><circle cx="440.7" cy="184.4" r="0.55" fill="#6a7ed0" opacity="0.5"/><circle cx="442.5" cy="182.0" r="0.55" fill="#6a7ed0" opacity="0.5"/><circle cx="429.5" cy="182.2" r="0.55" fill="#6a7ed0" opacity="0.5"/><circle cx="424.4" cy="185.6" r="0.55" fill="#6a7ed0" opacity="0.5"/><circle cx="428.5" cy="184.9" r="0.55" fill="#6a7ed0" opacity="0.5"/><circle cx="425.1" cy="183.7" r="0.55" fill="#6a7ed0" opacity="0.5"/><circle cx="442.6" cy="182.5" r="0.55" fill="#6a7ed0" opacity="0.5"/><circle cx="426.9" cy="183.2" r="0.55" fill="#6a7ed0" opacity="0.5"/><circle cx="455.1" cy="181.3" r="0.55" fill="#6a7ed0" opacity="0.5"/><circle cx="448.0" cy="186.2" r="0.55" fill="#6a7ed0" opacity="0.5"/><circle cx="430.6" cy="183.7" r="0.55" fill="#6a7ed0" opacity="0.5"/><circle cx="435.3" cy="186.6" r="0.55" fill="#6a7ed0" opacity="0.5"/><circle cx="430.3" cy="182.0" r="0.55" fill="#6a7ed0" opacity="0.5"/><circle cx="453.1" cy="186.6" r="0.55" fill="#6a7ed0" opacity="0.5"/><circle cx="444.2" cy="182.1" r="0.55" fill="#6a7ed0" opacity="0.5"/><circle cx="417.7" cy="183.4" r="0.55" fill="#6a7ed0" opacity="0.5"/><circle cx="431.9" cy="186.6" r="0.55" fill="#6a7ed0" opacity="0.5"/><circle cx="447.5" cy="183.3" r="0.55" fill="#6a7ed0" opacity="0.5"/><circle cx="428.5" cy="185.1" r="0.55" fill="#6a7ed0" opacity="0.5"/><circle cx="430.6" cy="184.9" r="0.55" fill="#6a7ed0" opacity="0.5"/><circle cx="424.3" cy="184.8" r="0.55" fill="#6a7ed0" opacity="0.5"/><circle cx="445.6" cy="185.6" r="0.55" fill="#6a7ed0" opacity="0.5"/><circle cx="432.2" cy="180.9" r="0.55" fill="#6a7ed0" opacity="0.5"/><circle cx="425.1" cy="182.1" r="0.55" fill="#6a7ed0" opacity="0.5"/><circle cx="435.8" cy="182.9" r="0.55" fill="#6a7ed0" opacity="0.5"/><circle cx="428.7" cy="183.1" r="0.55" fill="#6a7ed0" opacity="0.5"/><circle cx="416.4" cy="183.2" r="0.55" fill="#6a7ed0" opacity="0.5"/><circle cx="434.3" cy="184.4" r="0.55" fill="#6a7ed0" opacity="0.5"/><circle cx="450.3" cy="183.0" r="0.55" fill="#6a7ed0" opacity="0.5"/><circle cx="426.9" cy="187.3" r="0.55" fill="#6a7ed0" opacity="0.5"/><circle cx="445.6" cy="186.5" r="0.55" fill="#6a7ed0" opacity="0.5"/><circle cx="414.5" cy="183.9" r="0.55" fill="#6a7ed0" opacity="0.5"/><circle cx="443.5" cy="184.4" r="0.55" fill="#6a7ed0" opacity="0.5"/><circle cx="437.2" cy="181.9" r="0.55" fill="#6a7ed0" opacity="0.5"/><circle cx="429.6" cy="186.9" r="0.55" fill="#6a7ed0" opacity="0.5"/><circle cx="448.2" cy="187.0" r="0.55" fill="#6a7ed0" opacity="0.5"/><circle cx="454.1" cy="184.4" r="0.55" fill="#6a7ed0" opacity="0.5"/><circle cx="444.7" cy="183.7" r="0.55" fill="#6a7ed0" opacity="0.5"/><circle cx="425.7" cy="186.6" r="0.55" fill="#6a7ed0" opacity="0.5"/><circle cx="420.4" cy="184.1" r="0.55" fill="#6a7ed0" opacity="0.5"/><circle cx="444.4" cy="187.1" r="0.55" fill="#6a7ed0" opacity="0.5"/><circle cx="453.3" cy="182.8" r="0.55" fill="#6a7ed0" opacity="0.5"/><circle cx="423.6" cy="183.6" r="0.55" fill="#6a7ed0" opacity="0.5"/><circle cx="446.8" cy="183.0" r="0.55" fill="#6a7ed0" opacity="0.5"/><circle cx="452.7" cy="184.2" r="0.55" fill="#6a7ed0" opacity="0.5"/><circle cx="437.8" cy="182.4" r="0.55" fill="#6a7ed0" opacity="0.5"/><circle cx="450.5" cy="183.6" r="0.55" fill="#6a7ed0" opacity="0.5"/><circle cx="438.9" cy="185.9" r="0.55" fill="#6a7ed0" opacity="0.5"/><circle cx="445.9" cy="184.9" r="0.55" fill="#6a7ed0" opacity="0.5"/><circle cx="424.9" cy="186.1" r="0.55" fill="#6a7ed0" opacity="0.5"/><circle cx="435.0" cy="184.4" r="0.55" fill="#6a7ed0" opacity="0.5"/><circle cx="413.4" cy="186.8" r="0.55" fill="#6a7ed0" opacity="0.5"/><circle cx="445.5" cy="185.2" r="0.55" fill="#6a7ed0" opacity="0.5"/><circle cx="436.7" cy="186.1" r="0.55" fill="#6a7ed0" opacity="0.5"/><circle cx="452.4" cy="185.8" r="0.55" fill="#6a7ed0" opacity="0.5"/><circle cx="444.2" cy="181.7" r="0.55" fill="#6a7ed0" opacity="0.5"/>
<circle cx="417.9" cy="183.9" r="0.6" fill="#3050b8" opacity="0.75"/><circle cx="421.8" cy="182.7" r="0.6" fill="#3050b8" opacity="0.75"/><circle cx="424.8" cy="185.7" r="0.6" fill="#3050b8" opacity="0.75"/><circle cx="417.3" cy="185.0" r="0.6" fill="#3050b8" opacity="0.75"/><circle cx="422.9" cy="185.6" r="0.6" fill="#3050b8" opacity="0.75"/><circle cx="417.7" cy="184.3" r="0.6" fill="#3050b8" opacity="0.75"/><circle cx="414.5" cy="185.2" r="0.6" fill="#3050b8" opacity="0.75"/><circle cx="420.9" cy="184.8" r="0.6" fill="#3050b8" opacity="0.75"/><circle cx="418.6" cy="184.0" r="0.6" fill="#3050b8" opacity="0.75"/><circle cx="418.9" cy="185.4" r="0.6" fill="#3050b8" opacity="0.75"/><circle cx="415.1" cy="185.6" r="0.6" fill="#3050b8" opacity="0.75"/><circle cx="417.9" cy="185.4" r="0.6" fill="#3050b8" opacity="0.75"/><circle cx="418.6" cy="185.3" r="0.6" fill="#3050b8" opacity="0.75"/><circle cx="419.3" cy="185.7" r="0.6" fill="#3050b8" opacity="0.75"/><circle cx="416.6" cy="184.8" r="0.6" fill="#3050b8" opacity="0.75"/><circle cx="415.4" cy="185.0" r="0.6" fill="#3050b8" opacity="0.75"/><circle cx="421.6" cy="184.6" r="0.6" fill="#3050b8" opacity="0.75"/><circle cx="421.4" cy="184.4" r="0.6" fill="#3050b8" opacity="0.75"/><circle cx="419.6" cy="186.2" r="0.6" fill="#3050b8" opacity="0.75"/><circle cx="419.4" cy="185.3" r="0.6" fill="#3050b8" opacity="0.75"/><circle cx="422.3" cy="185.6" r="0.6" fill="#3050b8" opacity="0.75"/><circle cx="421.2" cy="184.6" r="0.6" fill="#3050b8" opacity="0.75"/><circle cx="416.6" cy="185.7" r="0.6" fill="#3050b8" opacity="0.75"/><circle cx="415.8" cy="186.2" r="0.6" fill="#3050b8" opacity="0.75"/><circle cx="417.1" cy="185.2" r="0.6" fill="#3050b8" opacity="0.75"/><circle cx="420.8" cy="183.7" r="0.6" fill="#3050b8" opacity="0.75"/><circle cx="423.8" cy="184.9" r="0.6" fill="#3050b8" opacity="0.75"/><circle cx="418.0" cy="183.8" r="0.6" fill="#3050b8" opacity="0.75"/><circle cx="414.1" cy="183.0" r="0.6" fill="#3050b8" opacity="0.75"/><circle cx="416.0" cy="185.5" r="0.6" fill="#3050b8" opacity="0.75"/><circle cx="417.3" cy="186.1" r="0.6" fill="#3050b8" opacity="0.75"/><circle cx="416.0" cy="183.3" r="0.6" fill="#3050b8" opacity="0.75"/><circle cx="419.9" cy="184.6" r="0.6" fill="#3050b8" opacity="0.75"/><circle cx="414.8" cy="186.4" r="0.6" fill="#3050b8" opacity="0.75"/><circle cx="419.4" cy="183.4" r="0.6" fill="#3050b8" opacity="0.75"/>
<circle cx="449.8" cy="183.3" r="0.6" fill="#3050b8" opacity="0.75"/><circle cx="453.7" cy="183.8" r="0.6" fill="#3050b8" opacity="0.75"/><circle cx="449.6" cy="184.7" r="0.6" fill="#3050b8" opacity="0.75"/><circle cx="454.6" cy="186.0" r="0.6" fill="#3050b8" opacity="0.75"/><circle cx="451.0" cy="184.0" r="0.6" fill="#3050b8" opacity="0.75"/><circle cx="449.6" cy="185.5" r="0.6" fill="#3050b8" opacity="0.75"/><circle cx="448.5" cy="184.3" r="0.6" fill="#3050b8" opacity="0.75"/><circle cx="452.6" cy="183.6" r="0.6" fill="#3050b8" opacity="0.75"/><circle cx="445.4" cy="183.7" r="0.6" fill="#3050b8" opacity="0.75"/><circle cx="449.0" cy="183.3" r="0.6" fill="#3050b8" opacity="0.75"/><circle cx="449.6" cy="185.3" r="0.6" fill="#3050b8" opacity="0.75"/><circle cx="447.5" cy="183.0" r="0.6" fill="#3050b8" opacity="0.75"/><circle cx="450.6" cy="185.5" r="0.6" fill="#3050b8" opacity="0.75"/><circle cx="449.1" cy="185.0" r="0.6" fill="#3050b8" opacity="0.75"/><circle cx="453.4" cy="183.5" r="0.6" fill="#3050b8" opacity="0.75"/><circle cx="450.5" cy="185.4" r="0.6" fill="#3050b8" opacity="0.75"/><circle cx="451.4" cy="183.7" r="0.6" fill="#3050b8" opacity="0.75"/><circle cx="450.6" cy="184.1" r="0.6" fill="#3050b8" opacity="0.75"/><circle cx="451.1" cy="184.7" r="0.6" fill="#3050b8" opacity="0.75"/><circle cx="451.3" cy="183.7" r="0.6" fill="#3050b8" opacity="0.75"/><circle cx="450.9" cy="184.7" r="0.6" fill="#3050b8" opacity="0.75"/><circle cx="450.5" cy="186.2" r="0.6" fill="#3050b8" opacity="0.75"/><circle cx="449.8" cy="181.7" r="0.6" fill="#3050b8" opacity="0.75"/><circle cx="453.7" cy="183.8" r="0.6" fill="#3050b8" opacity="0.75"/><circle cx="451.7" cy="184.1" r="0.6" fill="#3050b8" opacity="0.75"/>
<ellipse cx="418.4" cy="184.8" rx="3" ry="1" fill="#2a9ab0" opacity="0.8"/>
<ellipse cx="406.4" cy="233.3" rx="8" ry="2.8" transform="rotate(-20 406.4 233.3)" fill="#2f7ac0"/>
<ellipse cx="404.59999999999997" cy="234.1" rx="5.6" ry="2.0" transform="rotate(-20 404.59999999999997 234.1)" fill="#3cb070"/>
<ellipse cx="402.79999999999995" cy="234.8" rx="3.3" ry="1.4" transform="rotate(-20 402.79999999999995 234.8)" fill="#b8c828"/>
</g>
</g>
<rect x="381.40" y="174.80" width="80.40" height="79.80" fill="none" stroke="#222" stroke-width="1.5" />
<line x1="411.50" y1="174.80" x2="411.50" y2="254.60" stroke="#444" stroke-width="1" />
<line x1="381.40" y1="223.50" x2="461.80" y2="223.50" stroke="#444" stroke-width="1" />
<text transform="translate(447.00,219.30)" font-size="8" text-anchor="middle" fill="#222" >28.8</text>
<text transform="translate(395.60,250.80)" font-size="8" text-anchor="middle" fill="#222" >50</text>
<text transform="translate(447.30,250.80)" font-size="8" text-anchor="middle" fill="#222" >20</text>
<text transform="translate(108.90,209.80)" font-size="7.4" text-anchor="end" fill="#222" >late apoptotic/</text>
<text transform="translate(108.90,219.40)" font-size="7.4" text-anchor="end" fill="#222" >dead</text>
<text transform="translate(109.20,241.90)" font-size="7.4" text-anchor="end" fill="#222" >early</text>
<text transform="translate(109.20,251.50)" font-size="7.4" text-anchor="end" fill="#222" >apoptotic</text>
<text transform="translate(39.20,251.30)" font-size="7.4" text-anchor="start" fill="#222" >live</text>
<line x1="24.20" y1="230.90" x2="24.20" y2="188.00" stroke="#111" stroke-width="1.4" />
<path d="M20.9,189.6 L24.2,182.2 L27.5,189.6 Z" fill="#111"/>
<text transform="translate(26.60,239.80) rotate(-90) scale(0.7,1)" font-size="8.5" text-anchor="start" font-weight="bold" fill="#222" >PI</text>
<text transform="translate(41.70,266.80) scale(0.588,1)" font-size="10.2" text-anchor="start" font-weight="bold" fill="#222" >Annexin V</text>
<line x1="74.00" y1="264.00" x2="420.00" y2="264.00" stroke="#111" stroke-width="1.4" />
<path d="M418.6,261.1 L426.6,264 L418.6,266.9 Z" fill="#111"/>
<rect x="40.90" y="296.00" width="96.20" height="41.30" fill="#fff" stroke="#333" stroke-width="1.5" />
<line x1="40.90" y1="322.30" x2="137.10" y2="322.30" stroke="#333" stroke-width="1.4" />
<line x1="60.20" y1="322.30" x2="60.20" y2="337.30" stroke="#333" stroke-width="1.3" />
<line x1="79.80" y1="322.30" x2="79.80" y2="337.30" stroke="#333" stroke-width="1.3" />
<line x1="98.50" y1="322.30" x2="98.50" y2="337.30" stroke="#333" stroke-width="1.3" />
<line x1="118.10" y1="322.30" x2="118.10" y2="337.30" stroke="#333" stroke-width="1.3" />
<text transform="translate(89.00,306.90)" font-size="9.9" text-anchor="middle" fill="#85304c" >K562</text>
<text transform="translate(89.10,318.30)" font-size="9.6" text-anchor="middle" fill="#1a1a1a" letter-spacing="0.2">MAb131 (10ug/mL)</text>
<text transform="translate(50.55,331.90)" font-size="7.5" text-anchor="middle" fill="#3a3a3a" >0h</text>
<text transform="translate(70.00,331.90)" font-size="7.5" text-anchor="middle" fill="#3a3a3a" >0.5h</text>
<text transform="translate(89.15,331.90)" font-size="7.5" text-anchor="middle" fill="#3a3a3a" >1h</text>
<text transform="translate(108.30,331.90)" font-size="7.5" text-anchor="middle" fill="#3a3a3a" >2h</text>
<text transform="translate(127.60,331.90)" font-size="7.5" text-anchor="middle" fill="#3a3a3a" >4h</text>
<defs><filter id="bl1" x="-20%" y="-50%" width="140%" height="200%"><feGaussianBlur stdDeviation="0.8 0.6"/></filter><filter id="bl2" x="-20%" y="-50%" width="140%" height="200%"><feGaussianBlur stdDeviation="1.2 0.9"/></filter></defs>
<rect x="40.20" y="339.20" width="97.60" height="17.60" fill="#f0f0f0" stroke="#222" stroke-width="1.5" />
<rect x="40.20" y="359.40" width="97.60" height="14.80" fill="#dedede" stroke="#222" stroke-width="1.5" />
<rect x="42.3" y="347.5" width="15.300000000000004" height="3.6" rx="1.2" fill="#000" opacity="0.95" filter="url(#bl1)"/>
<rect x="61.5" y="347.8" width="15.299999999999997" height="3.0" rx="1.2" fill="#000" opacity="0.62" filter="url(#bl1)"/>
<rect x="80.8" y="347.65000000000003" width="15.200000000000003" height="3.3" rx="1.2" fill="#000" opacity="0.8" filter="url(#bl1)"/>
<rect x="100" y="347.8" width="15.5" height="3.0" rx="1.2" fill="#000" opacity="0.42" filter="url(#bl1)"/>
<rect x="119.6" y="347.7" width="16.400000000000006" height="3.2" rx="1.2" fill="#000" opacity="0.28" filter="url(#bl1)"/>
<rect x="43" y="342.2" width="7" height="0.7" fill="#888" opacity="0.3"/>
<rect x="66" y="342.2" width="4" height="0.7" fill="#888" opacity="0.3"/>
<rect x="88" y="342.2" width="3" height="0.7" fill="#888" opacity="0.3"/>
<rect x="104" y="342.2" width="6" height="0.7" fill="#888" opacity="0.3"/>
<rect x="124" y="342.2" width="6" height="0.7" fill="#888" opacity="0.3"/>
<path d="M41.5,365 Q46,367 58,367" stroke="#111" stroke-width="2.4" fill="none" opacity="0.85" filter="url(#bl1)"/>
<rect x="61.5" y="365.6" width="15.5" height="2.5" fill="#111" opacity="0.85" filter="url(#bl1)"/>
<rect x="80.8" y="365.6" width="15.700000000000003" height="2.5" fill="#111" opacity="0.85" filter="url(#bl1)"/>
<rect x="100" y="365.6" width="16" height="2.5" fill="#111" opacity="0.85" filter="url(#bl1)"/>
<rect x="119.6" y="365.6" width="16.900000000000006" height="2.5" fill="#111" opacity="0.85" filter="url(#bl1)"/>
<text transform="translate(37.80,351.50)" font-size="7.8" text-anchor="end" fill="#222" >EPHB4</text>
<text transform="translate(37.80,368.80)" font-size="7.8" text-anchor="end" fill="#222" >Act</text>
<text transform="translate(88.30,391.40)" font-size="7.3" text-anchor="middle" fill="#1a1a1a" >Time after treatment with MAb131</text>
<rect x="49.40" y="395.60" width="77.90" height="81.20" fill="none" stroke="#333" stroke-width="1.3" />
<line x1="49.40" y1="411.60" x2="127.30" y2="411.60" stroke="#444" stroke-width="1.0" />
<line x1="49.40" y1="428.20" x2="127.30" y2="428.20" stroke="#444" stroke-width="1.0" />
<line x1="49.40" y1="444.40" x2="127.30" y2="444.40" stroke="#444" stroke-width="1.0" />
<line x1="49.40" y1="460.70" x2="127.30" y2="460.70" stroke="#444" stroke-width="1.0" />
<line x1="75.30" y1="395.60" x2="75.30" y2="476.80" stroke="#333" stroke-width="1.2" />
<line x1="101.20" y1="395.60" x2="101.20" y2="476.80" stroke="#333" stroke-width="1.2" />
<path d="M49.40,411.40 L50.09,411.40 L50.77,411.39 L51.46,411.39 L52.14,411.37 L52.83,411.35 L53.52,411.29 L54.20,411.20 L54.89,411.05 L55.57,410.81 L56.26,410.43 L56.94,409.89 L57.63,409.13 L58.32,408.15 L59.00,406.93 L59.69,405.52 L60.37,404.00 L61.06,402.47 L61.74,401.07 L62.43,399.97 L63.12,399.28 L63.80,399.10 L64.49,399.44 L65.17,400.26 L65.86,401.47 L66.55,402.92 L67.23,404.46 L67.92,405.96 L68.60,407.32 L69.29,408.47 L69.97,409.38 L70.66,410.07 L71.35,410.56 L72.03,410.89 L72.72,411.11 L73.40,411.24 L74.09,411.31 L74.78,411.36 L75.46,411.38 L76.15,411.39 L76.83,411.40 L77.52,411.40 L78.20,411.40 L78.89,411.40 L79.58,411.40 L80.26,411.40 L80.95,411.40 L81.63,411.40 L82.32,411.40 L83.01,411.40 L83.69,411.40 L84.38,411.40 L85.06,411.40 L85.75,411.40 L86.43,411.40 L87.12,411.40 L87.81,411.40 L88.49,411.40 L89.18,411.40 L89.86,411.40 L90.55,411.40 L91.24,411.40 L91.92,411.40 L92.61,411.40 L93.29,411.40 L93.98,411.40 L94.66,411.40 L95.35,411.40 L96.04,411.40 L96.72,411.40 L97.41,411.40 L98.09,411.40 L98.78,411.40 L99.47,411.40 L100.15,411.40 L100.84,411.40 L101.52,411.40 L102.21,411.40 L102.89,411.40 L103.58,411.40 L104.27,411.40 L104.95,411.40 L105.64,411.40 L106.32,411.40 L107.01,411.40 L107.70,411.40 L108.38,411.40 L109.07,411.40 L109.75,411.40 L110.44,411.40 L111.12,411.40 L111.81,411.40 L112.50,411.40 L113.18,411.40 L113.87,411.40 L114.55,411.40 L115.24,411.40 L115.93,411.40 L116.61,411.40 L117.30,411.40 L117.98,411.40 L118.67,411.40 L119.35,411.40 L120.04,411.40 L120.73,411.40 L121.41,411.40 L122.10,411.40 L122.78,411.40 L123.47,411.40 L124.16,411.40 L124.84,411.40 L125.53,411.40 L126.21,411.40 L126.90,411.40 L127.58,411.40 L128.27,411.40 L128.96,411.40 L129.64,411.40 L130.33,411.40 L131.01,411.40 L131.70,411.40 L131.70,411.40 L49.40,411.40Z" fill="#f1c0bc" stroke="none"/>
<path d="M49.40,411.40 L50.09,411.40 L50.77,411.39 L51.46,411.39 L52.14,411.37 L52.83,411.35 L53.52,411.29 L54.20,411.20 L54.89,411.05 L55.57,410.81 L56.26,410.43 L56.94,409.89 L57.63,409.13 L58.32,408.15 L59.00,406.93 L59.69,405.52 L60.37,404.00 L61.06,402.47 L61.74,401.07 L62.43,399.97 L63.12,399.28 L63.80,399.10 L64.49,399.44 L65.17,400.26 L65.86,401.47 L66.55,402.92 L67.23,404.46 L67.92,405.96 L68.60,407.32 L69.29,408.47 L69.97,409.38 L70.66,410.07 L71.35,410.56 L72.03,410.89 L72.72,411.11 L73.40,411.24 L74.09,411.31 L74.78,411.36 L75.46,411.38 L76.15,411.39 L76.83,411.40 L77.52,411.40 L78.20,411.40 L78.89,411.40 L79.58,411.40 L80.26,411.40 L80.95,411.40 L81.63,411.40 L82.32,411.40 L83.01,411.40 L83.69,411.40 L84.38,411.40 L85.06,411.40 L85.75,411.40 L86.43,411.40 L87.12,411.40 L87.81,411.40 L88.49,411.40 L89.18,411.40 L89.86,411.40 L90.55,411.40 L91.24,411.40 L91.92,411.40 L92.61,411.40 L93.29,411.40 L93.98,411.40 L94.66,411.40 L95.35,411.40 L96.04,411.40 L96.72,411.40 L97.41,411.40 L98.09,411.40 L98.78,411.40 L99.47,411.40 L100.15,411.40 L100.84,411.40 L101.52,411.40 L102.21,411.40 L102.89,411.40 L103.58,411.40 L104.27,411.40 L104.95,411.40 L105.64,411.40 L106.32,411.40 L107.01,411.40 L107.70,411.40 L108.38,411.40 L109.07,411.40 L109.75,411.40 L110.44,411.40 L111.12,411.40 L111.81,411.40 L112.50,411.40 L113.18,411.40 L113.87,411.40 L114.55,411.40 L115.24,411.40 L115.93,411.40 L116.61,411.40 L117.30,411.40 L117.98,411.40 L118.67,411.40 L119.35,411.40 L120.04,411.40 L120.73,411.40 L121.41,411.40 L122.10,411.40 L122.78,411.40 L123.47,411.40 L124.16,411.40 L124.84,411.40 L125.53,411.40 L126.21,411.40 L126.90,411.40 L127.58,411.40 L128.27,411.40 L128.96,411.40 L129.64,411.40 L130.33,411.40 L131.01,411.40 L131.70,411.40" fill="none" stroke="#c2455a" stroke-width="1.1" stroke-linejoin="round"/>
<path d="M49.40,428.20 L50.05,428.20 L50.70,428.20 L51.35,428.20 L52.00,428.20 L52.65,428.20 L53.30,428.20 L53.94,428.20 L54.59,428.20 L55.24,428.20 L55.89,428.20 L56.54,428.20 L57.19,428.20 L57.84,428.20 L58.49,428.20 L59.14,428.20 L59.79,428.20 L60.44,428.20 L61.09,428.20 L61.73,428.20 L62.38,428.20 L63.03,428.20 L63.68,428.20 L64.33,428.20 L64.98,428.20 L65.63,428.20 L66.28,428.20 L66.93,428.20 L67.58,428.20 L68.23,428.20 L68.88,428.20 L69.52,428.20 L70.17,428.20 L70.82,428.20 L71.47,428.20 L72.12,428.20 L72.77,428.20 L73.42,428.19 L74.07,428.19 L74.72,428.17 L75.37,428.15 L76.02,428.11 L76.66,428.04 L77.31,427.94 L77.96,427.77 L78.61,427.52 L79.26,427.16 L79.91,426.67 L80.56,426.00 L81.21,425.16 L81.86,424.12 L82.51,422.90 L83.16,421.54 L83.81,420.09 L84.45,418.65 L85.10,417.31 L85.75,416.18 L86.40,415.36 L87.05,414.92 L87.70,414.90 L88.35,415.31 L89.00,416.11 L89.65,417.22 L90.30,418.55 L90.95,419.99 L91.60,421.43 L92.25,422.80 L92.89,424.04 L93.54,425.09 L94.19,425.95 L94.84,426.62 L95.49,427.13 L96.14,427.50 L96.79,427.76 L97.44,427.93 L98.09,428.04 L98.74,428.11 L99.39,428.15 L100.03,428.17 L100.68,428.19 L101.33,428.19 L101.98,428.20 L102.63,428.20 L103.28,428.20 L103.93,428.20 L104.58,428.20 L105.23,428.20 L105.88,428.20 L106.53,428.20 L107.18,428.20 L107.83,428.20 L108.47,428.20 L109.12,428.20 L109.77,428.20 L110.42,428.20 L111.07,428.20 L111.72,428.20 L112.37,428.20 L113.02,428.20 L113.67,428.20 L114.32,428.20 L114.97,428.20 L115.62,428.20 L116.26,428.20 L116.91,428.20 L117.56,428.20 L118.21,428.20 L118.86,428.20 L119.51,428.20 L120.16,428.20 L120.81,428.20 L121.46,428.20 L122.11,428.20 L122.76,428.20 L123.41,428.20 L124.05,428.20 L124.70,428.20 L125.35,428.20 L126.00,428.20 L126.65,428.20 L127.30,428.20 L127.30,428.20 L49.40,428.20Z" fill="#c9cce3" stroke="none"/>
<path d="M49.40,428.20 L50.05,428.20 L50.70,428.20 L51.35,428.20 L52.00,428.20 L52.65,428.20 L53.30,428.20 L53.94,428.20 L54.59,428.20 L55.24,428.20 L55.89,428.20 L56.54,428.20 L57.19,428.20 L57.84,428.20 L58.49,428.20 L59.14,428.20 L59.79,428.20 L60.44,428.20 L61.09,428.20 L61.73,428.20 L62.38,428.20 L63.03,428.20 L63.68,428.20 L64.33,428.20 L64.98,428.20 L65.63,428.20 L66.28,428.20 L66.93,428.20 L67.58,428.20 L68.23,428.20 L68.88,428.20 L69.52,428.20 L70.17,428.20 L70.82,428.20 L71.47,428.20 L72.12,428.20 L72.77,428.20 L73.42,428.19 L74.07,428.19 L74.72,428.17 L75.37,428.15 L76.02,428.11 L76.66,428.04 L77.31,427.94 L77.96,427.77 L78.61,427.52 L79.26,427.16 L79.91,426.67 L80.56,426.00 L81.21,425.16 L81.86,424.12 L82.51,422.90 L83.16,421.54 L83.81,420.09 L84.45,418.65 L85.10,417.31 L85.75,416.18 L86.40,415.36 L87.05,414.92 L87.70,414.90 L88.35,415.31 L89.00,416.11 L89.65,417.22 L90.30,418.55 L90.95,419.99 L91.60,421.43 L92.25,422.80 L92.89,424.04 L93.54,425.09 L94.19,425.95 L94.84,426.62 L95.49,427.13 L96.14,427.50 L96.79,427.76 L97.44,427.93 L98.09,428.04 L98.74,428.11 L99.39,428.15 L100.03,428.17 L100.68,428.19 L101.33,428.19 L101.98,428.20 L102.63,428.20 L103.28,428.20 L103.93,428.20 L104.58,428.20 L105.23,428.20 L105.88,428.20 L106.53,428.20 L107.18,428.20 L107.83,428.20 L108.47,428.20 L109.12,428.20 L109.77,428.20 L110.42,428.20 L111.07,428.20 L111.72,428.20 L112.37,428.20 L113.02,428.20 L113.67,428.20 L114.32,428.20 L114.97,428.20 L115.62,428.20 L116.26,428.20 L116.91,428.20 L117.56,428.20 L118.21,428.20 L118.86,428.20 L119.51,428.20 L120.16,428.20 L120.81,428.20 L121.46,428.20 L122.11,428.20 L122.76,428.20 L123.41,428.20 L124.05,428.20 L124.70,428.20 L125.35,428.20 L126.00,428.20 L126.65,428.20 L127.30,428.20" fill="none" stroke="#2d3566" stroke-width="1.1" stroke-linejoin="round"/>
<path d="M49.40,444.40 L50.05,444.40 L50.70,444.40 L51.35,444.40 L52.00,444.40 L52.65,444.40 L53.30,444.39 L53.94,444.39 L54.59,444.38 L55.24,444.38 L55.89,444.37 L56.54,444.35 L57.19,444.32 L57.84,444.27 L58.49,444.18 L59.14,444.05 L59.79,443.84 L60.44,443.51 L61.09,443.03 L61.73,442.34 L62.38,441.42 L63.03,440.25 L63.68,438.85 L64.33,437.26 L64.98,435.60 L65.63,434.01 L66.28,432.63 L66.93,431.61 L67.58,431.05 L68.23,431.00 L68.88,431.43 L69.52,432.24 L70.17,433.31 L70.82,434.50 L71.47,435.66 L72.12,436.70 L72.77,437.57 L73.42,438.25 L74.07,438.76 L74.72,439.14 L75.37,439.42 L76.02,439.65 L76.66,439.86 L77.31,440.08 L77.96,440.30 L78.61,440.55 L79.26,440.82 L79.91,441.11 L80.56,441.41 L81.21,441.71 L81.86,442.01 L82.51,442.30 L83.16,442.58 L83.81,442.83 L84.45,443.07 L85.10,443.29 L85.75,443.48 L86.40,443.64 L87.05,443.79 L87.70,443.91 L88.35,444.01 L89.00,444.10 L89.65,444.17 L90.30,444.22 L90.95,444.27 L91.60,444.30 L92.25,444.33 L92.89,444.35 L93.54,444.36 L94.19,444.37 L94.84,444.38 L95.49,444.39 L96.14,444.39 L96.79,444.39 L97.44,444.40 L98.09,444.40 L98.74,444.40 L99.39,444.40 L100.03,444.40 L100.68,444.40 L101.33,444.40 L101.98,444.40 L102.63,444.40 L103.28,444.40 L103.93,444.40 L104.58,444.40 L105.23,444.40 L105.88,444.40 L106.53,444.40 L107.18,444.40 L107.83,444.40 L108.47,444.40 L109.12,444.40 L109.77,444.40 L110.42,444.40 L111.07,444.40 L111.72,444.40 L112.37,444.40 L113.02,444.40 L113.67,444.40 L114.32,444.40 L114.97,444.40 L115.62,444.40 L116.26,444.40 L116.91,444.40 L117.56,444.40 L118.21,444.40 L118.86,444.40 L119.51,444.40 L120.16,444.40 L120.81,444.40 L121.46,444.40 L122.11,444.40 L122.76,444.40 L123.41,444.40 L124.05,444.40 L124.70,444.40 L125.35,444.40 L126.00,444.40 L126.65,444.40 L127.30,444.40 L127.30,444.40 L49.40,444.40Z" fill="#c9cce3" stroke="none"/>
<path d="M49.40,444.40 L50.05,444.40 L50.70,444.40 L51.35,444.40 L52.00,444.40 L52.65,444.40 L53.30,444.39 L53.94,444.39 L54.59,444.38 L55.24,444.38 L55.89,444.37 L56.54,444.35 L57.19,444.32 L57.84,444.27 L58.49,444.18 L59.14,444.05 L59.79,443.84 L60.44,443.51 L61.09,443.03 L61.73,442.34 L62.38,441.42 L63.03,440.25 L63.68,438.85 L64.33,437.26 L64.98,435.60 L65.63,434.01 L66.28,432.63 L66.93,431.61 L67.58,431.05 L68.23,431.00 L68.88,431.43 L69.52,432.24 L70.17,433.31 L70.82,434.50 L71.47,435.66 L72.12,436.70 L72.77,437.57 L73.42,438.25 L74.07,438.76 L74.72,439.14 L75.37,439.42 L76.02,439.65 L76.66,439.86 L77.31,440.08 L77.96,440.30 L78.61,440.55 L79.26,440.82 L79.91,441.11 L80.56,441.41 L81.21,441.71 L81.86,442.01 L82.51,442.30 L83.16,442.58 L83.81,442.83 L84.45,443.07 L85.10,443.29 L85.75,443.48 L86.40,443.64 L87.05,443.79 L87.70,443.91 L88.35,444.01 L89.00,444.10 L89.65,444.17 L90.30,444.22 L90.95,444.27 L91.60,444.30 L92.25,444.33 L92.89,444.35 L93.54,444.36 L94.19,444.37 L94.84,444.38 L95.49,444.39 L96.14,444.39 L96.79,444.39 L97.44,444.40 L98.09,444.40 L98.74,444.40 L99.39,444.40 L100.03,444.40 L100.68,444.40 L101.33,444.40 L101.98,444.40 L102.63,444.40 L103.28,444.40 L103.93,444.40 L104.58,444.40 L105.23,444.40 L105.88,444.40 L106.53,444.40 L107.18,444.40 L107.83,444.40 L108.47,444.40 L109.12,444.40 L109.77,444.40 L110.42,444.40 L111.07,444.40 L111.72,444.40 L112.37,444.40 L113.02,444.40 L113.67,444.40 L114.32,444.40 L114.97,444.40 L115.62,444.40 L116.26,444.40 L116.91,444.40 L117.56,444.40 L118.21,444.40 L118.86,444.40 L119.51,444.40 L120.16,444.40 L120.81,444.40 L121.46,444.40 L122.11,444.40 L122.76,444.40 L123.41,444.40 L124.05,444.40 L124.70,444.40 L125.35,444.40 L126.00,444.40 L126.65,444.40 L127.30,444.40" fill="none" stroke="#2d3566" stroke-width="1.1" stroke-linejoin="round"/>
<path d="M49.40,460.70 L50.05,460.70 L50.70,460.70 L51.35,460.70 L52.00,460.70 L52.65,460.70 L53.30,460.70 L53.94,460.69 L54.59,460.68 L55.24,460.65 L55.89,460.60 L56.54,460.50 L57.19,460.34 L57.84,460.07 L58.49,459.65 L59.14,459.04 L59.79,458.18 L60.44,457.06 L61.09,455.68 L61.73,454.09 L62.38,452.39 L63.03,450.71 L63.68,449.22 L64.33,448.07 L64.98,447.38 L65.63,447.20 L66.28,447.51 L66.93,448.23 L67.58,449.22 L68.23,450.34 L68.88,451.49 L69.52,452.56 L70.17,453.54 L70.82,454.43 L71.47,455.24 L72.12,456.01 L72.77,456.75 L73.42,457.46 L74.07,458.13 L74.72,458.73 L75.37,459.25 L76.02,459.68 L76.66,460.01 L77.31,460.25 L77.96,460.42 L78.61,460.54 L79.26,460.61 L79.91,460.65 L80.56,460.67 L81.21,460.69 L81.86,460.69 L82.51,460.70 L83.16,460.70 L83.81,460.70 L84.45,460.70 L85.10,460.70 L85.75,460.70 L86.40,460.70 L87.05,460.70 L87.70,460.70 L88.35,460.70 L89.00,460.70 L89.65,460.70 L90.30,460.70 L90.95,460.70 L91.60,460.70 L92.25,460.70 L92.89,460.70 L93.54,460.70 L94.19,460.70 L94.84,460.70 L95.49,460.70 L96.14,460.70 L96.79,460.70 L97.44,460.70 L98.09,460.70 L98.74,460.70 L99.39,460.70 L100.03,460.70 L100.68,460.70 L101.33,460.70 L101.98,460.70 L102.63,460.70 L103.28,460.70 L103.93,460.70 L104.58,460.70 L105.23,460.70 L105.88,460.70 L106.53,460.70 L107.18,460.70 L107.83,460.70 L108.47,460.70 L109.12,460.70 L109.77,460.70 L110.42,460.70 L111.07,460.70 L111.72,460.70 L112.37,460.70 L113.02,460.70 L113.67,460.70 L114.32,460.70 L114.97,460.70 L115.62,460.70 L116.26,460.70 L116.91,460.70 L117.56,460.70 L118.21,460.70 L118.86,460.70 L119.51,460.70 L120.16,460.70 L120.81,460.70 L121.46,460.70 L122.11,460.70 L122.76,460.70 L123.41,460.70 L124.05,460.70 L124.70,460.70 L125.35,460.70 L126.00,460.70 L126.65,460.70 L127.30,460.70 L127.30,460.70 L49.40,460.70Z" fill="#c9cce3" stroke="none"/>
<path d="M49.40,460.70 L50.05,460.70 L50.70,460.70 L51.35,460.70 L52.00,460.70 L52.65,460.70 L53.30,460.70 L53.94,460.69 L54.59,460.68 L55.24,460.65 L55.89,460.60 L56.54,460.50 L57.19,460.34 L57.84,460.07 L58.49,459.65 L59.14,459.04 L59.79,458.18 L60.44,457.06 L61.09,455.68 L61.73,454.09 L62.38,452.39 L63.03,450.71 L63.68,449.22 L64.33,448.07 L64.98,447.38 L65.63,447.20 L66.28,447.51 L66.93,448.23 L67.58,449.22 L68.23,450.34 L68.88,451.49 L69.52,452.56 L70.17,453.54 L70.82,454.43 L71.47,455.24 L72.12,456.01 L72.77,456.75 L73.42,457.46 L74.07,458.13 L74.72,458.73 L75.37,459.25 L76.02,459.68 L76.66,460.01 L77.31,460.25 L77.96,460.42 L78.61,460.54 L79.26,460.61 L79.91,460.65 L80.56,460.67 L81.21,460.69 L81.86,460.69 L82.51,460.70 L83.16,460.70 L83.81,460.70 L84.45,460.70 L85.10,460.70 L85.75,460.70 L86.40,460.70 L87.05,460.70 L87.70,460.70 L88.35,460.70 L89.00,460.70 L89.65,460.70 L90.30,460.70 L90.95,460.70 L91.60,460.70 L92.25,460.70 L92.89,460.70 L93.54,460.70 L94.19,460.70 L94.84,460.70 L95.49,460.70 L96.14,460.70 L96.79,460.70 L97.44,460.70 L98.09,460.70 L98.74,460.70 L99.39,460.70 L100.03,460.70 L100.68,460.70 L101.33,460.70 L101.98,460.70 L102.63,460.70 L103.28,460.70 L103.93,460.70 L104.58,460.70 L105.23,460.70 L105.88,460.70 L106.53,460.70 L107.18,460.70 L107.83,460.70 L108.47,460.70 L109.12,460.70 L109.77,460.70 L110.42,460.70 L111.07,460.70 L111.72,460.70 L112.37,460.70 L113.02,460.70 L113.67,460.70 L114.32,460.70 L114.97,460.70 L115.62,460.70 L116.26,460.70 L116.91,460.70 L117.56,460.70 L118.21,460.70 L118.86,460.70 L119.51,460.70 L120.16,460.70 L120.81,460.70 L121.46,460.70 L122.11,460.70 L122.76,460.70 L123.41,460.70 L124.05,460.70 L124.70,460.70 L125.35,460.70 L126.00,460.70 L126.65,460.70 L127.30,460.70" fill="none" stroke="#2d3566" stroke-width="1.1" stroke-linejoin="round"/>
<path d="M49.40,476.80 L50.05,476.80 L50.70,476.80 L51.35,476.80 L52.00,476.79 L52.65,476.79 L53.30,476.78 L53.94,476.75 L54.59,476.71 L55.24,476.64 L55.89,476.53 L56.54,476.35 L57.19,476.07 L57.84,475.66 L58.49,475.09 L59.14,474.32 L59.79,473.34 L60.44,472.14 L61.09,470.75 L61.73,469.23 L62.38,467.67 L63.03,466.18 L63.68,464.89 L64.33,463.92 L64.98,463.37 L65.63,463.30 L66.28,463.71 L66.93,464.57 L67.58,465.78 L68.23,467.22 L68.88,468.77 L69.52,470.32 L70.17,471.75 L70.82,473.01 L71.47,474.05 L72.12,474.88 L72.77,475.51 L73.42,475.96 L74.07,476.28 L74.72,476.48 L75.37,476.62 L76.02,476.70 L76.66,476.74 L77.31,476.77 L77.96,476.79 L78.61,476.79 L79.26,476.80 L79.91,476.80 L80.56,476.80 L81.21,476.80 L81.86,476.80 L82.51,476.80 L83.16,476.80 L83.81,476.80 L84.45,476.80 L85.10,476.80 L85.75,476.80 L86.40,476.80 L87.05,476.80 L87.70,476.80 L88.35,476.80 L89.00,476.80 L89.65,476.80 L90.30,476.80 L90.95,476.80 L91.60,476.80 L92.25,476.80 L92.89,476.80 L93.54,476.80 L94.19,476.80 L94.84,476.80 L95.49,476.80 L96.14,476.80 L96.79,476.80 L97.44,476.80 L98.09,476.80 L98.74,476.80 L99.39,476.80 L100.03,476.80 L100.68,476.80 L101.33,476.80 L101.98,476.80 L102.63,476.80 L103.28,476.80 L103.93,476.80 L104.58,476.80 L105.23,476.80 L105.88,476.80 L106.53,476.80 L107.18,476.80 L107.83,476.80 L108.47,476.80 L109.12,476.80 L109.77,476.80 L110.42,476.80 L111.07,476.80 L111.72,476.80 L112.37,476.80 L113.02,476.80 L113.67,476.80 L114.32,476.80 L114.97,476.80 L115.62,476.80 L116.26,476.80 L116.91,476.80 L117.56,476.80 L118.21,476.80 L118.86,476.80 L119.51,476.80 L120.16,476.80 L120.81,476.80 L121.46,476.80 L122.11,476.80 L122.76,476.80 L123.41,476.80 L124.05,476.80 L124.70,476.80 L125.35,476.80 L126.00,476.80 L126.65,476.80 L127.30,476.80 L127.30,476.80 L49.40,476.80Z" fill="#c9cce3" stroke="none"/>
<path d="M49.40,476.80 L50.05,476.80 L50.70,476.80 L51.35,476.80 L52.00,476.79 L52.65,476.79 L53.30,476.78 L53.94,476.75 L54.59,476.71 L55.24,476.64 L55.89,476.53 L56.54,476.35 L57.19,476.07 L57.84,475.66 L58.49,475.09 L59.14,474.32 L59.79,473.34 L60.44,472.14 L61.09,470.75 L61.73,469.23 L62.38,467.67 L63.03,466.18 L63.68,464.89 L64.33,463.92 L64.98,463.37 L65.63,463.30 L66.28,463.71 L66.93,464.57 L67.58,465.78 L68.23,467.22 L68.88,468.77 L69.52,470.32 L70.17,471.75 L70.82,473.01 L71.47,474.05 L72.12,474.88 L72.77,475.51 L73.42,475.96 L74.07,476.28 L74.72,476.48 L75.37,476.62 L76.02,476.70 L76.66,476.74 L77.31,476.77 L77.96,476.79 L78.61,476.79 L79.26,476.80 L79.91,476.80 L80.56,476.80 L81.21,476.80 L81.86,476.80 L82.51,476.80 L83.16,476.80 L83.81,476.80 L84.45,476.80 L85.10,476.80 L85.75,476.80 L86.40,476.80 L87.05,476.80 L87.70,476.80 L88.35,476.80 L89.00,476.80 L89.65,476.80 L90.30,476.80 L90.95,476.80 L91.60,476.80 L92.25,476.80 L92.89,476.80 L93.54,476.80 L94.19,476.80 L94.84,476.80 L95.49,476.80 L96.14,476.80 L96.79,476.80 L97.44,476.80 L98.09,476.80 L98.74,476.80 L99.39,476.80 L100.03,476.80 L100.68,476.80 L101.33,476.80 L101.98,476.80 L102.63,476.80 L103.28,476.80 L103.93,476.80 L104.58,476.80 L105.23,476.80 L105.88,476.80 L106.53,476.80 L107.18,476.80 L107.83,476.80 L108.47,476.80 L109.12,476.80 L109.77,476.80 L110.42,476.80 L111.07,476.80 L111.72,476.80 L112.37,476.80 L113.02,476.80 L113.67,476.80 L114.32,476.80 L114.97,476.80 L115.62,476.80 L116.26,476.80 L116.91,476.80 L117.56,476.80 L118.21,476.80 L118.86,476.80 L119.51,476.80 L120.16,476.80 L120.81,476.80 L121.46,476.80 L122.11,476.80 L122.76,476.80 L123.41,476.80 L124.05,476.80 L124.70,476.80 L125.35,476.80 L126.00,476.80 L126.65,476.80 L127.30,476.80" fill="none" stroke="#2d3566" stroke-width="1.1" stroke-linejoin="round"/>
<text transform="translate(102.80,409.40)" font-size="5.6" text-anchor="start" fill="#111" >unstained</text>
<text transform="translate(102.80,426.00)" font-size="5.6" text-anchor="start" fill="#111" >time 0</text>
<text transform="translate(102.80,442.20)" font-size="5.6" text-anchor="start" fill="#111" >24 hours</text>
<text transform="translate(102.80,458.50)" font-size="5.6" text-anchor="start" fill="#111" >48 hours</text>
<text transform="translate(102.80,474.60)" font-size="5.6" text-anchor="start" fill="#111" >72 hours</text>
<text transform="translate(57.00,486.90) scale(0.585,1)" font-size="10.6" text-anchor="start" font-weight="bold" fill="#222" >EPHB4</text>
<line x1="84.00" y1="484.00" x2="111.00" y2="484.00" stroke="#111" stroke-width="1.5" />
<path d="M109.2,481.1 L116.4,484 L109.2,486.9Z" fill="#111"/>
<text transform="translate(224.70,320.60)" font-size="9.9" text-anchor="middle" fill="#1a1a1a" >EPHB4</text>
<text transform="translate(294.70,320.60)" font-size="9.3" text-anchor="middle" fill="#1a1a1a" >DAPI</text>
<text transform="translate(364.90,320.60)" font-size="9.3" text-anchor="middle" fill="#1a1a1a" >merge</text>
<text transform="translate(188.50,363.90)" font-size="9.3" text-anchor="end" fill="#1a1a1a" >4°C</text>
<text transform="translate(188.50,435.90)" font-size="9.3" text-anchor="end" fill="#1a1a1a" >37°C</text>
<defs><filter id="fb3" x="-30%" y="-30%" width="160%" height="160%"><feGaussianBlur stdDeviation="2.0"/></filter><filter id="fb2" x="-30%" y="-30%" width="160%" height="160%"><feGaussianBlur stdDeviation="1.6"/></filter><filter id="fb4" x="-30%" y="-30%" width="160%" height="160%"><feGaussianBlur stdDeviation="3.2"/></filter><filter id="fb1" x="-30%" y="-30%" width="160%" height="160%"><feGaussianBlur stdDeviation="1.35"/></filter></defs>
<clipPath id="dc00"><rect x="191.6" y="326.0" width="66.2" height="66.2"/></clipPath>
<g clip-path="url(#dc00)"><rect x="191.6" y="326.0" width="66.2" height="66.2" fill="#000"/>
<g filter="url(#fb3)"><ellipse cx="203.6" cy="354.0" rx="9" ry="8" fill="#500000" fill-opacity="0.90"/><ellipse cx="220.6" cy="344.0" rx="9" ry="8" fill="#500000" fill-opacity="0.90"/><ellipse cx="224.6" cy="359.0" rx="8" ry="7" fill="#500000" fill-opacity="0.90"/><ellipse cx="241.6" cy="350.0" rx="7" ry="7" fill="#500000" fill-opacity="0.80"/><ellipse cx="248.6" cy="362.0" rx="6" ry="6" fill="#500000" fill-opacity="0.80"/><ellipse cx="211.6" cy="366.0" rx="7" ry="5" fill="#400000" fill-opacity="0.80"/><ellipse cx="251.6" cy="382.0" rx="6" ry="7" fill="#500000" fill-opacity="0.80"/><ellipse cx="208.6" cy="339.0" rx="7" ry="5" fill="#400000" fill-opacity="0.80"/><ellipse cx="234.6" cy="340.0" rx="6" ry="5" fill="#400000" fill-opacity="0.70"/></g><g filter="url(#fb1)"><ellipse cx="203.6" cy="354.0" rx="7.5" ry="7" fill="none" stroke="#e81414" stroke-width="1.8" stroke-opacity="0.48"/><ellipse cx="220.6" cy="344.0" rx="7.5" ry="7.5" fill="none" stroke="#e81414" stroke-width="1.8" stroke-opacity="0.48"/><ellipse cx="225.6" cy="359.0" rx="7" ry="6" fill="none" stroke="#e81414" stroke-width="1.8" stroke-opacity="0.42"/><ellipse cx="240.6" cy="349.0" rx="6" ry="7" fill="none" stroke="#e81414" stroke-width="1.8" stroke-opacity="0.45"/><ellipse cx="248.6" cy="362.0" rx="5.5" ry="5" fill="none" stroke="#e81414" stroke-width="1.8" stroke-opacity="0.48"/><ellipse cx="211.6" cy="367.0" rx="6" ry="4.5" fill="none" stroke="#e81414" stroke-width="1.8" stroke-opacity="0.33"/><ellipse cx="251.6" cy="382.0" rx="5" ry="6" fill="none" stroke="#e81414" stroke-width="1.8" stroke-opacity="0.30"/><ellipse cx="208.6" cy="339.0" rx="6" ry="4.5" fill="none" stroke="#e81414" stroke-width="1.8" stroke-opacity="0.24"/><ellipse cx="233.6" cy="340.0" rx="5" ry="4" fill="none" stroke="#e81414" stroke-width="1.8" stroke-opacity="0.27"/><line x1="245.7" y1="361.0" x2="240.8" y2="361.8" stroke="#c81010" stroke-width="1.6" stroke-opacity="0.68"/><line x1="198.9" y1="341.3" x2="198.6" y2="345.4" stroke="#c81010" stroke-width="1.6" stroke-opacity="0.59"/><line x1="233.2" y1="354.0" x2="228.6" y2="356.4" stroke="#c81010" stroke-width="1.6" stroke-opacity="0.42"/><line x1="217.2" y1="367.5" x2="213.6" y2="368.7" stroke="#c81010" stroke-width="1.6" stroke-opacity="0.64"/><line x1="253.6" y1="354.0" x2="252.8" y2="357.7" stroke="#c81010" stroke-width="1.6" stroke-opacity="0.51"/><line x1="224.8" y1="357.4" x2="231.6" y2="358.0" stroke="#c81010" stroke-width="1.6" stroke-opacity="0.51"/><line x1="218.4" y1="365.6" x2="217.5" y2="370.5" stroke="#c81010" stroke-width="1.6" stroke-opacity="0.58"/><line x1="197.7" y1="354.6" x2="199.5" y2="361.2" stroke="#c81010" stroke-width="1.6" stroke-opacity="0.67"/><line x1="210.3" y1="351.9" x2="214.7" y2="353.7" stroke="#c81010" stroke-width="1.6" stroke-opacity="0.63"/><line x1="249.4" y1="352.0" x2="251.5" y2="355.2" stroke="#c81010" stroke-width="1.6" stroke-opacity="0.55"/><line x1="205.6" y1="341.5" x2="203.3" y2="345.1" stroke="#c81010" stroke-width="1.6" stroke-opacity="0.44"/><line x1="232.0" y1="336.4" x2="229.7" y2="339.0" stroke="#c81010" stroke-width="1.6" stroke-opacity="0.50"/><line x1="209.1" y1="340.3" x2="208.7" y2="345.0" stroke="#c81010" stroke-width="1.6" stroke-opacity="0.45"/><line x1="219.2" y1="354.2" x2="222.6" y2="356.1" stroke="#c81010" stroke-width="1.6" stroke-opacity="0.55"/><line x1="233.2" y1="354.2" x2="228.3" y2="356.7" stroke="#c81010" stroke-width="1.6" stroke-opacity="0.64"/><line x1="208.0" y1="363.1" x2="202.6" y2="366.8" stroke="#c81010" stroke-width="1.6" stroke-opacity="0.43"/><line x1="213.1" y1="370.8" x2="218.5" y2="375.2" stroke="#c81010" stroke-width="1.6" stroke-opacity="0.66"/><line x1="201.9" y1="342.1" x2="199.3" y2="345.1" stroke="#c81010" stroke-width="1.6" stroke-opacity="0.34"/><line x1="245.2" y1="349.7" x2="242.4" y2="351.9" stroke="#c81010" stroke-width="1.6" stroke-opacity="0.46"/><line x1="206.1" y1="360.7" x2="199.4" y2="362.5" stroke="#c81010" stroke-width="1.6" stroke-opacity="0.35"/><line x1="225.0" y1="363.8" x2="224.9" y2="369.6" stroke="#c81010" stroke-width="1.6" stroke-opacity="0.38"/><line x1="195.9" y1="355.2" x2="195.7" y2="360.4" stroke="#c81010" stroke-width="1.6" stroke-opacity="0.36"/><line x1="205.0" y1="340.6" x2="198.9" y2="343.9" stroke="#c81010" stroke-width="1.6" stroke-opacity="0.67"/><line x1="252.6" y1="351.4" x2="249.4" y2="354.3" stroke="#c81010" stroke-width="1.6" stroke-opacity="0.49"/><line x1="225.5" y1="350.1" x2="224.6" y2="353.0" stroke="#c81010" stroke-width="1.6" stroke-opacity="0.58"/><line x1="245.9" y1="339.6" x2="246.8" y2="345.5" stroke="#c81010" stroke-width="1.6" stroke-opacity="0.46"/><line x1="205.7" y1="338.9" x2="205.6" y2="342.0" stroke="#c81010" stroke-width="1.6" stroke-opacity="0.66"/><line x1="243.3" y1="361.6" x2="238.3" y2="363.9" stroke="#c81010" stroke-width="1.6" stroke-opacity="0.46"/><line x1="230.8" y1="353.2" x2="224.6" y2="353.5" stroke="#c81010" stroke-width="1.6" stroke-opacity="0.40"/><line x1="250.1" y1="363.3" x2="245.3" y2="367.3" stroke="#c81010" stroke-width="1.6" stroke-opacity="0.46"/><line x1="236.7" y1="364.2" x2="233.3" y2="367.3" stroke="#c81010" stroke-width="1.6" stroke-opacity="0.59"/><line x1="198.0" y1="346.4" x2="198.3" y2="349.4" stroke="#c81010" stroke-width="1.6" stroke-opacity="0.44"/><line x1="233.2" y1="358.2" x2="238.3" y2="362.7" stroke="#c81010" stroke-width="1.6" stroke-opacity="0.57"/><line x1="214.5" y1="359.7" x2="213.4" y2="364.7" stroke="#c81010" stroke-width="1.6" stroke-opacity="0.46"/><line x1="237.1" y1="364.0" x2="234.0" y2="364.2" stroke="#c81010" stroke-width="1.6" stroke-opacity="0.55"/><line x1="239.4" y1="342.8" x2="240.4" y2="345.8" stroke="#c81010" stroke-width="1.6" stroke-opacity="0.38"/><line x1="216.9" y1="336.1" x2="221.6" y2="340.8" stroke="#c81010" stroke-width="1.6" stroke-opacity="0.52"/><line x1="225.1" y1="372.6" x2="223.6" y2="379.4" stroke="#c81010" stroke-width="1.6" stroke-opacity="0.56"/><line x1="230.6" y1="363.9" x2="237.3" y2="364.8" stroke="#c81010" stroke-width="1.6" stroke-opacity="0.36"/><line x1="222.8" y1="339.1" x2="222.9" y2="344.5" stroke="#c81010" stroke-width="1.6" stroke-opacity="0.32"/><line x1="252.2" y1="349.7" x2="251.8" y2="355.0" stroke="#c81010" stroke-width="1.6" stroke-opacity="0.45"/><line x1="211.3" y1="359.5" x2="210.5" y2="363.6" stroke="#c81010" stroke-width="1.6" stroke-opacity="0.59"/><line x1="203.3" y1="363.7" x2="205.5" y2="369.9" stroke="#c81010" stroke-width="1.6" stroke-opacity="0.60"/><line x1="249.7" y1="350.0" x2="250.2" y2="356.9" stroke="#c81010" stroke-width="1.6" stroke-opacity="0.40"/><line x1="226.0" y1="371.4" x2="222.9" y2="375.1" stroke="#c81010" stroke-width="1.6" stroke-opacity="0.69"/><line x1="244.2" y1="357.4" x2="249.4" y2="359.3" stroke="#c81010" stroke-width="1.6" stroke-opacity="0.48"/><line x1="226.3" y1="337.2" x2="227.4" y2="342.8" stroke="#c81010" stroke-width="1.6" stroke-opacity="0.48"/><line x1="209.9" y1="356.5" x2="211.4" y2="362.4" stroke="#c81010" stroke-width="1.6" stroke-opacity="0.51"/><line x1="239.1" y1="342.0" x2="245.3" y2="344.3" stroke="#c81010" stroke-width="1.6" stroke-opacity="0.61"/><line x1="232.3" y1="347.1" x2="236.1" y2="351.4" stroke="#c81010" stroke-width="1.6" stroke-opacity="0.53"/><line x1="230.3" y1="358.6" x2="227.6" y2="361.2" stroke="#c81010" stroke-width="1.6" stroke-opacity="0.40"/><line x1="197.4" y1="343.4" x2="198.6" y2="348.7" stroke="#c81010" stroke-width="1.6" stroke-opacity="0.34"/><line x1="227.2" y1="335.0" x2="232.7" y2="336.6" stroke="#c81010" stroke-width="1.6" stroke-opacity="0.52"/><line x1="232.7" y1="347.7" x2="233.0" y2="351.5" stroke="#c81010" stroke-width="1.6" stroke-opacity="0.44"/><line x1="239.8" y1="367.2" x2="243.2" y2="368.0" stroke="#c81010" stroke-width="1.6" stroke-opacity="0.62"/><line x1="232.3" y1="364.3" x2="236.0" y2="367.2" stroke="#c81010" stroke-width="1.6" stroke-opacity="0.40"/><line x1="243.8" y1="347.5" x2="240.6" y2="353.7" stroke="#c81010" stroke-width="1.6" stroke-opacity="0.43"/><line x1="227.6" y1="363.3" x2="223.0" y2="364.5" stroke="#c81010" stroke-width="1.6" stroke-opacity="0.45"/><line x1="228.6" y1="352.4" x2="226.3" y2="355.9" stroke="#c81010" stroke-width="1.6" stroke-opacity="0.61"/><line x1="234.7" y1="335.4" x2="238.1" y2="340.2" stroke="#c81010" stroke-width="1.6" stroke-opacity="0.58"/><line x1="211.1" y1="338.0" x2="213.7" y2="343.3" stroke="#c81010" stroke-width="1.6" stroke-opacity="0.45"/><line x1="200.9" y1="361.8" x2="199.4" y2="368.3" stroke="#c81010" stroke-width="1.6" stroke-opacity="0.68"/><line x1="250.2" y1="350.4" x2="246.8" y2="352.8" stroke="#c81010" stroke-width="1.6" stroke-opacity="0.43"/><line x1="218.4" y1="371.3" x2="214.6" y2="372.6" stroke="#c81010" stroke-width="1.6" stroke-opacity="0.44"/><line x1="216.3" y1="347.3" x2="217.7" y2="351.6" stroke="#c81010" stroke-width="1.6" stroke-opacity="0.38"/><line x1="228.6" y1="365.5" x2="227.7" y2="371.8" stroke="#c81010" stroke-width="1.6" stroke-opacity="0.53"/><line x1="204.5" y1="363.9" x2="200.7" y2="365.4" stroke="#c81010" stroke-width="1.6" stroke-opacity="0.31"/><line x1="225.6" y1="354.9" x2="224.1" y2="361.6" stroke="#c81010" stroke-width="1.6" stroke-opacity="0.56"/><line x1="227.5" y1="365.1" x2="230.7" y2="366.0" stroke="#c81010" stroke-width="1.6" stroke-opacity="0.59"/><line x1="253.2" y1="376.3" x2="250.5" y2="379.1" stroke="#c81010" stroke-width="1.6" stroke-opacity="0.35"/><line x1="248.2" y1="386.2" x2="248.0" y2="390.5" stroke="#c81010" stroke-width="1.6" stroke-opacity="0.38"/><line x1="249.7" y1="389.5" x2="247.9" y2="392.5" stroke="#c81010" stroke-width="1.6" stroke-opacity="0.41"/><line x1="254.3" y1="385.3" x2="251.1" y2="386.2" stroke="#c81010" stroke-width="1.6" stroke-opacity="0.47"/><line x1="253.6" y1="387.7" x2="249.9" y2="390.2" stroke="#c81010" stroke-width="1.6" stroke-opacity="0.48"/><line x1="257.1" y1="384.2" x2="256.8" y2="388.4" stroke="#c81010" stroke-width="1.6" stroke-opacity="0.46"/><line x1="250.7" y1="380.7" x2="254.4" y2="382.6" stroke="#c81010" stroke-width="1.6" stroke-opacity="0.50"/><line x1="250.1" y1="376.7" x2="252.7" y2="378.6" stroke="#c81010" stroke-width="1.6" stroke-opacity="0.36"/></g><g filter="url(#fb2)"><ellipse cx="221.6" cy="340.0" rx="3.5" ry="5" fill="#ff2020" fill-opacity="0.80"/><ellipse cx="197.6" cy="353.0" rx="3" ry="6" fill="#ff2020" fill-opacity="0.80"/><ellipse cx="213.6" cy="355.0" rx="3" ry="3" fill="#ff2020" fill-opacity="0.80"/><ellipse cx="239.6" cy="348.0" rx="2" ry="5" fill="#ff3030" fill-opacity="0.80"/><ellipse cx="249.6" cy="365.0" rx="4" ry="3" fill="#ff2020" fill-opacity="0.80"/><ellipse cx="222.6" cy="365.0" rx="5" ry="2.2" fill="#ff2020" fill-opacity="0.80"/><ellipse cx="227.6" cy="349.0" rx="3" ry="3" fill="#e01010" fill-opacity="0.60"/><ellipse cx="200.6" cy="347.0" rx="3" ry="2" fill="#ff2020" fill-opacity="0.60"/><ellipse cx="203.6" cy="355.0" rx="3" ry="3" fill="#000" fill-opacity="0.50"/><ellipse cx="220.6" cy="345.0" rx="3" ry="3" fill="#000" fill-opacity="0.40"/><ellipse cx="225.6" cy="358.0" rx="3" ry="2.5" fill="#000" fill-opacity="0.40"/></g>
</g>
<clipPath id="dc01"><rect x="261.6" y="326.0" width="66.2" height="66.2"/></clipPath>
<g clip-path="url(#dc01)"><rect x="261.6" y="326.0" width="66.2" height="66.2" fill="#000"/>
<g filter="url(#fb3)"><ellipse cx="277.6" cy="344.0" rx="7.5" ry="7" fill="#2020f0" fill-opacity="0.60"/><ellipse cx="295.0" cy="342.5" rx="8.5" ry="7.5" fill="#2020f0" fill-opacity="0.72"/><ellipse cx="312.6" cy="349.0" rx="6.5" ry="6.5" fill="#2020f0" fill-opacity="0.60"/><ellipse cx="272.1" cy="355.0" rx="7" ry="6.5" fill="#2020f0" fill-opacity="0.56"/><ellipse cx="293.6" cy="357.0" rx="9.5" ry="7" fill="#2020f0" fill-opacity="0.72"/><ellipse cx="312.6" cy="360.0" rx="6.5" ry="6" fill="#2020f0" fill-opacity="0.68"/><ellipse cx="278.6" cy="363.0" rx="8.5" ry="7.5" fill="#2020f0" fill-opacity="0.72"/><ellipse cx="288.6" cy="373.0" rx="5.5" ry="5" fill="#2020f0" fill-opacity="0.60"/><ellipse cx="323.6" cy="382.0" rx="5" ry="6.5" fill="#2020f0" fill-opacity="0.48"/><ellipse cx="313.6" cy="388.0" rx="5" ry="4" fill="#2020f0" fill-opacity="0.44"/><ellipse cx="303.6" cy="351.0" rx="5" ry="5" fill="#2020f0" fill-opacity="0.40"/><ellipse cx="285.6" cy="352.0" rx="4" ry="4" fill="#2020f0" fill-opacity="0.32"/><ellipse cx="284.6" cy="352.0" rx="3" ry="3" fill="#000" fill-opacity="0.60"/><ellipse cx="300.6" cy="351.0" rx="3" ry="3" fill="#000" fill-opacity="0.50"/></g>
</g>
<clipPath id="dc02"><rect x="331.8" y="326.0" width="66.2" height="66.2"/></clipPath>
<g clip-path="url(#dc02)"><rect x="331.8" y="326.0" width="66.2" height="66.2" fill="#000"/>
<g filter="url(#fb3)"><ellipse cx="347.8" cy="344.0" rx="7.5" ry="7" fill="#2020f0" fill-opacity="0.57"/><ellipse cx="365.2" cy="342.5" rx="8.5" ry="7.5" fill="#2020f0" fill-opacity="0.68"/><ellipse cx="382.8" cy="349.0" rx="6.5" ry="6.5" fill="#2020f0" fill-opacity="0.57"/><ellipse cx="342.3" cy="355.0" rx="7" ry="6.5" fill="#2020f0" fill-opacity="0.53"/><ellipse cx="363.8" cy="357.0" rx="9.5" ry="7" fill="#2020f0" fill-opacity="0.68"/><ellipse cx="382.8" cy="360.0" rx="6.5" ry="6" fill="#2020f0" fill-opacity="0.65"/><ellipse cx="348.8" cy="363.0" rx="8.5" ry="7.5" fill="#2020f0" fill-opacity="0.68"/><ellipse cx="358.8" cy="373.0" rx="5.5" ry="5" fill="#2020f0" fill-opacity="0.57"/><ellipse cx="393.8" cy="382.0" rx="5" ry="6.5" fill="#2020f0" fill-opacity="0.46"/><ellipse cx="383.8" cy="388.0" rx="5" ry="4" fill="#2020f0" fill-opacity="0.42"/><ellipse cx="373.8" cy="351.0" rx="5" ry="5" fill="#2020f0" fill-opacity="0.38"/><ellipse cx="355.8" cy="352.0" rx="4" ry="4" fill="#2020f0" fill-opacity="0.30"/><ellipse cx="354.8" cy="352.0" rx="3" ry="3" fill="#000" fill-opacity="0.60"/><ellipse cx="370.8" cy="351.0" rx="3" ry="3" fill="#000" fill-opacity="0.50"/></g>
<g style="mix-blend-mode:screen"><g filter="url(#fb3)"><ellipse cx="343.8" cy="354.0" rx="9" ry="8" fill="#500000" fill-opacity="0.85"/><ellipse cx="360.8" cy="344.0" rx="9" ry="8" fill="#500000" fill-opacity="0.85"/><ellipse cx="364.8" cy="359.0" rx="8" ry="7" fill="#500000" fill-opacity="0.85"/><ellipse cx="381.8" cy="350.0" rx="7" ry="7" fill="#500000" fill-opacity="0.76"/><ellipse cx="388.8" cy="362.0" rx="6" ry="6" fill="#500000" fill-opacity="0.76"/><ellipse cx="351.8" cy="366.0" rx="7" ry="5" fill="#400000" fill-opacity="0.76"/><ellipse cx="391.8" cy="382.0" rx="6" ry="7" fill="#500000" fill-opacity="0.76"/><ellipse cx="348.8" cy="339.0" rx="7" ry="5" fill="#400000" fill-opacity="0.76"/><ellipse cx="374.8" cy="340.0" rx="6" ry="5" fill="#400000" fill-opacity="0.66"/></g><g filter="url(#fb1)"><ellipse cx="343.8" cy="354.0" rx="7.5" ry="7" fill="none" stroke="#e81414" stroke-width="1.8" stroke-opacity="0.46"/><ellipse cx="360.8" cy="344.0" rx="7.5" ry="7.5" fill="none" stroke="#e81414" stroke-width="1.8" stroke-opacity="0.46"/><ellipse cx="365.8" cy="359.0" rx="7" ry="6" fill="none" stroke="#e81414" stroke-width="1.8" stroke-opacity="0.40"/><ellipse cx="380.8" cy="349.0" rx="6" ry="7" fill="none" stroke="#e81414" stroke-width="1.8" stroke-opacity="0.43"/><ellipse cx="388.8" cy="362.0" rx="5.5" ry="5" fill="none" stroke="#e81414" stroke-width="1.8" stroke-opacity="0.46"/><ellipse cx="351.8" cy="367.0" rx="6" ry="4.5" fill="none" stroke="#e81414" stroke-width="1.8" stroke-opacity="0.31"/><ellipse cx="391.8" cy="382.0" rx="5" ry="6" fill="none" stroke="#e81414" stroke-width="1.8" stroke-opacity="0.28"/><ellipse cx="348.8" cy="339.0" rx="6" ry="4.5" fill="none" stroke="#e81414" stroke-width="1.8" stroke-opacity="0.23"/><ellipse cx="373.8" cy="340.0" rx="5" ry="4" fill="none" stroke="#e81414" stroke-width="1.8" stroke-opacity="0.26"/><line x1="385.9" y1="361.0" x2="381.0" y2="361.8" stroke="#c81010" stroke-width="1.6" stroke-opacity="0.65"/><line x1="339.1" y1="341.3" x2="338.8" y2="345.4" stroke="#c81010" stroke-width="1.6" stroke-opacity="0.56"/><line x1="373.4" y1="354.0" x2="368.8" y2="356.4" stroke="#c81010" stroke-width="1.6" stroke-opacity="0.40"/><line x1="357.4" y1="367.5" x2="353.8" y2="368.7" stroke="#c81010" stroke-width="1.6" stroke-opacity="0.61"/><line x1="393.8" y1="354.0" x2="393.0" y2="357.7" stroke="#c81010" stroke-width="1.6" stroke-opacity="0.49"/><line x1="365.0" y1="357.4" x2="371.8" y2="358.0" stroke="#c81010" stroke-width="1.6" stroke-opacity="0.48"/><line x1="358.6" y1="365.6" x2="357.7" y2="370.5" stroke="#c81010" stroke-width="1.6" stroke-opacity="0.55"/><line x1="337.9" y1="354.6" x2="339.7" y2="361.2" stroke="#c81010" stroke-width="1.6" stroke-opacity="0.64"/><line x1="350.5" y1="351.9" x2="354.9" y2="353.7" stroke="#c81010" stroke-width="1.6" stroke-opacity="0.59"/><line x1="389.6" y1="352.0" x2="391.7" y2="355.2" stroke="#c81010" stroke-width="1.6" stroke-opacity="0.52"/><line x1="345.8" y1="341.5" x2="343.5" y2="345.1" stroke="#c81010" stroke-width="1.6" stroke-opacity="0.42"/><line x1="372.2" y1="336.4" x2="369.9" y2="339.0" stroke="#c81010" stroke-width="1.6" stroke-opacity="0.48"/><line x1="349.3" y1="340.3" x2="348.9" y2="345.0" stroke="#c81010" stroke-width="1.6" stroke-opacity="0.43"/><line x1="359.4" y1="354.2" x2="362.8" y2="356.1" stroke="#c81010" stroke-width="1.6" stroke-opacity="0.52"/><line x1="373.4" y1="354.2" x2="368.5" y2="356.7" stroke="#c81010" stroke-width="1.6" stroke-opacity="0.61"/><line x1="348.2" y1="363.1" x2="342.8" y2="366.8" stroke="#c81010" stroke-width="1.6" stroke-opacity="0.41"/><line x1="353.3" y1="370.8" x2="358.7" y2="375.2" stroke="#c81010" stroke-width="1.6" stroke-opacity="0.62"/><line x1="342.1" y1="342.1" x2="339.5" y2="345.1" stroke="#c81010" stroke-width="1.6" stroke-opacity="0.32"/><line x1="385.4" y1="349.7" x2="382.6" y2="351.9" stroke="#c81010" stroke-width="1.6" stroke-opacity="0.44"/><line x1="346.3" y1="360.7" x2="339.6" y2="362.5" stroke="#c81010" stroke-width="1.6" stroke-opacity="0.33"/><line x1="365.2" y1="363.8" x2="365.1" y2="369.6" stroke="#c81010" stroke-width="1.6" stroke-opacity="0.36"/><line x1="336.1" y1="355.2" x2="335.9" y2="360.4" stroke="#c81010" stroke-width="1.6" stroke-opacity="0.34"/><line x1="345.2" y1="340.6" x2="339.1" y2="343.9" stroke="#c81010" stroke-width="1.6" stroke-opacity="0.64"/><line x1="392.8" y1="351.4" x2="389.6" y2="354.3" stroke="#c81010" stroke-width="1.6" stroke-opacity="0.46"/><line x1="365.7" y1="350.1" x2="364.8" y2="353.0" stroke="#c81010" stroke-width="1.6" stroke-opacity="0.55"/><line x1="386.1" y1="339.6" x2="387.0" y2="345.5" stroke="#c81010" stroke-width="1.6" stroke-opacity="0.44"/><line x1="345.9" y1="338.9" x2="345.8" y2="342.0" stroke="#c81010" stroke-width="1.6" stroke-opacity="0.62"/><line x1="383.5" y1="361.6" x2="378.5" y2="363.9" stroke="#c81010" stroke-width="1.6" stroke-opacity="0.44"/><line x1="371.0" y1="353.2" x2="364.8" y2="353.5" stroke="#c81010" stroke-width="1.6" stroke-opacity="0.38"/><line x1="390.3" y1="363.3" x2="385.5" y2="367.3" stroke="#c81010" stroke-width="1.6" stroke-opacity="0.44"/><line x1="376.9" y1="364.2" x2="373.5" y2="367.3" stroke="#c81010" stroke-width="1.6" stroke-opacity="0.56"/><line x1="338.2" y1="346.4" x2="338.5" y2="349.4" stroke="#c81010" stroke-width="1.6" stroke-opacity="0.42"/><line x1="373.4" y1="358.2" x2="378.5" y2="362.7" stroke="#c81010" stroke-width="1.6" stroke-opacity="0.54"/><line x1="354.7" y1="359.7" x2="353.6" y2="364.7" stroke="#c81010" stroke-width="1.6" stroke-opacity="0.43"/><line x1="377.3" y1="364.0" x2="374.2" y2="364.2" stroke="#c81010" stroke-width="1.6" stroke-opacity="0.52"/><line x1="379.6" y1="342.8" x2="380.6" y2="345.8" stroke="#c81010" stroke-width="1.6" stroke-opacity="0.36"/><line x1="357.1" y1="336.1" x2="361.8" y2="340.8" stroke="#c81010" stroke-width="1.6" stroke-opacity="0.49"/><line x1="365.3" y1="372.6" x2="363.8" y2="379.4" stroke="#c81010" stroke-width="1.6" stroke-opacity="0.53"/><line x1="370.8" y1="363.9" x2="377.5" y2="364.8" stroke="#c81010" stroke-width="1.6" stroke-opacity="0.35"/><line x1="363.0" y1="339.1" x2="363.1" y2="344.5" stroke="#c81010" stroke-width="1.6" stroke-opacity="0.31"/><line x1="392.4" y1="349.7" x2="392.0" y2="355.0" stroke="#c81010" stroke-width="1.6" stroke-opacity="0.42"/><line x1="351.5" y1="359.5" x2="350.7" y2="363.6" stroke="#c81010" stroke-width="1.6" stroke-opacity="0.56"/><line x1="343.5" y1="363.7" x2="345.7" y2="369.9" stroke="#c81010" stroke-width="1.6" stroke-opacity="0.57"/><line x1="389.9" y1="350.0" x2="390.4" y2="356.9" stroke="#c81010" stroke-width="1.6" stroke-opacity="0.38"/><line x1="366.2" y1="371.4" x2="363.1" y2="375.1" stroke="#c81010" stroke-width="1.6" stroke-opacity="0.66"/><line x1="384.4" y1="357.4" x2="389.6" y2="359.3" stroke="#c81010" stroke-width="1.6" stroke-opacity="0.46"/><line x1="366.5" y1="337.2" x2="367.6" y2="342.8" stroke="#c81010" stroke-width="1.6" stroke-opacity="0.46"/><line x1="350.1" y1="356.5" x2="351.6" y2="362.4" stroke="#c81010" stroke-width="1.6" stroke-opacity="0.49"/><line x1="379.3" y1="342.0" x2="385.5" y2="344.3" stroke="#c81010" stroke-width="1.6" stroke-opacity="0.58"/><line x1="372.5" y1="347.1" x2="376.3" y2="351.4" stroke="#c81010" stroke-width="1.6" stroke-opacity="0.50"/><line x1="370.5" y1="358.6" x2="367.8" y2="361.2" stroke="#c81010" stroke-width="1.6" stroke-opacity="0.38"/><line x1="337.6" y1="343.4" x2="338.8" y2="348.7" stroke="#c81010" stroke-width="1.6" stroke-opacity="0.32"/><line x1="367.4" y1="335.0" x2="372.9" y2="336.6" stroke="#c81010" stroke-width="1.6" stroke-opacity="0.49"/><line x1="372.9" y1="347.7" x2="373.2" y2="351.5" stroke="#c81010" stroke-width="1.6" stroke-opacity="0.42"/><line x1="380.0" y1="367.2" x2="383.4" y2="368.0" stroke="#c81010" stroke-width="1.6" stroke-opacity="0.59"/><line x1="372.5" y1="364.3" x2="376.2" y2="367.2" stroke="#c81010" stroke-width="1.6" stroke-opacity="0.38"/><line x1="384.0" y1="347.5" x2="380.8" y2="353.7" stroke="#c81010" stroke-width="1.6" stroke-opacity="0.41"/><line x1="367.8" y1="363.3" x2="363.2" y2="364.5" stroke="#c81010" stroke-width="1.6" stroke-opacity="0.43"/><line x1="368.8" y1="352.4" x2="366.5" y2="355.9" stroke="#c81010" stroke-width="1.6" stroke-opacity="0.58"/><line x1="374.9" y1="335.4" x2="378.3" y2="340.2" stroke="#c81010" stroke-width="1.6" stroke-opacity="0.55"/><line x1="351.3" y1="338.0" x2="353.9" y2="343.3" stroke="#c81010" stroke-width="1.6" stroke-opacity="0.42"/><line x1="341.1" y1="361.8" x2="339.6" y2="368.3" stroke="#c81010" stroke-width="1.6" stroke-opacity="0.64"/><line x1="390.4" y1="350.4" x2="387.0" y2="352.8" stroke="#c81010" stroke-width="1.6" stroke-opacity="0.41"/><line x1="358.6" y1="371.3" x2="354.8" y2="372.6" stroke="#c81010" stroke-width="1.6" stroke-opacity="0.42"/><line x1="356.5" y1="347.3" x2="357.9" y2="351.6" stroke="#c81010" stroke-width="1.6" stroke-opacity="0.36"/><line x1="368.8" y1="365.5" x2="367.9" y2="371.8" stroke="#c81010" stroke-width="1.6" stroke-opacity="0.50"/><line x1="344.7" y1="363.9" x2="340.9" y2="365.4" stroke="#c81010" stroke-width="1.6" stroke-opacity="0.29"/><line x1="365.8" y1="354.9" x2="364.3" y2="361.6" stroke="#c81010" stroke-width="1.6" stroke-opacity="0.53"/><line x1="367.7" y1="365.1" x2="370.9" y2="366.0" stroke="#c81010" stroke-width="1.6" stroke-opacity="0.57"/><line x1="393.4" y1="376.3" x2="390.7" y2="379.1" stroke="#c81010" stroke-width="1.6" stroke-opacity="0.33"/><line x1="388.4" y1="386.2" x2="388.2" y2="390.5" stroke="#c81010" stroke-width="1.6" stroke-opacity="0.36"/><line x1="389.9" y1="389.5" x2="388.1" y2="392.5" stroke="#c81010" stroke-width="1.6" stroke-opacity="0.39"/><line x1="394.5" y1="385.3" x2="391.3" y2="386.2" stroke="#c81010" stroke-width="1.6" stroke-opacity="0.44"/><line x1="393.8" y1="387.7" x2="390.1" y2="390.2" stroke="#c81010" stroke-width="1.6" stroke-opacity="0.45"/><line x1="397.3" y1="384.2" x2="397.0" y2="388.4" stroke="#c81010" stroke-width="1.6" stroke-opacity="0.44"/><line x1="390.9" y1="380.7" x2="394.6" y2="382.6" stroke="#c81010" stroke-width="1.6" stroke-opacity="0.47"/><line x1="390.3" y1="376.7" x2="392.9" y2="378.6" stroke="#c81010" stroke-width="1.6" stroke-opacity="0.34"/></g><g filter="url(#fb2)"><ellipse cx="361.8" cy="340.0" rx="3.5" ry="5" fill="#ff2020" fill-opacity="0.76"/><ellipse cx="337.8" cy="353.0" rx="3" ry="6" fill="#ff2020" fill-opacity="0.76"/><ellipse cx="353.8" cy="355.0" rx="3" ry="3" fill="#ff2020" fill-opacity="0.76"/><ellipse cx="379.8" cy="348.0" rx="2" ry="5" fill="#ff3030" fill-opacity="0.76"/><ellipse cx="389.8" cy="365.0" rx="4" ry="3" fill="#ff2020" fill-opacity="0.76"/><ellipse cx="362.8" cy="365.0" rx="5" ry="2.2" fill="#ff2020" fill-opacity="0.76"/><ellipse cx="367.8" cy="349.0" rx="3" ry="3" fill="#e01010" fill-opacity="0.57"/><ellipse cx="340.8" cy="347.0" rx="3" ry="2" fill="#ff2020" fill-opacity="0.57"/><ellipse cx="343.8" cy="355.0" rx="3" ry="3" fill="#000" fill-opacity="0.50"/><ellipse cx="360.8" cy="345.0" rx="3" ry="3" fill="#000" fill-opacity="0.40"/><ellipse cx="365.8" cy="358.0" rx="3" ry="2.5" fill="#000" fill-opacity="0.40"/></g></g>
</g>
<clipPath id="dc10"><rect x="191.6" y="395.8" width="66.2" height="66.2"/></clipPath>
<g clip-path="url(#dc10)"><rect x="191.6" y="395.8" width="66.2" height="66.2" fill="#000"/>
<g filter="url(#fb3)"><ellipse cx="205.6" cy="410.8" rx="8" ry="8" fill="#400000" fill-opacity="0.70"/><ellipse cx="217.6" cy="421.8" rx="10" ry="9" fill="#400000" fill-opacity="0.70"/><ellipse cx="241.6" cy="408.8" rx="7" ry="7" fill="#400000" fill-opacity="0.70"/><ellipse cx="237.6" cy="428.8" rx="9" ry="10" fill="#400000" fill-opacity="0.70"/><ellipse cx="234.6" cy="447.8" rx="9" ry="8" fill="#400000" fill-opacity="0.70"/><ellipse cx="249.6" cy="443.8" rx="7" ry="8" fill="#400000" fill-opacity="0.70"/><ellipse cx="197.6" cy="457.8" rx="5" ry="4" fill="#300000" fill-opacity="0.70"/><ellipse cx="251.6" cy="420.8" rx="5" ry="8" fill="#300000" fill-opacity="0.60"/></g><g filter="url(#fb1)"><ellipse cx="205.6" cy="410.8" rx="7" ry="7" fill="none" stroke="#e81414" stroke-width="1.8" stroke-opacity="0.27"/><ellipse cx="216.6" cy="423.8" rx="9.5" ry="9" fill="none" stroke="#e81414" stroke-width="1.8" stroke-opacity="0.27"/><ellipse cx="242.6" cy="407.8" rx="6" ry="6" fill="none" stroke="#e81414" stroke-width="1.8" stroke-opacity="0.24"/><ellipse cx="237.6" cy="428.8" rx="8" ry="9" fill="none" stroke="#e81414" stroke-width="1.8" stroke-opacity="0.24"/><ellipse cx="233.6" cy="447.8" rx="8" ry="7" fill="none" stroke="#e81414" stroke-width="1.8" stroke-opacity="0.27"/><ellipse cx="249.6" cy="443.8" rx="6" ry="7" fill="none" stroke="#e81414" stroke-width="1.8" stroke-opacity="0.24"/><ellipse cx="212.6" cy="442.8" rx="7" ry="5" fill="none" stroke="#e81414" stroke-width="1.8" stroke-opacity="0.18"/><line x1="222.7" y1="433.4" x2="217.6" y2="434.6" stroke="#c81010" stroke-width="1.6" stroke-opacity="0.53"/><line x1="230.8" y1="410.9" x2="230.6" y2="417.0" stroke="#c81010" stroke-width="1.6" stroke-opacity="0.66"/><line x1="201.2" y1="418.0" x2="208.0" y2="420.0" stroke="#c81010" stroke-width="1.6" stroke-opacity="0.61"/><line x1="253.5" y1="439.0" x2="252.1" y2="442.6" stroke="#c81010" stroke-width="1.6" stroke-opacity="0.31"/><line x1="207.0" y1="414.3" x2="212.3" y2="414.8" stroke="#c81010" stroke-width="1.6" stroke-opacity="0.50"/><line x1="246.1" y1="430.9" x2="243.8" y2="435.9" stroke="#c81010" stroke-width="1.6" stroke-opacity="0.60"/><line x1="223.0" y1="416.5" x2="215.1" y2="416.5" stroke="#c81010" stroke-width="1.6" stroke-opacity="0.68"/><line x1="238.1" y1="418.7" x2="241.4" y2="421.7" stroke="#c81010" stroke-width="1.6" stroke-opacity="0.33"/><line x1="241.6" y1="423.8" x2="237.2" y2="426.1" stroke="#c81010" stroke-width="1.6" stroke-opacity="0.73"/><line x1="246.4" y1="399.8" x2="252.4" y2="404.5" stroke="#c81010" stroke-width="1.6" stroke-opacity="0.51"/><line x1="254.4" y1="423.6" x2="260.4" y2="425.0" stroke="#c81010" stroke-width="1.6" stroke-opacity="0.65"/><line x1="211.8" y1="405.0" x2="215.7" y2="411.8" stroke="#c81010" stroke-width="1.6" stroke-opacity="0.64"/><line x1="202.7" y1="414.6" x2="205.8" y2="415.6" stroke="#c81010" stroke-width="1.6" stroke-opacity="0.66"/><line x1="222.4" y1="411.2" x2="220.0" y2="414.0" stroke="#c81010" stroke-width="1.6" stroke-opacity="0.59"/><line x1="202.6" y1="425.0" x2="206.0" y2="427.7" stroke="#c81010" stroke-width="1.6" stroke-opacity="0.74"/><line x1="243.8" y1="418.0" x2="240.0" y2="419.5" stroke="#c81010" stroke-width="1.6" stroke-opacity="0.48"/><line x1="246.9" y1="438.3" x2="254.4" y2="440.8" stroke="#c81010" stroke-width="1.6" stroke-opacity="0.40"/><line x1="211.1" y1="446.2" x2="213.4" y2="450.0" stroke="#c81010" stroke-width="1.6" stroke-opacity="0.33"/><line x1="217.9" y1="427.0" x2="212.5" y2="427.7" stroke="#c81010" stroke-width="1.6" stroke-opacity="0.56"/><line x1="247.6" y1="410.8" x2="254.3" y2="414.3" stroke="#c81010" stroke-width="1.6" stroke-opacity="0.67"/><line x1="210.6" y1="411.2" x2="205.3" y2="416.8" stroke="#c81010" stroke-width="1.6" stroke-opacity="0.39"/><line x1="252.6" y1="452.7" x2="251.0" y2="457.6" stroke="#c81010" stroke-width="1.6" stroke-opacity="0.35"/><line x1="209.9" y1="442.1" x2="214.8" y2="447.2" stroke="#c81010" stroke-width="1.6" stroke-opacity="0.57"/><line x1="213.2" y1="410.3" x2="211.1" y2="412.9" stroke="#c81010" stroke-width="1.6" stroke-opacity="0.40"/><line x1="229.2" y1="450.9" x2="227.6" y2="455.1" stroke="#c81010" stroke-width="1.6" stroke-opacity="0.71"/><line x1="207.8" y1="400.8" x2="211.3" y2="404.7" stroke="#c81010" stroke-width="1.6" stroke-opacity="0.33"/><line x1="206.2" y1="421.9" x2="205.4" y2="425.5" stroke="#c81010" stroke-width="1.6" stroke-opacity="0.46"/><line x1="249.1" y1="458.6" x2="246.0" y2="464.3" stroke="#c81010" stroke-width="1.6" stroke-opacity="0.56"/><line x1="204.0" y1="401.9" x2="211.6" y2="402.3" stroke="#c81010" stroke-width="1.6" stroke-opacity="0.62"/><line x1="253.4" y1="401.1" x2="251.1" y2="406.0" stroke="#c81010" stroke-width="1.6" stroke-opacity="0.63"/><line x1="214.7" y1="459.8" x2="220.3" y2="461.1" stroke="#c81010" stroke-width="1.6" stroke-opacity="0.63"/><line x1="249.6" y1="444.0" x2="245.5" y2="449.6" stroke="#c81010" stroke-width="1.6" stroke-opacity="0.71"/><line x1="216.7" y1="440.9" x2="209.7" y2="443.2" stroke="#c81010" stroke-width="1.6" stroke-opacity="0.49"/><line x1="243.0" y1="451.6" x2="241.6" y2="457.6" stroke="#c81010" stroke-width="1.6" stroke-opacity="0.47"/><line x1="230.6" y1="436.3" x2="236.6" y2="437.9" stroke="#c81010" stroke-width="1.6" stroke-opacity="0.75"/><line x1="248.4" y1="443.5" x2="250.7" y2="449.8" stroke="#c81010" stroke-width="1.6" stroke-opacity="0.56"/><line x1="222.0" y1="450.1" x2="228.5" y2="451.9" stroke="#c81010" stroke-width="1.6" stroke-opacity="0.31"/><line x1="231.7" y1="428.7" x2="236.5" y2="433.0" stroke="#c81010" stroke-width="1.6" stroke-opacity="0.52"/><line x1="232.5" y1="455.0" x2="234.6" y2="457.2" stroke="#c81010" stroke-width="1.6" stroke-opacity="0.44"/><line x1="236.3" y1="412.0" x2="242.8" y2="415.8" stroke="#c81010" stroke-width="1.6" stroke-opacity="0.60"/><line x1="222.1" y1="453.3" x2="225.4" y2="458.7" stroke="#c81010" stroke-width="1.6" stroke-opacity="0.39"/><line x1="221.5" y1="448.2" x2="214.3" y2="450.1" stroke="#c81010" stroke-width="1.6" stroke-opacity="0.47"/><line x1="230.6" y1="418.8" x2="235.6" y2="421.1" stroke="#c81010" stroke-width="1.6" stroke-opacity="0.68"/><line x1="246.5" y1="442.5" x2="242.2" y2="443.2" stroke="#c81010" stroke-width="1.6" stroke-opacity="0.38"/><line x1="222.6" y1="416.3" x2="226.6" y2="419.5" stroke="#c81010" stroke-width="1.6" stroke-opacity="0.58"/><line x1="225.2" y1="418.7" x2="218.3" y2="422.6" stroke="#c81010" stroke-width="1.6" stroke-opacity="0.50"/><line x1="200.1" y1="401.7" x2="197.1" y2="402.9" stroke="#c81010" stroke-width="1.6" stroke-opacity="0.62"/><line x1="229.8" y1="418.3" x2="227.4" y2="420.2" stroke="#c81010" stroke-width="1.6" stroke-opacity="0.36"/><line x1="245.4" y1="414.0" x2="248.3" y2="415.4" stroke="#c81010" stroke-width="1.6" stroke-opacity="0.58"/><line x1="222.4" y1="437.6" x2="219.1" y2="443.8" stroke="#c81010" stroke-width="1.6" stroke-opacity="0.73"/><line x1="236.7" y1="411.8" x2="237.0" y2="415.6" stroke="#c81010" stroke-width="1.6" stroke-opacity="0.30"/><line x1="223.9" y1="442.7" x2="227.6" y2="445.0" stroke="#c81010" stroke-width="1.6" stroke-opacity="0.46"/><line x1="237.4" y1="431.0" x2="235.1" y2="437.4" stroke="#c81010" stroke-width="1.6" stroke-opacity="0.48"/><line x1="243.1" y1="454.2" x2="250.5" y2="456.2" stroke="#c81010" stroke-width="1.6" stroke-opacity="0.63"/><line x1="203.4" y1="427.0" x2="200.5" y2="434.0" stroke="#c81010" stroke-width="1.6" stroke-opacity="0.47"/><line x1="229.7" y1="452.6" x2="223.5" y2="457.2" stroke="#c81010" stroke-width="1.6" stroke-opacity="0.51"/><line x1="234.7" y1="412.1" x2="230.1" y2="417.5" stroke="#c81010" stroke-width="1.6" stroke-opacity="0.59"/><line x1="238.7" y1="412.6" x2="231.1" y2="415.0" stroke="#c81010" stroke-width="1.6" stroke-opacity="0.74"/><line x1="227.8" y1="447.2" x2="231.9" y2="453.6" stroke="#c81010" stroke-width="1.6" stroke-opacity="0.69"/><line x1="216.5" y1="404.8" x2="217.6" y2="410.4" stroke="#c81010" stroke-width="1.6" stroke-opacity="0.65"/><line x1="244.1" y1="403.6" x2="241.0" y2="405.9" stroke="#c81010" stroke-width="1.6" stroke-opacity="0.45"/><line x1="242.9" y1="408.2" x2="247.9" y2="410.7" stroke="#c81010" stroke-width="1.6" stroke-opacity="0.63"/></g><g filter="url(#fb2)"><ellipse cx="204.6" cy="408.8" rx="3.5" ry="3" fill="#e01010" fill-opacity="0.60"/><ellipse cx="214.6" cy="419.8" rx="4" ry="3" fill="#e01010" fill-opacity="0.65"/><ellipse cx="211.6" cy="425.8" rx="2.5" ry="3" fill="#c01010" fill-opacity="0.55"/><ellipse cx="221.6" cy="428.8" rx="3" ry="2.5" fill="#c01010" fill-opacity="0.50"/><ellipse cx="242.6" cy="404.8" rx="4" ry="3" fill="#c01010" fill-opacity="0.50"/><ellipse cx="236.6" cy="421.8" rx="2.5" ry="5" fill="#c01010" fill-opacity="0.50"/><ellipse cx="241.6" cy="435.8" rx="3" ry="3" fill="#c01010" fill-opacity="0.50"/><ellipse cx="241.6" cy="447.8" rx="4" ry="5" fill="#e01010" fill-opacity="0.60"/><ellipse cx="231.6" cy="448.8" rx="2.5" ry="4" fill="#c01010" fill-opacity="0.50"/><ellipse cx="199.6" cy="403.8" rx="3" ry="3" fill="#a01010" fill-opacity="0.40"/><ellipse cx="216.6" cy="424.8" rx="4" ry="4" fill="#000" fill-opacity="0.50"/><ellipse cx="248.6" cy="425.8" rx="2.5" ry="2.5" fill="#000" fill-opacity="0.50"/><ellipse cx="235.6" cy="430.8" rx="3" ry="3" fill="#000" fill-opacity="0.40"/></g>
</g>
<clipPath id="dc11"><rect x="261.6" y="395.8" width="66.2" height="66.2"/></clipPath>
<g clip-path="url(#dc11)"><rect x="261.6" y="395.8" width="66.2" height="66.2" fill="#000"/>
<g filter="url(#fb3)"><ellipse cx="272.1" cy="408.8" rx="6.5" ry="6.5" fill="#2222ff" fill-opacity="0.85"/><ellipse cx="313.6" cy="406.3" rx="6.5" ry="6" fill="#2222ff" fill-opacity="0.85"/><ellipse cx="289.6" cy="416.8" rx="10" ry="9" fill="#2222ff" fill-opacity="0.90"/><ellipse cx="276.20000000000005" cy="423.8" rx="7" ry="7" fill="#2222ff" fill-opacity="0.81"/><ellipse cx="312.6" cy="419.8" rx="6.5" ry="6.5" fill="#2222ff" fill-opacity="0.90"/><ellipse cx="289.6" cy="432.8" rx="10" ry="8" fill="#2222ff" fill-opacity="0.81"/><ellipse cx="300.6" cy="424.8" rx="8" ry="8" fill="#2222ff" fill-opacity="0.81"/><ellipse cx="324.6" cy="426.8" rx="4.5" ry="6" fill="#2222ff" fill-opacity="0.71"/><ellipse cx="304.6" cy="445.3" rx="9" ry="8" fill="#2222ff" fill-opacity="0.85"/><ellipse cx="298.6" cy="453.40000000000003" rx="8" ry="7.5" fill="#2222ff" fill-opacity="0.90"/><ellipse cx="320.6" cy="441.3" rx="8" ry="8" fill="#2222ff" fill-opacity="0.85"/><ellipse cx="317.6" cy="453.40000000000003" rx="8" ry="8" fill="#2222ff" fill-opacity="0.90"/><ellipse cx="280.6" cy="427.8" rx="6" ry="6" fill="#2222ff" fill-opacity="0.66"/><ellipse cx="307.6" cy="435.8" rx="5" ry="5" fill="#2222ff" fill-opacity="0.57"/><ellipse cx="281.6" cy="411.8" rx="3" ry="3" fill="#000" fill-opacity="0.50"/><ellipse cx="269.6" cy="435.8" rx="6" ry="8" fill="#000" fill-opacity="0.90"/><ellipse cx="273.6" cy="453.8" rx="8" ry="7" fill="#000" fill-opacity="0.90"/></g>
</g>
<clipPath id="dc12"><rect x="331.8" y="395.8" width="66.2" height="66.2"/></clipPath>
<g clip-path="url(#dc12)"><rect x="331.8" y="395.8" width="66.2" height="66.2" fill="#000"/>
<g filter="url(#fb3)"><ellipse cx="342.3" cy="408.8" rx="6.5" ry="6.5" fill="#2222ff" fill-opacity="0.81"/><ellipse cx="383.8" cy="406.3" rx="6.5" ry="6" fill="#2222ff" fill-opacity="0.81"/><ellipse cx="359.8" cy="416.8" rx="10" ry="9" fill="#2222ff" fill-opacity="0.86"/><ellipse cx="346.40000000000003" cy="423.8" rx="7" ry="7" fill="#2222ff" fill-opacity="0.77"/><ellipse cx="382.8" cy="419.8" rx="6.5" ry="6.5" fill="#2222ff" fill-opacity="0.86"/><ellipse cx="359.8" cy="432.8" rx="10" ry="8" fill="#2222ff" fill-opacity="0.77"/><ellipse cx="370.8" cy="424.8" rx="8" ry="8" fill="#2222ff" fill-opacity="0.77"/><ellipse cx="394.8" cy="426.8" rx="4.5" ry="6" fill="#2222ff" fill-opacity="0.68"/><ellipse cx="374.8" cy="445.3" rx="9" ry="8" fill="#2222ff" fill-opacity="0.81"/><ellipse cx="368.8" cy="453.40000000000003" rx="8" ry="7.5" fill="#2222ff" fill-opacity="0.86"/><ellipse cx="390.8" cy="441.3" rx="8" ry="8" fill="#2222ff" fill-opacity="0.81"/><ellipse cx="387.8" cy="453.40000000000003" rx="8" ry="8" fill="#2222ff" fill-opacity="0.86"/><ellipse cx="350.8" cy="427.8" rx="6" ry="6" fill="#2222ff" fill-opacity="0.63"/><ellipse cx="377.8" cy="435.8" rx="5" ry="5" fill="#2222ff" fill-opacity="0.54"/><ellipse cx="351.8" cy="411.8" rx="3" ry="3" fill="#000" fill-opacity="0.50"/><ellipse cx="339.8" cy="435.8" rx="6" ry="8" fill="#000" fill-opacity="0.90"/><ellipse cx="343.8" cy="453.8" rx="8" ry="7" fill="#000" fill-opacity="0.90"/></g>
<g style="mix-blend-mode:screen"><g filter="url(#fb3)"><ellipse cx="345.8" cy="410.8" rx="8" ry="8" fill="#400000" fill-opacity="0.66"/><ellipse cx="357.8" cy="421.8" rx="10" ry="9" fill="#400000" fill-opacity="0.66"/><ellipse cx="381.8" cy="408.8" rx="7" ry="7" fill="#400000" fill-opacity="0.66"/><ellipse cx="377.8" cy="428.8" rx="9" ry="10" fill="#400000" fill-opacity="0.66"/><ellipse cx="374.8" cy="447.8" rx="9" ry="8" fill="#400000" fill-opacity="0.66"/><ellipse cx="389.8" cy="443.8" rx="7" ry="8" fill="#400000" fill-opacity="0.66"/><ellipse cx="337.8" cy="457.8" rx="5" ry="4" fill="#300000" fill-opacity="0.66"/><ellipse cx="391.8" cy="420.8" rx="5" ry="8" fill="#300000" fill-opacity="0.57"/></g><g filter="url(#fb1)"><ellipse cx="345.8" cy="410.8" rx="7" ry="7" fill="none" stroke="#e81414" stroke-width="1.8" stroke-opacity="0.26"/><ellipse cx="356.8" cy="423.8" rx="9.5" ry="9" fill="none" stroke="#e81414" stroke-width="1.8" stroke-opacity="0.26"/><ellipse cx="382.8" cy="407.8" rx="6" ry="6" fill="none" stroke="#e81414" stroke-width="1.8" stroke-opacity="0.23"/><ellipse cx="377.8" cy="428.8" rx="8" ry="9" fill="none" stroke="#e81414" stroke-width="1.8" stroke-opacity="0.23"/><ellipse cx="373.8" cy="447.8" rx="8" ry="7" fill="none" stroke="#e81414" stroke-width="1.8" stroke-opacity="0.26"/><ellipse cx="389.8" cy="443.8" rx="6" ry="7" fill="none" stroke="#e81414" stroke-width="1.8" stroke-opacity="0.23"/><ellipse cx="352.8" cy="442.8" rx="7" ry="5" fill="none" stroke="#e81414" stroke-width="1.8" stroke-opacity="0.17"/><line x1="362.9" y1="433.4" x2="357.8" y2="434.6" stroke="#c81010" stroke-width="1.6" stroke-opacity="0.50"/><line x1="371.0" y1="410.9" x2="370.8" y2="417.0" stroke="#c81010" stroke-width="1.6" stroke-opacity="0.62"/><line x1="341.4" y1="418.0" x2="348.2" y2="420.0" stroke="#c81010" stroke-width="1.6" stroke-opacity="0.58"/><line x1="393.7" y1="439.0" x2="392.3" y2="442.6" stroke="#c81010" stroke-width="1.6" stroke-opacity="0.29"/><line x1="347.2" y1="414.3" x2="352.5" y2="414.8" stroke="#c81010" stroke-width="1.6" stroke-opacity="0.47"/><line x1="386.3" y1="430.9" x2="384.0" y2="435.9" stroke="#c81010" stroke-width="1.6" stroke-opacity="0.57"/><line x1="363.2" y1="416.5" x2="355.3" y2="416.5" stroke="#c81010" stroke-width="1.6" stroke-opacity="0.64"/><line x1="378.3" y1="418.7" x2="381.6" y2="421.7" stroke="#c81010" stroke-width="1.6" stroke-opacity="0.32"/><line x1="381.8" y1="423.8" x2="377.4" y2="426.1" stroke="#c81010" stroke-width="1.6" stroke-opacity="0.69"/><line x1="386.6" y1="399.8" x2="392.6" y2="404.5" stroke="#c81010" stroke-width="1.6" stroke-opacity="0.49"/><line x1="394.6" y1="423.6" x2="400.6" y2="425.0" stroke="#c81010" stroke-width="1.6" stroke-opacity="0.62"/><line x1="352.0" y1="405.0" x2="355.9" y2="411.8" stroke="#c81010" stroke-width="1.6" stroke-opacity="0.61"/><line x1="342.9" y1="414.6" x2="346.0" y2="415.6" stroke="#c81010" stroke-width="1.6" stroke-opacity="0.63"/><line x1="362.6" y1="411.2" x2="360.2" y2="414.0" stroke="#c81010" stroke-width="1.6" stroke-opacity="0.56"/><line x1="342.8" y1="425.0" x2="346.2" y2="427.7" stroke="#c81010" stroke-width="1.6" stroke-opacity="0.70"/><line x1="384.0" y1="418.0" x2="380.2" y2="419.5" stroke="#c81010" stroke-width="1.6" stroke-opacity="0.45"/><line x1="387.1" y1="438.3" x2="394.6" y2="440.8" stroke="#c81010" stroke-width="1.6" stroke-opacity="0.38"/><line x1="351.3" y1="446.2" x2="353.6" y2="450.0" stroke="#c81010" stroke-width="1.6" stroke-opacity="0.32"/><line x1="358.1" y1="427.0" x2="352.7" y2="427.7" stroke="#c81010" stroke-width="1.6" stroke-opacity="0.53"/><line x1="387.8" y1="410.8" x2="394.5" y2="414.3" stroke="#c81010" stroke-width="1.6" stroke-opacity="0.63"/><line x1="350.8" y1="411.2" x2="345.5" y2="416.8" stroke="#c81010" stroke-width="1.6" stroke-opacity="0.37"/><line x1="392.8" y1="452.7" x2="391.2" y2="457.6" stroke="#c81010" stroke-width="1.6" stroke-opacity="0.33"/><line x1="350.1" y1="442.1" x2="355.0" y2="447.2" stroke="#c81010" stroke-width="1.6" stroke-opacity="0.54"/><line x1="353.4" y1="410.3" x2="351.3" y2="412.9" stroke="#c81010" stroke-width="1.6" stroke-opacity="0.38"/><line x1="369.4" y1="450.9" x2="367.8" y2="455.1" stroke="#c81010" stroke-width="1.6" stroke-opacity="0.68"/><line x1="348.0" y1="400.8" x2="351.5" y2="404.7" stroke="#c81010" stroke-width="1.6" stroke-opacity="0.31"/><line x1="346.4" y1="421.9" x2="345.6" y2="425.5" stroke="#c81010" stroke-width="1.6" stroke-opacity="0.44"/><line x1="389.3" y1="458.6" x2="386.2" y2="464.3" stroke="#c81010" stroke-width="1.6" stroke-opacity="0.53"/><line x1="344.2" y1="401.9" x2="351.8" y2="402.3" stroke="#c81010" stroke-width="1.6" stroke-opacity="0.58"/><line x1="393.6" y1="401.1" x2="391.3" y2="406.0" stroke="#c81010" stroke-width="1.6" stroke-opacity="0.60"/><line x1="354.9" y1="459.8" x2="360.5" y2="461.1" stroke="#c81010" stroke-width="1.6" stroke-opacity="0.60"/><line x1="389.8" y1="444.0" x2="385.7" y2="449.6" stroke="#c81010" stroke-width="1.6" stroke-opacity="0.68"/><line x1="356.9" y1="440.9" x2="349.9" y2="443.2" stroke="#c81010" stroke-width="1.6" stroke-opacity="0.46"/><line x1="383.2" y1="451.6" x2="381.8" y2="457.6" stroke="#c81010" stroke-width="1.6" stroke-opacity="0.45"/><line x1="370.8" y1="436.3" x2="376.8" y2="437.9" stroke="#c81010" stroke-width="1.6" stroke-opacity="0.71"/><line x1="388.6" y1="443.5" x2="390.9" y2="449.8" stroke="#c81010" stroke-width="1.6" stroke-opacity="0.53"/><line x1="362.2" y1="450.1" x2="368.7" y2="451.9" stroke="#c81010" stroke-width="1.6" stroke-opacity="0.30"/><line x1="371.9" y1="428.7" x2="376.7" y2="433.0" stroke="#c81010" stroke-width="1.6" stroke-opacity="0.50"/><line x1="372.7" y1="455.0" x2="374.8" y2="457.2" stroke="#c81010" stroke-width="1.6" stroke-opacity="0.41"/><line x1="376.5" y1="412.0" x2="383.0" y2="415.8" stroke="#c81010" stroke-width="1.6" stroke-opacity="0.57"/><line x1="362.3" y1="453.3" x2="365.6" y2="458.7" stroke="#c81010" stroke-width="1.6" stroke-opacity="0.37"/><line x1="361.7" y1="448.2" x2="354.5" y2="450.1" stroke="#c81010" stroke-width="1.6" stroke-opacity="0.45"/><line x1="370.8" y1="418.8" x2="375.8" y2="421.1" stroke="#c81010" stroke-width="1.6" stroke-opacity="0.64"/><line x1="386.7" y1="442.5" x2="382.4" y2="443.2" stroke="#c81010" stroke-width="1.6" stroke-opacity="0.36"/><line x1="362.8" y1="416.3" x2="366.8" y2="419.5" stroke="#c81010" stroke-width="1.6" stroke-opacity="0.55"/><line x1="365.4" y1="418.7" x2="358.5" y2="422.6" stroke="#c81010" stroke-width="1.6" stroke-opacity="0.48"/><line x1="340.3" y1="401.7" x2="337.3" y2="402.9" stroke="#c81010" stroke-width="1.6" stroke-opacity="0.59"/><line x1="370.0" y1="418.3" x2="367.6" y2="420.2" stroke="#c81010" stroke-width="1.6" stroke-opacity="0.34"/><line x1="385.6" y1="414.0" x2="388.5" y2="415.4" stroke="#c81010" stroke-width="1.6" stroke-opacity="0.55"/><line x1="362.6" y1="437.6" x2="359.3" y2="443.8" stroke="#c81010" stroke-width="1.6" stroke-opacity="0.69"/><line x1="376.9" y1="411.8" x2="377.2" y2="415.6" stroke="#c81010" stroke-width="1.6" stroke-opacity="0.29"/><line x1="364.1" y1="442.7" x2="367.8" y2="445.0" stroke="#c81010" stroke-width="1.6" stroke-opacity="0.43"/><line x1="377.6" y1="431.0" x2="375.3" y2="437.4" stroke="#c81010" stroke-width="1.6" stroke-opacity="0.45"/><line x1="383.3" y1="454.2" x2="390.7" y2="456.2" stroke="#c81010" stroke-width="1.6" stroke-opacity="0.59"/><line x1="343.6" y1="427.0" x2="340.7" y2="434.0" stroke="#c81010" stroke-width="1.6" stroke-opacity="0.45"/><line x1="369.9" y1="452.6" x2="363.7" y2="457.2" stroke="#c81010" stroke-width="1.6" stroke-opacity="0.48"/><line x1="374.9" y1="412.1" x2="370.3" y2="417.5" stroke="#c81010" stroke-width="1.6" stroke-opacity="0.56"/><line x1="378.9" y1="412.6" x2="371.3" y2="415.0" stroke="#c81010" stroke-width="1.6" stroke-opacity="0.70"/><line x1="368.0" y1="447.2" x2="372.1" y2="453.6" stroke="#c81010" stroke-width="1.6" stroke-opacity="0.65"/><line x1="356.7" y1="404.8" x2="357.8" y2="410.4" stroke="#c81010" stroke-width="1.6" stroke-opacity="0.61"/><line x1="384.3" y1="403.6" x2="381.2" y2="405.9" stroke="#c81010" stroke-width="1.6" stroke-opacity="0.43"/><line x1="383.1" y1="408.2" x2="388.1" y2="410.7" stroke="#c81010" stroke-width="1.6" stroke-opacity="0.59"/></g><g filter="url(#fb2)"><ellipse cx="344.8" cy="408.8" rx="3.5" ry="3" fill="#e01010" fill-opacity="0.57"/><ellipse cx="354.8" cy="419.8" rx="4" ry="3" fill="#e01010" fill-opacity="0.62"/><ellipse cx="351.8" cy="425.8" rx="2.5" ry="3" fill="#c01010" fill-opacity="0.52"/><ellipse cx="361.8" cy="428.8" rx="3" ry="2.5" fill="#c01010" fill-opacity="0.47"/><ellipse cx="382.8" cy="404.8" rx="4" ry="3" fill="#c01010" fill-opacity="0.47"/><ellipse cx="376.8" cy="421.8" rx="2.5" ry="5" fill="#c01010" fill-opacity="0.47"/><ellipse cx="381.8" cy="435.8" rx="3" ry="3" fill="#c01010" fill-opacity="0.47"/><ellipse cx="381.8" cy="447.8" rx="4" ry="5" fill="#e01010" fill-opacity="0.57"/><ellipse cx="371.8" cy="448.8" rx="2.5" ry="4" fill="#c01010" fill-opacity="0.47"/><ellipse cx="339.8" cy="403.8" rx="3" ry="3" fill="#a01010" fill-opacity="0.38"/><ellipse cx="356.8" cy="424.8" rx="4" ry="4" fill="#000" fill-opacity="0.50"/><ellipse cx="388.8" cy="425.8" rx="2.5" ry="2.5" fill="#000" fill-opacity="0.50"/><ellipse cx="375.8" cy="430.8" rx="3" ry="3" fill="#000" fill-opacity="0.40"/></g></g>
</g>
<defs><pattern id="mot" width="6" height="8" patternUnits="userSpaceOnUse"><rect width="6" height="8" fill="#6578a8"/><rect x="0" y="0" width="3" height="3" fill="#8494bc"/><rect x="3" y="4" width="3" height="3" fill="#8a9ac0"/><rect x="1" y="5" width="2" height="2" fill="#55699c"/></pattern><pattern id="str" width="6" height="3" patternUnits="userSpaceOnUse"><rect width="6" height="3" fill="#5a70a2"/><rect y="2" width="6" height="1" fill="#6a7eae"/></pattern></defs>
<text transform="translate(15.80,561.20) rotate(-90) scale(0.63,1)" font-size="10" text-anchor="middle" font-weight="bold" fill="#222" >% live/live control</text>
<line x1="41.80" y1="525.00" x2="41.80" y2="597.30" stroke="#1a1a1a" stroke-width="1.3" />
<line x1="41.20" y1="596.70" x2="139.50" y2="596.70" stroke="#1a1a1a" stroke-width="1.3" />
<line x1="38.80" y1="596.70" x2="41.80" y2="596.70" stroke="#1a1a1a" stroke-width="1.1" />
<text transform="translate(34.00,599.50) scale(1.05,1)" font-size="8" text-anchor="end" fill="#222" >0</text>
<line x1="38.80" y1="573.97" x2="41.80" y2="573.97" stroke="#1a1a1a" stroke-width="1.1" />
<text transform="translate(34.00,576.77) scale(1.05,1)" font-size="8" text-anchor="end" fill="#222" >50</text>
<line x1="38.80" y1="551.23" x2="41.80" y2="551.23" stroke="#1a1a1a" stroke-width="1.1" />
<text transform="translate(34.00,554.03) scale(1.05,1)" font-size="8" text-anchor="end" fill="#222" >100</text>
<line x1="38.80" y1="528.50" x2="41.80" y2="528.50" stroke="#1a1a1a" stroke-width="1.1" />
<text transform="translate(34.00,531.30) scale(1.05,1)" font-size="8" text-anchor="end" fill="#222" >150</text>
<rect x="46.20" y="551.23" width="6.00" height="45.47" fill="url(#mot)" stroke="none" stroke-width="1" />
<rect x="55.30" y="560.33" width="6.00" height="36.37" fill="#4c649a" stroke="none" stroke-width="1" />
<rect x="64.40" y="573.97" width="6.00" height="22.73" fill="url(#str)" stroke="none" stroke-width="1" />
<line x1="58.20" y1="596.70" x2="58.20" y2="599.30" stroke="#1a1a1a" stroke-width="1.1" />
<rect x="79.10" y="551.23" width="6.00" height="45.47" fill="url(#mot)" stroke="none" stroke-width="1" />
<rect x="88.20" y="578.51" width="6.00" height="18.19" fill="#4c649a" stroke="none" stroke-width="1" />
<rect x="97.30" y="583.06" width="6.00" height="13.64" fill="url(#str)" stroke="none" stroke-width="1" />
<line x1="91.10" y1="596.70" x2="91.10" y2="599.30" stroke="#1a1a1a" stroke-width="1.1" />
<rect x="112.30" y="551.23" width="6.00" height="45.47" fill="url(#mot)" stroke="none" stroke-width="1" />
<rect x="121.40" y="573.97" width="6.00" height="22.73" fill="#4c649a" stroke="none" stroke-width="1" />
<rect x="130.50" y="583.06" width="6.00" height="13.64" fill="url(#str)" stroke="none" stroke-width="1" />
<line x1="124.30" y1="596.70" x2="124.30" y2="599.30" stroke="#1a1a1a" stroke-width="1.1" />
<text transform="translate(63.10,604.60) rotate(-45)" font-size="8.6" text-anchor="end" fill="#222" >AML3</text>
<text transform="translate(96.20,604.60) rotate(-45)" font-size="8.6" text-anchor="end" fill="#222" >AML5</text>
<text transform="translate(129.50,604.60) rotate(-45)" font-size="8.6" text-anchor="end" fill="#222" >AML11</text>
<rect x="65.80" y="523.50" width="8.00" height="4.00" fill="url(#mot)" stroke="none" stroke-width="1" />
<text transform="translate(75.90,528.20)" font-size="7.4" text-anchor="start" fill="#222" >0</text>
<rect x="65.80" y="532.30" width="8.00" height="4.00" fill="#4c649a" stroke="none" stroke-width="1" />
<text transform="translate(75.90,537.00)" font-size="7.4" text-anchor="start" fill="#222" >24 hours</text>
<rect x="65.80" y="541.20" width="8.00" height="4.00" fill="url(#str)" stroke="none" stroke-width="1" />
<text transform="translate(75.90,545.90)" font-size="7.4" text-anchor="start" fill="#222" >48 hours</text>
<text transform="translate(200.75,519.70)" font-size="8" text-anchor="middle" fill="#1a1a1a" >AML3</text>
<clipPath id="fc0"><rect x="173.7" y="524.8" width="54.1" height="72.5"/></clipPath><g clip-path="url(#fc0)">
<line x1="175.70" y1="524.80" x2="175.70" y2="597.30" stroke="#cfcfcf" stroke-width="1.6" />
<line x1="195.40" y1="524.80" x2="195.40" y2="597.30" stroke="#cfcfcf" stroke-width="1.4" />
<line x1="210.10" y1="524.80" x2="210.10" y2="597.30" stroke="#cfcfcf" stroke-width="1.4" />
<line x1="223.10" y1="524.80" x2="223.10" y2="597.30" stroke="#cfcfcf" stroke-width="1.4" />
<line x1="185.70" y1="524.80" x2="185.70" y2="597.30" stroke="#a6a6a6" stroke-width="2.6" />
</g>
<text transform="translate(260.55,519.70)" font-size="8" text-anchor="middle" fill="#1a1a1a" >AML5</text>
<clipPath id="fc1"><rect x="233.5" y="524.8" width="54.1" height="72.5"/></clipPath><g clip-path="url(#fc1)">
<line x1="235.50" y1="524.80" x2="235.50" y2="597.30" stroke="#cfcfcf" stroke-width="1.6" />
<line x1="255.20" y1="524.80" x2="255.20" y2="597.30" stroke="#cfcfcf" stroke-width="1.4" />
<line x1="269.90" y1="524.80" x2="269.90" y2="597.30" stroke="#cfcfcf" stroke-width="1.4" />
<line x1="282.90" y1="524.80" x2="282.90" y2="597.30" stroke="#cfcfcf" stroke-width="1.4" />
<line x1="245.50" y1="524.80" x2="245.50" y2="597.30" stroke="#a6a6a6" stroke-width="2.6" />
</g>
<text transform="translate(320.55,519.70)" font-size="8" text-anchor="middle" fill="#1a1a1a" >AML11</text>
<clipPath id="fc2"><rect x="293.5" y="524.8" width="54.1" height="72.5"/></clipPath><g clip-path="url(#fc2)">
<line x1="295.50" y1="524.80" x2="295.50" y2="597.30" stroke="#cfcfcf" stroke-width="1.6" />
<line x1="315.20" y1="524.80" x2="315.20" y2="597.30" stroke="#cfcfcf" stroke-width="1.4" />
<line x1="329.90" y1="524.80" x2="329.90" y2="597.30" stroke="#cfcfcf" stroke-width="1.4" />
<line x1="342.90" y1="524.80" x2="342.90" y2="597.30" stroke="#cfcfcf" stroke-width="1.4" />
<line x1="305.50" y1="524.80" x2="305.50" y2="597.30" stroke="#a6a6a6" stroke-width="2.6" />
</g>
<g clip-path="url(#fc0)">
<path d="M173.70,542.62 L174.15,542.62 L174.60,542.62 L175.05,542.62 L175.50,542.62 L175.95,542.62 L176.41,542.62 L176.86,542.62 L177.31,542.62 L177.76,542.62 L178.21,542.62 L178.66,542.62 L179.11,542.62 L179.56,542.62 L180.01,542.62 L180.46,542.62 L180.91,542.62 L181.36,542.62 L181.81,542.62 L182.27,542.62 L182.72,542.62 L183.17,542.62 L183.62,542.62 L184.07,542.62 L184.52,542.61 L184.97,542.58 L185.42,542.49 L185.87,542.27 L186.32,541.82 L186.77,541.03 L187.22,539.87 L187.68,538.34 L188.13,536.59 L188.58,534.75 L189.03,533.00 L189.48,531.44 L189.93,530.12 L190.38,529.13 L190.83,528.56 L191.28,528.42 L191.73,528.63 L192.18,528.98 L192.63,529.28 L193.09,529.52 L193.54,529.77 L193.99,530.15 L194.44,530.79 L194.89,531.76 L195.34,533.09 L195.79,534.70 L196.24,536.48 L196.69,538.23 L197.14,539.77 L197.59,540.97 L198.04,541.77 L198.50,542.25 L198.95,542.48 L199.40,542.58 L199.85,542.61 L200.30,542.62 L200.75,542.62 L201.20,542.62 L201.65,542.62 L202.10,542.62 L202.55,542.62 L203.00,542.62 L203.45,542.62 L203.91,542.62 L204.36,542.62 L204.81,542.62 L205.26,542.62 L205.71,542.62 L206.16,542.62 L206.61,542.62 L207.06,542.62 L207.51,542.62 L207.96,542.62 L208.41,542.62 L208.86,542.62 L209.32,542.62 L209.77,542.62 L210.22,542.62 L210.67,542.62 L211.12,542.62 L211.57,542.62 L212.02,542.62 L212.47,542.62 L212.92,542.62 L213.37,542.62 L213.82,542.62 L214.27,542.62 L214.73,542.62 L215.18,542.62 L215.63,542.62 L216.08,542.62 L216.53,542.62 L216.98,542.62 L217.43,542.62 L217.88,542.62 L218.33,542.62 L218.78,542.62 L219.23,542.62 L219.69,542.62 L220.14,542.62 L220.59,542.62 L221.04,542.62 L221.49,542.62 L221.94,542.62 L222.39,542.62 L222.84,542.62 L223.29,542.62 L223.74,542.62 L224.19,542.62 L224.64,542.62 L225.09,542.62 L225.55,542.62 L226.00,542.62 L226.45,542.62 L226.90,542.62 L227.35,542.62 L227.80,542.62 L227.80,542.62 L173.70,542.62Z" fill="#f1c0bc" stroke="none"/>
<path d="M173.70,542.62 L174.15,542.62 L174.60,542.62 L175.05,542.62 L175.50,542.62 L175.95,542.62 L176.41,542.62 L176.86,542.62 L177.31,542.62 L177.76,542.62 L178.21,542.62 L178.66,542.62 L179.11,542.62 L179.56,542.62 L180.01,542.62 L180.46,542.62 L180.91,542.62 L181.36,542.62 L181.81,542.62 L182.27,542.62 L182.72,542.62 L183.17,542.62 L183.62,542.62 L184.07,542.62 L184.52,542.61 L184.97,542.58 L185.42,542.49 L185.87,542.27 L186.32,541.82 L186.77,541.03 L187.22,539.87 L187.68,538.34 L188.13,536.59 L188.58,534.75 L189.03,533.00 L189.48,531.44 L189.93,530.12 L190.38,529.13 L190.83,528.56 L191.28,528.42 L191.73,528.63 L192.18,528.98 L192.63,529.28 L193.09,529.52 L193.54,529.77 L193.99,530.15 L194.44,530.79 L194.89,531.76 L195.34,533.09 L195.79,534.70 L196.24,536.48 L196.69,538.23 L197.14,539.77 L197.59,540.97 L198.04,541.77 L198.50,542.25 L198.95,542.48 L199.40,542.58 L199.85,542.61 L200.30,542.62 L200.75,542.62 L201.20,542.62 L201.65,542.62 L202.10,542.62 L202.55,542.62 L203.00,542.62 L203.45,542.62 L203.91,542.62 L204.36,542.62 L204.81,542.62 L205.26,542.62 L205.71,542.62 L206.16,542.62 L206.61,542.62 L207.06,542.62 L207.51,542.62 L207.96,542.62 L208.41,542.62 L208.86,542.62 L209.32,542.62 L209.77,542.62 L210.22,542.62 L210.67,542.62 L211.12,542.62 L211.57,542.62 L212.02,542.62 L212.47,542.62 L212.92,542.62 L213.37,542.62 L213.82,542.62 L214.27,542.62 L214.73,542.62 L215.18,542.62 L215.63,542.62 L216.08,542.62 L216.53,542.62 L216.98,542.62 L217.43,542.62 L217.88,542.62 L218.33,542.62 L218.78,542.62 L219.23,542.62 L219.69,542.62 L220.14,542.62 L220.59,542.62 L221.04,542.62 L221.49,542.62 L221.94,542.62 L222.39,542.62 L222.84,542.62 L223.29,542.62 L223.74,542.62 L224.19,542.62 L224.64,542.62 L225.09,542.62 L225.55,542.62 L226.00,542.62 L226.45,542.62 L226.90,542.62 L227.35,542.62 L227.80,542.62" fill="none" stroke="#c2455a" stroke-width="1.0" stroke-linejoin="round"/>
</g>
<g clip-path="url(#fc0)">
<path d="M173.70,560.75 L174.15,560.75 L174.60,560.75 L175.05,560.75 L175.50,560.75 L175.95,560.75 L176.41,560.75 L176.86,560.75 L177.31,560.75 L177.76,560.75 L178.21,560.75 L178.66,560.75 L179.11,560.75 L179.56,560.75 L180.01,560.75 L180.46,560.75 L180.91,560.75 L181.36,560.75 L181.81,560.75 L182.27,560.75 L182.72,560.75 L183.17,560.75 L183.62,560.75 L184.07,560.74 L184.52,560.72 L184.97,560.69 L185.42,560.62 L185.87,560.49 L186.32,560.28 L186.77,559.93 L187.22,559.41 L187.68,558.70 L188.13,557.81 L188.58,556.76 L189.03,555.66 L189.48,554.60 L189.93,553.69 L190.38,552.97 L190.83,552.43 L191.28,552.02 L191.73,551.66 L192.18,551.32 L192.63,551.02 L193.09,550.80 L193.54,550.70 L193.99,550.67 L194.44,550.59 L194.89,550.34 L195.34,549.91 L195.79,549.38 L196.24,548.91 L196.69,548.61 L197.14,548.46 L197.59,548.34 L198.04,548.09 L198.50,547.70 L198.95,547.25 L199.40,546.95 L199.85,546.96 L200.30,547.30 L200.75,547.86 L201.20,548.45 L201.65,548.93 L202.10,549.30 L202.55,549.61 L203.00,550.02 L203.45,550.64 L203.91,551.50 L204.36,552.59 L204.81,553.83 L205.26,555.11 L205.71,556.35 L206.16,557.47 L206.61,558.41 L207.06,559.16 L207.51,559.73 L207.96,560.12 L208.41,560.39 L208.86,560.55 L209.32,560.65 L209.77,560.70 L210.22,560.73 L210.67,560.74 L211.12,560.75 L211.57,560.75 L212.02,560.75 L212.47,560.75 L212.92,560.75 L213.37,560.75 L213.82,560.75 L214.27,560.75 L214.73,560.75 L215.18,560.75 L215.63,560.75 L216.08,560.75 L216.53,560.75 L216.98,560.75 L217.43,560.75 L217.88,560.75 L218.33,560.75 L218.78,560.75 L219.23,560.75 L219.69,560.75 L220.14,560.75 L220.59,560.75 L221.04,560.75 L221.49,560.75 L221.94,560.75 L222.39,560.75 L222.84,560.75 L223.29,560.75 L223.74,560.75 L224.19,560.75 L224.64,560.75 L225.09,560.75 L225.55,560.75 L226.00,560.75 L226.45,560.75 L226.90,560.75 L227.35,560.75 L227.80,560.75 L227.80,560.75 L173.70,560.75Z" fill="#d6d9ee" stroke="none"/>
<path d="M173.70,560.75 L174.15,560.75 L174.60,560.75 L175.05,560.75 L175.50,560.75 L175.95,560.75 L176.41,560.75 L176.86,560.75 L177.31,560.75 L177.76,560.75 L178.21,560.75 L178.66,560.75 L179.11,560.75 L179.56,560.75 L180.01,560.75 L180.46,560.75 L180.91,560.75 L181.36,560.75 L181.81,560.75 L182.27,560.75 L182.72,560.75 L183.17,560.75 L183.62,560.75 L184.07,560.74 L184.52,560.72 L184.97,560.69 L185.42,560.62 L185.87,560.49 L186.32,560.28 L186.77,559.93 L187.22,559.41 L187.68,558.70 L188.13,557.81 L188.58,556.76 L189.03,555.66 L189.48,554.60 L189.93,553.69 L190.38,552.97 L190.83,552.43 L191.28,552.02 L191.73,551.66 L192.18,551.32 L192.63,551.02 L193.09,550.80 L193.54,550.70 L193.99,550.67 L194.44,550.59 L194.89,550.34 L195.34,549.91 L195.79,549.38 L196.24,548.91 L196.69,548.61 L197.14,548.46 L197.59,548.34 L198.04,548.09 L198.50,547.70 L198.95,547.25 L199.40,546.95 L199.85,546.96 L200.30,547.30 L200.75,547.86 L201.20,548.45 L201.65,548.93 L202.10,549.30 L202.55,549.61 L203.00,550.02 L203.45,550.64 L203.91,551.50 L204.36,552.59 L204.81,553.83 L205.26,555.11 L205.71,556.35 L206.16,557.47 L206.61,558.41 L207.06,559.16 L207.51,559.73 L207.96,560.12 L208.41,560.39 L208.86,560.55 L209.32,560.65 L209.77,560.70 L210.22,560.73 L210.67,560.74 L211.12,560.75 L211.57,560.75 L212.02,560.75 L212.47,560.75 L212.92,560.75 L213.37,560.75 L213.82,560.75 L214.27,560.75 L214.73,560.75 L215.18,560.75 L215.63,560.75 L216.08,560.75 L216.53,560.75 L216.98,560.75 L217.43,560.75 L217.88,560.75 L218.33,560.75 L218.78,560.75 L219.23,560.75 L219.69,560.75 L220.14,560.75 L220.59,560.75 L221.04,560.75 L221.49,560.75 L221.94,560.75 L222.39,560.75 L222.84,560.75 L223.29,560.75 L223.74,560.75 L224.19,560.75 L224.64,560.75 L225.09,560.75 L225.55,560.75 L226.00,560.75 L226.45,560.75 L226.90,560.75 L227.35,560.75 L227.80,560.75" fill="none" stroke="#353d6a" stroke-width="1.0" stroke-linejoin="round"/>
</g>
<g clip-path="url(#fc0)">
<path d="M173.70,578.87 L174.15,578.87 L174.60,578.87 L175.05,578.87 L175.50,578.87 L175.95,578.87 L176.41,578.87 L176.86,578.87 L177.31,578.87 L177.76,578.87 L178.21,578.87 L178.66,578.87 L179.11,578.87 L179.56,578.87 L180.01,578.87 L180.46,578.87 L180.91,578.87 L181.36,578.87 L181.81,578.86 L182.27,578.85 L182.72,578.83 L183.17,578.80 L183.62,578.74 L184.07,578.65 L184.52,578.52 L184.97,578.31 L185.42,578.02 L185.87,577.63 L186.32,577.11 L186.77,576.46 L187.22,575.68 L187.68,574.79 L188.13,573.80 L188.58,572.76 L189.03,571.70 L189.48,570.65 L189.93,569.64 L190.38,568.68 L190.83,567.79 L191.28,566.96 L191.73,566.24 L192.18,565.64 L192.63,565.24 L193.09,565.08 L193.54,565.21 L193.99,565.66 L194.44,566.40 L194.89,567.36 L195.34,568.45 L195.79,569.56 L196.24,570.58 L196.69,571.44 L197.14,572.11 L197.59,572.59 L198.04,572.91 L198.50,573.09 L198.95,573.20 L199.40,573.27 L199.85,573.32 L200.30,573.38 L200.75,573.46 L201.20,573.56 L201.65,573.68 L202.10,573.83 L202.55,574.02 L203.00,574.24 L203.45,574.51 L203.91,574.81 L204.36,575.16 L204.81,575.54 L205.26,575.94 L205.71,576.35 L206.16,576.76 L206.61,577.14 L207.06,577.49 L207.51,577.80 L207.96,578.07 L208.41,578.28 L208.86,578.45 L209.32,578.58 L209.77,578.68 L210.22,578.75 L210.67,578.79 L211.12,578.82 L211.57,578.84 L212.02,578.86 L212.47,578.86 L212.92,578.87 L213.37,578.87 L213.82,578.87 L214.27,578.87 L214.73,578.87 L215.18,578.87 L215.63,578.87 L216.08,578.87 L216.53,578.87 L216.98,578.87 L217.43,578.87 L217.88,578.87 L218.33,578.87 L218.78,578.87 L219.23,578.87 L219.69,578.87 L220.14,578.87 L220.59,578.87 L221.04,578.87 L221.49,578.87 L221.94,578.87 L222.39,578.87 L222.84,578.87 L223.29,578.87 L223.74,578.87 L224.19,578.87 L224.64,578.87 L225.09,578.87 L225.55,578.87 L226.00,578.87 L226.45,578.87 L226.90,578.87 L227.35,578.88 L227.80,578.88 L227.80,578.88 L173.70,578.88Z" fill="#d6d9ee" stroke="none"/>
<path d="M173.70,578.87 L174.15,578.87 L174.60,578.87 L175.05,578.87 L175.50,578.87 L175.95,578.87 L176.41,578.87 L176.86,578.87 L177.31,578.87 L177.76,578.87 L178.21,578.87 L178.66,578.87 L179.11,578.87 L179.56,578.87 L180.01,578.87 L180.46,578.87 L180.91,578.87 L181.36,578.87 L181.81,578.86 L182.27,578.85 L182.72,578.83 L183.17,578.80 L183.62,578.74 L184.07,578.65 L184.52,578.52 L184.97,578.31 L185.42,578.02 L185.87,577.63 L186.32,577.11 L186.77,576.46 L187.22,575.68 L187.68,574.79 L188.13,573.80 L188.58,572.76 L189.03,571.70 L189.48,570.65 L189.93,569.64 L190.38,568.68 L190.83,567.79 L191.28,566.96 L191.73,566.24 L192.18,565.64 L192.63,565.24 L193.09,565.08 L193.54,565.21 L193.99,565.66 L194.44,566.40 L194.89,567.36 L195.34,568.45 L195.79,569.56 L196.24,570.58 L196.69,571.44 L197.14,572.11 L197.59,572.59 L198.04,572.91 L198.50,573.09 L198.95,573.20 L199.40,573.27 L199.85,573.32 L200.30,573.38 L200.75,573.46 L201.20,573.56 L201.65,573.68 L202.10,573.83 L202.55,574.02 L203.00,574.24 L203.45,574.51 L203.91,574.81 L204.36,575.16 L204.81,575.54 L205.26,575.94 L205.71,576.35 L206.16,576.76 L206.61,577.14 L207.06,577.49 L207.51,577.80 L207.96,578.07 L208.41,578.28 L208.86,578.45 L209.32,578.58 L209.77,578.68 L210.22,578.75 L210.67,578.79 L211.12,578.82 L211.57,578.84 L212.02,578.86 L212.47,578.86 L212.92,578.87 L213.37,578.87 L213.82,578.87 L214.27,578.87 L214.73,578.87 L215.18,578.87 L215.63,578.87 L216.08,578.87 L216.53,578.87 L216.98,578.87 L217.43,578.87 L217.88,578.87 L218.33,578.87 L218.78,578.87 L219.23,578.87 L219.69,578.87 L220.14,578.87 L220.59,578.87 L221.04,578.87 L221.49,578.87 L221.94,578.87 L222.39,578.87 L222.84,578.87 L223.29,578.87 L223.74,578.87 L224.19,578.87 L224.64,578.87 L225.09,578.87 L225.55,578.87 L226.00,578.87 L226.45,578.87 L226.90,578.87 L227.35,578.88 L227.80,578.88" fill="none" stroke="#353d6a" stroke-width="1.0" stroke-linejoin="round"/>
</g>
<g clip-path="url(#fc0)">
<path d="M173.70,597.00 L174.15,597.00 L174.60,597.00 L175.05,597.00 L175.50,597.00 L175.95,597.00 L176.41,597.00 L176.86,597.00 L177.31,597.00 L177.76,597.00 L178.21,597.00 L178.66,597.00 L179.11,597.00 L179.56,597.00 L180.01,597.00 L180.46,597.00 L180.91,597.00 L181.36,597.00 L181.81,597.00 L182.27,597.00 L182.72,597.00 L183.17,596.99 L183.62,596.99 L184.07,596.97 L184.52,596.94 L184.97,596.89 L185.42,596.79 L185.87,596.63 L186.32,596.37 L186.77,595.97 L187.22,595.42 L187.68,594.68 L188.13,593.75 L188.58,592.65 L189.03,591.45 L189.48,590.19 L189.93,588.97 L190.38,587.84 L190.83,586.83 L191.28,585.96 L191.73,585.20 L192.18,584.53 L192.63,583.95 L193.09,583.48 L193.54,583.17 L193.99,583.10 L194.44,583.31 L194.89,583.82 L195.34,584.59 L195.79,585.54 L196.24,586.58 L196.69,587.60 L197.14,588.53 L197.59,589.33 L198.04,589.98 L198.50,590.53 L198.95,590.99 L199.40,591.40 L199.85,591.78 L200.30,592.14 L200.75,592.49 L201.20,592.83 L201.65,593.15 L202.10,593.47 L202.55,593.80 L203.00,594.14 L203.45,594.49 L203.91,594.86 L204.36,595.23 L204.81,595.59 L205.26,595.92 L205.71,596.20 L206.16,596.44 L206.61,596.62 L207.06,596.76 L207.51,596.85 L207.96,596.91 L208.41,596.95 L208.86,596.97 L209.32,596.99 L209.77,596.99 L210.22,597.00 L210.67,597.00 L211.12,597.00 L211.57,597.00 L212.02,597.00 L212.47,597.00 L212.92,597.00 L213.37,597.00 L213.82,597.00 L214.27,597.00 L214.73,597.00 L215.18,597.00 L215.63,597.00 L216.08,597.00 L216.53,597.00 L216.98,597.00 L217.43,597.00 L217.88,597.00 L218.33,597.00 L218.78,597.00 L219.23,597.00 L219.69,597.00 L220.14,597.00 L220.59,597.00 L221.04,597.00 L221.49,597.00 L221.94,597.00 L222.39,597.00 L222.84,597.00 L223.29,597.00 L223.74,597.00 L224.19,597.00 L224.64,597.00 L225.09,597.00 L225.55,597.00 L226.00,597.00 L226.45,597.00 L226.90,597.00 L227.35,597.00 L227.80,597.00 L227.80,597.00 L173.70,597.00Z" fill="#d6d9ee" stroke="none"/>
<path d="M173.70,597.00 L174.15,597.00 L174.60,597.00 L175.05,597.00 L175.50,597.00 L175.95,597.00 L176.41,597.00 L176.86,597.00 L177.31,597.00 L177.76,597.00 L178.21,597.00 L178.66,597.00 L179.11,597.00 L179.56,597.00 L180.01,597.00 L180.46,597.00 L180.91,597.00 L181.36,597.00 L181.81,597.00 L182.27,597.00 L182.72,597.00 L183.17,596.99 L183.62,596.99 L184.07,596.97 L184.52,596.94 L184.97,596.89 L185.42,596.79 L185.87,596.63 L186.32,596.37 L186.77,595.97 L187.22,595.42 L187.68,594.68 L188.13,593.75 L188.58,592.65 L189.03,591.45 L189.48,590.19 L189.93,588.97 L190.38,587.84 L190.83,586.83 L191.28,585.96 L191.73,585.20 L192.18,584.53 L192.63,583.95 L193.09,583.48 L193.54,583.17 L193.99,583.10 L194.44,583.31 L194.89,583.82 L195.34,584.59 L195.79,585.54 L196.24,586.58 L196.69,587.60 L197.14,588.53 L197.59,589.33 L198.04,589.98 L198.50,590.53 L198.95,590.99 L199.40,591.40 L199.85,591.78 L200.30,592.14 L200.75,592.49 L201.20,592.83 L201.65,593.15 L202.10,593.47 L202.55,593.80 L203.00,594.14 L203.45,594.49 L203.91,594.86 L204.36,595.23 L204.81,595.59 L205.26,595.92 L205.71,596.20 L206.16,596.44 L206.61,596.62 L207.06,596.76 L207.51,596.85 L207.96,596.91 L208.41,596.95 L208.86,596.97 L209.32,596.99 L209.77,596.99 L210.22,597.00 L210.67,597.00 L211.12,597.00 L211.57,597.00 L212.02,597.00 L212.47,597.00 L212.92,597.00 L213.37,597.00 L213.82,597.00 L214.27,597.00 L214.73,597.00 L215.18,597.00 L215.63,597.00 L216.08,597.00 L216.53,597.00 L216.98,597.00 L217.43,597.00 L217.88,597.00 L218.33,597.00 L218.78,597.00 L219.23,597.00 L219.69,597.00 L220.14,597.00 L220.59,597.00 L221.04,597.00 L221.49,597.00 L221.94,597.00 L222.39,597.00 L222.84,597.00 L223.29,597.00 L223.74,597.00 L224.19,597.00 L224.64,597.00 L225.09,597.00 L225.55,597.00 L226.00,597.00 L226.45,597.00 L226.90,597.00 L227.35,597.00 L227.80,597.00" fill="none" stroke="#353d6a" stroke-width="1.0" stroke-linejoin="round"/>
</g>
<g clip-path="url(#fc1)">
<path d="M233.50,542.62 L233.95,542.62 L234.40,542.62 L234.85,542.62 L235.30,542.62 L235.75,542.62 L236.21,542.62 L236.66,542.62 L237.11,542.62 L237.56,542.62 L238.01,542.62 L238.46,542.62 L238.91,542.62 L239.36,542.62 L239.81,542.62 L240.26,542.62 L240.71,542.62 L241.16,542.62 L241.62,542.62 L242.07,542.62 L242.52,542.62 L242.97,542.62 L243.42,542.62 L243.87,542.60 L244.32,542.56 L244.77,542.46 L245.22,542.23 L245.67,541.72 L246.12,540.75 L246.57,539.12 L247.03,536.72 L247.48,533.74 L247.93,530.68 L248.38,528.26 L248.83,527.12 L249.28,527.55 L249.73,529.27 L250.18,531.67 L250.63,534.08 L251.08,536.07 L251.53,537.51 L251.98,538.50 L252.44,539.21 L252.89,539.78 L253.34,540.30 L253.79,540.77 L254.24,541.20 L254.69,541.58 L255.14,541.88 L255.59,542.12 L256.04,542.30 L256.49,542.42 L256.94,542.50 L257.39,542.56 L257.85,542.59 L258.30,542.60 L258.75,542.61 L259.20,542.62 L259.65,542.62 L260.10,542.62 L260.55,542.62 L261.00,542.62 L261.45,542.62 L261.90,542.62 L262.35,542.62 L262.80,542.62 L263.25,542.62 L263.71,542.62 L264.16,542.62 L264.61,542.62 L265.06,542.62 L265.51,542.62 L265.96,542.62 L266.41,542.62 L266.86,542.62 L267.31,542.62 L267.76,542.62 L268.21,542.62 L268.67,542.62 L269.12,542.62 L269.57,542.62 L270.02,542.62 L270.47,542.62 L270.92,542.62 L271.37,542.62 L271.82,542.62 L272.27,542.62 L272.72,542.62 L273.17,542.62 L273.62,542.62 L274.08,542.62 L274.53,542.62 L274.98,542.62 L275.43,542.62 L275.88,542.62 L276.33,542.62 L276.78,542.62 L277.23,542.62 L277.68,542.62 L278.13,542.62 L278.58,542.62 L279.03,542.62 L279.49,542.62 L279.94,542.62 L280.39,542.62 L280.84,542.62 L281.29,542.62 L281.74,542.62 L282.19,542.62 L282.64,542.62 L283.09,542.62 L283.54,542.62 L283.99,542.62 L284.44,542.62 L284.90,542.62 L285.35,542.62 L285.80,542.62 L286.25,542.62 L286.70,542.62 L287.15,542.62 L287.60,542.62 L287.60,542.62 L233.50,542.62Z" fill="#f1c0bc" stroke="none"/>
<path d="M233.50,542.62 L233.95,542.62 L234.40,542.62 L234.85,542.62 L235.30,542.62 L235.75,542.62 L236.21,542.62 L236.66,542.62 L237.11,542.62 L237.56,542.62 L238.01,542.62 L238.46,542.62 L238.91,542.62 L239.36,542.62 L239.81,542.62 L240.26,542.62 L240.71,542.62 L241.16,542.62 L241.62,542.62 L242.07,542.62 L242.52,542.62 L242.97,542.62 L243.42,542.62 L243.87,542.60 L244.32,542.56 L244.77,542.46 L245.22,542.23 L245.67,541.72 L246.12,540.75 L246.57,539.12 L247.03,536.72 L247.48,533.74 L247.93,530.68 L248.38,528.26 L248.83,527.12 L249.28,527.55 L249.73,529.27 L250.18,531.67 L250.63,534.08 L251.08,536.07 L251.53,537.51 L251.98,538.50 L252.44,539.21 L252.89,539.78 L253.34,540.30 L253.79,540.77 L254.24,541.20 L254.69,541.58 L255.14,541.88 L255.59,542.12 L256.04,542.30 L256.49,542.42 L256.94,542.50 L257.39,542.56 L257.85,542.59 L258.30,542.60 L258.75,542.61 L259.20,542.62 L259.65,542.62 L260.10,542.62 L260.55,542.62 L261.00,542.62 L261.45,542.62 L261.90,542.62 L262.35,542.62 L262.80,542.62 L263.25,542.62 L263.71,542.62 L264.16,542.62 L264.61,542.62 L265.06,542.62 L265.51,542.62 L265.96,542.62 L266.41,542.62 L266.86,542.62 L267.31,542.62 L267.76,542.62 L268.21,542.62 L268.67,542.62 L269.12,542.62 L269.57,542.62 L270.02,542.62 L270.47,542.62 L270.92,542.62 L271.37,542.62 L271.82,542.62 L272.27,542.62 L272.72,542.62 L273.17,542.62 L273.62,542.62 L274.08,542.62 L274.53,542.62 L274.98,542.62 L275.43,542.62 L275.88,542.62 L276.33,542.62 L276.78,542.62 L277.23,542.62 L277.68,542.62 L278.13,542.62 L278.58,542.62 L279.03,542.62 L279.49,542.62 L279.94,542.62 L280.39,542.62 L280.84,542.62 L281.29,542.62 L281.74,542.62 L282.19,542.62 L282.64,542.62 L283.09,542.62 L283.54,542.62 L283.99,542.62 L284.44,542.62 L284.90,542.62 L285.35,542.62 L285.80,542.62 L286.25,542.62 L286.70,542.62 L287.15,542.62 L287.60,542.62" fill="none" stroke="#c2455a" stroke-width="1.0" stroke-linejoin="round"/>
</g>
<g clip-path="url(#fc1)">
<path d="M233.50,560.75 L233.95,560.75 L234.40,560.75 L234.85,560.75 L235.30,560.75 L235.75,560.75 L236.21,560.75 L236.66,560.75 L237.11,560.75 L237.56,560.75 L238.01,560.75 L238.46,560.75 L238.91,560.75 L239.36,560.75 L239.81,560.75 L240.26,560.75 L240.71,560.75 L241.16,560.75 L241.62,560.75 L242.07,560.75 L242.52,560.75 L242.97,560.75 L243.42,560.75 L243.87,560.75 L244.32,560.75 L244.77,560.75 L245.22,560.75 L245.67,560.75 L246.12,560.75 L246.57,560.75 L247.03,560.75 L247.48,560.75 L247.93,560.75 L248.38,560.75 L248.83,560.75 L249.28,560.75 L249.73,560.75 L250.18,560.75 L250.63,560.75 L251.08,560.75 L251.53,560.75 L251.98,560.75 L252.44,560.75 L252.89,560.75 L253.34,560.75 L253.79,560.75 L254.24,560.75 L254.69,560.75 L255.14,560.75 L255.59,560.75 L256.04,560.75 L256.49,560.75 L256.94,560.75 L257.39,560.75 L257.85,560.75 L258.30,560.75 L258.75,560.75 L259.20,560.75 L259.65,560.75 L260.10,560.75 L260.55,560.75 L261.00,560.75 L261.45,560.74 L261.90,560.74 L262.35,560.72 L262.80,560.71 L263.25,560.68 L263.71,560.63 L264.16,560.57 L264.61,560.47 L265.06,560.32 L265.51,560.13 L265.96,559.86 L266.41,559.49 L266.86,559.01 L267.31,558.39 L267.76,557.61 L268.21,556.64 L268.67,555.49 L269.12,554.16 L269.57,552.69 L270.02,551.15 L270.47,549.66 L270.92,548.33 L271.37,547.29 L271.82,546.67 L272.27,546.55 L272.72,546.95 L273.17,547.85 L273.62,549.15 L274.08,550.72 L274.53,552.42 L274.98,554.11 L275.43,555.67 L275.88,557.01 L276.33,558.11 L276.78,558.97 L277.23,559.59 L277.68,560.03 L278.13,560.32 L278.58,560.50 L279.03,560.61 L279.49,560.68 L279.94,560.71 L280.39,560.73 L280.84,560.74 L281.29,560.75 L281.74,560.75 L282.19,560.75 L282.64,560.75 L283.09,560.75 L283.54,560.75 L283.99,560.75 L284.44,560.75 L284.90,560.75 L285.35,560.75 L285.80,560.75 L286.25,560.75 L286.70,560.75 L287.15,560.75 L287.60,560.75 L287.60,560.75 L233.50,560.75Z" fill="#d6d9ee" stroke="none"/>
<path d="M233.50,560.75 L233.95,560.75 L234.40,560.75 L234.85,560.75 L235.30,560.75 L235.75,560.75 L236.21,560.75 L236.66,560.75 L237.11,560.75 L237.56,560.75 L238.01,560.75 L238.46,560.75 L238.91,560.75 L239.36,560.75 L239.81,560.75 L240.26,560.75 L240.71,560.75 L241.16,560.75 L241.62,560.75 L242.07,560.75 L242.52,560.75 L242.97,560.75 L243.42,560.75 L243.87,560.75 L244.32,560.75 L244.77,560.75 L245.22,560.75 L245.67,560.75 L246.12,560.75 L246.57,560.75 L247.03,560.75 L247.48,560.75 L247.93,560.75 L248.38,560.75 L248.83,560.75 L249.28,560.75 L249.73,560.75 L250.18,560.75 L250.63,560.75 L251.08,560.75 L251.53,560.75 L251.98,560.75 L252.44,560.75 L252.89,560.75 L253.34,560.75 L253.79,560.75 L254.24,560.75 L254.69,560.75 L255.14,560.75 L255.59,560.75 L256.04,560.75 L256.49,560.75 L256.94,560.75 L257.39,560.75 L257.85,560.75 L258.30,560.75 L258.75,560.75 L259.20,560.75 L259.65,560.75 L260.10,560.75 L260.55,560.75 L261.00,560.75 L261.45,560.74 L261.90,560.74 L262.35,560.72 L262.80,560.71 L263.25,560.68 L263.71,560.63 L264.16,560.57 L264.61,560.47 L265.06,560.32 L265.51,560.13 L265.96,559.86 L266.41,559.49 L266.86,559.01 L267.31,558.39 L267.76,557.61 L268.21,556.64 L268.67,555.49 L269.12,554.16 L269.57,552.69 L270.02,551.15 L270.47,549.66 L270.92,548.33 L271.37,547.29 L271.82,546.67 L272.27,546.55 L272.72,546.95 L273.17,547.85 L273.62,549.15 L274.08,550.72 L274.53,552.42 L274.98,554.11 L275.43,555.67 L275.88,557.01 L276.33,558.11 L276.78,558.97 L277.23,559.59 L277.68,560.03 L278.13,560.32 L278.58,560.50 L279.03,560.61 L279.49,560.68 L279.94,560.71 L280.39,560.73 L280.84,560.74 L281.29,560.75 L281.74,560.75 L282.19,560.75 L282.64,560.75 L283.09,560.75 L283.54,560.75 L283.99,560.75 L284.44,560.75 L284.90,560.75 L285.35,560.75 L285.80,560.75 L286.25,560.75 L286.70,560.75 L287.15,560.75 L287.60,560.75" fill="none" stroke="#353d6a" stroke-width="1.0" stroke-linejoin="round"/>
</g>
<g clip-path="url(#fc1)">
<path d="M233.50,578.88 L233.95,578.88 L234.40,578.88 L234.85,578.88 L235.30,578.88 L235.75,578.88 L236.21,578.88 L236.66,578.88 L237.11,578.88 L237.56,578.88 L238.01,578.88 L238.46,578.88 L238.91,578.87 L239.36,578.87 L239.81,578.87 L240.26,578.87 L240.71,578.87 L241.16,578.87 L241.62,578.87 L242.07,578.87 L242.52,578.87 L242.97,578.87 L243.42,578.87 L243.87,578.87 L244.32,578.87 L244.77,578.87 L245.22,578.87 L245.67,578.87 L246.12,578.87 L246.57,578.87 L247.03,578.87 L247.48,578.87 L247.93,578.87 L248.38,578.87 L248.83,578.87 L249.28,578.87 L249.73,578.87 L250.18,578.87 L250.63,578.87 L251.08,578.87 L251.53,578.86 L251.98,578.85 L252.44,578.83 L252.89,578.80 L253.34,578.75 L253.79,578.69 L254.24,578.58 L254.69,578.44 L255.14,578.23 L255.59,577.96 L256.04,577.59 L256.49,577.13 L256.94,576.57 L257.39,575.89 L257.85,575.09 L258.30,574.20 L258.75,573.23 L259.20,572.21 L259.65,571.15 L260.10,570.11 L260.55,569.11 L261.00,568.19 L261.45,567.36 L261.90,566.64 L262.35,566.05 L262.80,565.58 L263.25,565.24 L263.71,565.01 L264.16,564.89 L264.61,564.88 L265.06,564.96 L265.51,565.16 L265.96,565.46 L266.41,565.87 L266.86,566.41 L267.31,567.07 L267.76,567.86 L268.21,568.75 L268.67,569.74 L269.12,570.80 L269.57,571.89 L270.02,572.97 L270.47,574.01 L270.92,574.98 L271.37,575.83 L271.82,576.57 L272.27,577.18 L272.72,577.67 L273.17,578.04 L273.62,578.32 L274.08,578.51 L274.53,578.65 L274.98,578.74 L275.43,578.79 L275.88,578.83 L276.33,578.85 L276.78,578.86 L277.23,578.87 L277.68,578.87 L278.13,578.87 L278.58,578.87 L279.03,578.87 L279.49,578.87 L279.94,578.87 L280.39,578.87 L280.84,578.87 L281.29,578.87 L281.74,578.87 L282.19,578.87 L282.64,578.87 L283.09,578.87 L283.54,578.87 L283.99,578.87 L284.44,578.87 L284.90,578.87 L285.35,578.87 L285.80,578.87 L286.25,578.87 L286.70,578.87 L287.15,578.87 L287.60,578.87 L287.60,578.88 L233.50,578.88Z" fill="#d6d9ee" stroke="none"/>
<path d="M233.50,578.88 L233.95,578.88 L234.40,578.88 L234.85,578.88 L235.30,578.88 L235.75,578.88 L236.21,578.88 L236.66,578.88 L237.11,578.88 L237.56,578.88 L238.01,578.88 L238.46,578.88 L238.91,578.87 L239.36,578.87 L239.81,578.87 L240.26,578.87 L240.71,578.87 L241.16,578.87 L241.62,578.87 L242.07,578.87 L242.52,578.87 L242.97,578.87 L243.42,578.87 L243.87,578.87 L244.32,578.87 L244.77,578.87 L245.22,578.87 L245.67,578.87 L246.12,578.87 L246.57,578.87 L247.03,578.87 L247.48,578.87 L247.93,578.87 L248.38,578.87 L248.83,578.87 L249.28,578.87 L249.73,578.87 L250.18,578.87 L250.63,578.87 L251.08,578.87 L251.53,578.86 L251.98,578.85 L252.44,578.83 L252.89,578.80 L253.34,578.75 L253.79,578.69 L254.24,578.58 L254.69,578.44 L255.14,578.23 L255.59,577.96 L256.04,577.59 L256.49,577.13 L256.94,576.57 L257.39,575.89 L257.85,575.09 L258.30,574.20 L258.75,573.23 L259.20,572.21 L259.65,571.15 L260.10,570.11 L260.55,569.11 L261.00,568.19 L261.45,567.36 L261.90,566.64 L262.35,566.05 L262.80,565.58 L263.25,565.24 L263.71,565.01 L264.16,564.89 L264.61,564.88 L265.06,564.96 L265.51,565.16 L265.96,565.46 L266.41,565.87 L266.86,566.41 L267.31,567.07 L267.76,567.86 L268.21,568.75 L268.67,569.74 L269.12,570.80 L269.57,571.89 L270.02,572.97 L270.47,574.01 L270.92,574.98 L271.37,575.83 L271.82,576.57 L272.27,577.18 L272.72,577.67 L273.17,578.04 L273.62,578.32 L274.08,578.51 L274.53,578.65 L274.98,578.74 L275.43,578.79 L275.88,578.83 L276.33,578.85 L276.78,578.86 L277.23,578.87 L277.68,578.87 L278.13,578.87 L278.58,578.87 L279.03,578.87 L279.49,578.87 L279.94,578.87 L280.39,578.87 L280.84,578.87 L281.29,578.87 L281.74,578.87 L282.19,578.87 L282.64,578.87 L283.09,578.87 L283.54,578.87 L283.99,578.87 L284.44,578.87 L284.90,578.87 L285.35,578.87 L285.80,578.87 L286.25,578.87 L286.70,578.87 L287.15,578.87 L287.60,578.87" fill="none" stroke="#353d6a" stroke-width="1.0" stroke-linejoin="round"/>
</g>
<g clip-path="url(#fc1)">
<path d="M233.50,597.00 L233.95,597.00 L234.40,597.00 L234.85,597.00 L235.30,597.00 L235.75,597.00 L236.21,597.00 L236.66,597.00 L237.11,597.00 L237.56,597.00 L238.01,597.00 L238.46,597.00 L238.91,597.00 L239.36,597.00 L239.81,597.00 L240.26,597.00 L240.71,597.00 L241.16,597.00 L241.62,597.00 L242.07,597.00 L242.52,597.00 L242.97,597.00 L243.42,597.00 L243.87,597.00 L244.32,597.00 L244.77,597.00 L245.22,597.00 L245.67,597.00 L246.12,597.00 L246.57,597.00 L247.03,597.00 L247.48,597.00 L247.93,597.00 L248.38,597.00 L248.83,597.00 L249.28,597.00 L249.73,597.00 L250.18,597.00 L250.63,597.00 L251.08,597.00 L251.53,597.00 L251.98,597.00 L252.44,597.00 L252.89,596.99 L253.34,596.99 L253.79,596.97 L254.24,596.93 L254.69,596.85 L255.14,596.72 L255.59,596.50 L256.04,596.17 L256.49,595.69 L256.94,595.06 L257.39,594.28 L257.85,593.39 L258.30,592.42 L258.75,591.42 L259.20,590.39 L259.65,589.31 L260.10,588.12 L260.55,586.83 L261.00,585.49 L261.45,584.26 L261.90,583.32 L262.35,582.81 L262.80,582.70 L263.25,582.81 L263.71,582.93 L264.16,582.93 L264.61,582.87 L265.06,582.88 L265.51,583.00 L265.96,583.12 L266.41,583.13 L266.86,583.03 L267.31,583.00 L267.76,583.31 L268.21,584.06 L268.67,585.22 L269.12,586.60 L269.57,588.02 L270.02,589.35 L270.47,590.57 L270.92,591.69 L271.37,592.74 L271.82,593.71 L272.27,594.58 L272.72,595.31 L273.17,595.88 L273.62,596.31 L274.08,596.60 L274.53,596.78 L274.98,596.89 L275.43,596.94 L275.88,596.97 L276.33,596.99 L276.78,597.00 L277.23,597.00 L277.68,597.00 L278.13,597.00 L278.58,597.00 L279.03,597.00 L279.49,597.00 L279.94,597.00 L280.39,597.00 L280.84,597.00 L281.29,597.00 L281.74,597.00 L282.19,597.00 L282.64,597.00 L283.09,597.00 L283.54,597.00 L283.99,597.00 L284.44,597.00 L284.90,597.00 L285.35,597.00 L285.80,597.00 L286.25,597.00 L286.70,597.00 L287.15,597.00 L287.60,597.00 L287.60,597.00 L233.50,597.00Z" fill="#d6d9ee" stroke="none"/>
<path d="M233.50,597.00 L233.95,597.00 L234.40,597.00 L234.85,597.00 L235.30,597.00 L235.75,597.00 L236.21,597.00 L236.66,597.00 L237.11,597.00 L237.56,597.00 L238.01,597.00 L238.46,597.00 L238.91,597.00 L239.36,597.00 L239.81,597.00 L240.26,597.00 L240.71,597.00 L241.16,597.00 L241.62,597.00 L242.07,597.00 L242.52,597.00 L242.97,597.00 L243.42,597.00 L243.87,597.00 L244.32,597.00 L244.77,597.00 L245.22,597.00 L245.67,597.00 L246.12,597.00 L246.57,597.00 L247.03,597.00 L247.48,597.00 L247.93,597.00 L248.38,597.00 L248.83,597.00 L249.28,597.00 L249.73,597.00 L250.18,597.00 L250.63,597.00 L251.08,597.00 L251.53,597.00 L251.98,597.00 L252.44,597.00 L252.89,596.99 L253.34,596.99 L253.79,596.97 L254.24,596.93 L254.69,596.85 L255.14,596.72 L255.59,596.50 L256.04,596.17 L256.49,595.69 L256.94,595.06 L257.39,594.28 L257.85,593.39 L258.30,592.42 L258.75,591.42 L259.20,590.39 L259.65,589.31 L260.10,588.12 L260.55,586.83 L261.00,585.49 L261.45,584.26 L261.90,583.32 L262.35,582.81 L262.80,582.70 L263.25,582.81 L263.71,582.93 L264.16,582.93 L264.61,582.87 L265.06,582.88 L265.51,583.00 L265.96,583.12 L266.41,583.13 L266.86,583.03 L267.31,583.00 L267.76,583.31 L268.21,584.06 L268.67,585.22 L269.12,586.60 L269.57,588.02 L270.02,589.35 L270.47,590.57 L270.92,591.69 L271.37,592.74 L271.82,593.71 L272.27,594.58 L272.72,595.31 L273.17,595.88 L273.62,596.31 L274.08,596.60 L274.53,596.78 L274.98,596.89 L275.43,596.94 L275.88,596.97 L276.33,596.99 L276.78,597.00 L277.23,597.00 L277.68,597.00 L278.13,597.00 L278.58,597.00 L279.03,597.00 L279.49,597.00 L279.94,597.00 L280.39,597.00 L280.84,597.00 L281.29,597.00 L281.74,597.00 L282.19,597.00 L282.64,597.00 L283.09,597.00 L283.54,597.00 L283.99,597.00 L284.44,597.00 L284.90,597.00 L285.35,597.00 L285.80,597.00 L286.25,597.00 L286.70,597.00 L287.15,597.00 L287.60,597.00" fill="none" stroke="#353d6a" stroke-width="1.0" stroke-linejoin="round"/>
</g>
<g clip-path="url(#fc2)">
<path d="M293.50,542.62 L293.95,542.62 L294.40,542.62 L294.85,542.62 L295.30,542.62 L295.75,542.62 L296.20,542.62 L296.66,542.62 L297.11,542.62 L297.56,542.62 L298.01,542.62 L298.46,542.62 L298.91,542.62 L299.36,542.62 L299.81,542.62 L300.26,542.62 L300.71,542.62 L301.16,542.62 L301.62,542.62 L302.07,542.62 L302.52,542.62 L302.97,542.62 L303.42,542.62 L303.87,542.62 L304.32,542.61 L304.77,542.57 L305.22,542.40 L305.67,541.49 L306.12,538.01 L306.57,531.23 L307.02,527.12 L307.48,530.86 L307.93,536.88 L308.38,540.07 L308.83,541.31 L309.28,541.97 L309.73,542.35 L310.18,542.53 L310.63,542.60 L311.08,542.62 L311.53,542.62 L311.98,542.62 L312.44,542.62 L312.89,542.62 L313.34,542.62 L313.79,542.62 L314.24,542.62 L314.69,542.62 L315.14,542.62 L315.59,542.62 L316.04,542.62 L316.49,542.62 L316.94,542.62 L317.39,542.62 L317.85,542.62 L318.30,542.62 L318.75,542.62 L319.20,542.62 L319.65,542.62 L320.10,542.62 L320.55,542.62 L321.00,542.62 L321.45,542.62 L321.90,542.62 L322.35,542.62 L322.80,542.62 L323.25,542.62 L323.71,542.62 L324.16,542.62 L324.61,542.62 L325.06,542.62 L325.51,542.62 L325.96,542.62 L326.41,542.62 L326.86,542.62 L327.31,542.62 L327.76,542.62 L328.21,542.62 L328.67,542.62 L329.12,542.62 L329.57,542.62 L330.02,542.62 L330.47,542.62 L330.92,542.62 L331.37,542.62 L331.82,542.62 L332.27,542.62 L332.72,542.62 L333.17,542.62 L333.62,542.62 L334.08,542.62 L334.53,542.62 L334.98,542.62 L335.43,542.62 L335.88,542.62 L336.33,542.62 L336.78,542.62 L337.23,542.62 L337.68,542.62 L338.13,542.62 L338.58,542.62 L339.03,542.62 L339.49,542.62 L339.94,542.62 L340.39,542.62 L340.84,542.62 L341.29,542.62 L341.74,542.62 L342.19,542.62 L342.64,542.62 L343.09,542.62 L343.54,542.62 L343.99,542.62 L344.44,542.62 L344.90,542.62 L345.35,542.62 L345.80,542.62 L346.25,542.62 L346.70,542.62 L347.15,542.62 L347.60,542.62 L347.60,542.62 L293.50,542.62Z" fill="#f1c0bc" stroke="none"/>
<path d="M293.50,542.62 L293.95,542.62 L294.40,542.62 L294.85,542.62 L295.30,542.62 L295.75,542.62 L296.20,542.62 L296.66,542.62 L297.11,542.62 L297.56,542.62 L298.01,542.62 L298.46,542.62 L298.91,542.62 L299.36,542.62 L299.81,542.62 L300.26,542.62 L300.71,542.62 L301.16,542.62 L301.62,542.62 L302.07,542.62 L302.52,542.62 L302.97,542.62 L303.42,542.62 L303.87,542.62 L304.32,542.61 L304.77,542.57 L305.22,542.40 L305.67,541.49 L306.12,538.01 L306.57,531.23 L307.02,527.12 L307.48,530.86 L307.93,536.88 L308.38,540.07 L308.83,541.31 L309.28,541.97 L309.73,542.35 L310.18,542.53 L310.63,542.60 L311.08,542.62 L311.53,542.62 L311.98,542.62 L312.44,542.62 L312.89,542.62 L313.34,542.62 L313.79,542.62 L314.24,542.62 L314.69,542.62 L315.14,542.62 L315.59,542.62 L316.04,542.62 L316.49,542.62 L316.94,542.62 L317.39,542.62 L317.85,542.62 L318.30,542.62 L318.75,542.62 L319.20,542.62 L319.65,542.62 L320.10,542.62 L320.55,542.62 L321.00,542.62 L321.45,542.62 L321.90,542.62 L322.35,542.62 L322.80,542.62 L323.25,542.62 L323.71,542.62 L324.16,542.62 L324.61,542.62 L325.06,542.62 L325.51,542.62 L325.96,542.62 L326.41,542.62 L326.86,542.62 L327.31,542.62 L327.76,542.62 L328.21,542.62 L328.67,542.62 L329.12,542.62 L329.57,542.62 L330.02,542.62 L330.47,542.62 L330.92,542.62 L331.37,542.62 L331.82,542.62 L332.27,542.62 L332.72,542.62 L333.17,542.62 L333.62,542.62 L334.08,542.62 L334.53,542.62 L334.98,542.62 L335.43,542.62 L335.88,542.62 L336.33,542.62 L336.78,542.62 L337.23,542.62 L337.68,542.62 L338.13,542.62 L338.58,542.62 L339.03,542.62 L339.49,542.62 L339.94,542.62 L340.39,542.62 L340.84,542.62 L341.29,542.62 L341.74,542.62 L342.19,542.62 L342.64,542.62 L343.09,542.62 L343.54,542.62 L343.99,542.62 L344.44,542.62 L344.90,542.62 L345.35,542.62 L345.80,542.62 L346.25,542.62 L346.70,542.62 L347.15,542.62 L347.60,542.62" fill="none" stroke="#c2455a" stroke-width="1.0" stroke-linejoin="round"/>
</g>
<g clip-path="url(#fc2)">
<path d="M293.50,560.75 L293.95,560.75 L294.40,560.75 L294.85,560.75 L295.30,560.75 L295.75,560.75 L296.20,560.75 L296.66,560.75 L297.11,560.75 L297.56,560.75 L298.01,560.75 L298.46,560.75 L298.91,560.75 L299.36,560.75 L299.81,560.75 L300.26,560.75 L300.71,560.75 L301.16,560.75 L301.62,560.75 L302.07,560.75 L302.52,560.75 L302.97,560.75 L303.42,560.74 L303.87,560.74 L304.32,560.73 L304.77,560.72 L305.22,560.70 L305.67,560.68 L306.12,560.64 L306.57,560.59 L307.02,560.52 L307.48,560.43 L307.93,560.30 L308.38,560.14 L308.83,559.92 L309.28,559.65 L309.73,559.30 L310.18,558.88 L310.63,558.38 L311.08,557.78 L311.53,557.10 L311.98,556.32 L312.44,555.45 L312.89,554.51 L313.34,553.52 L313.79,552.49 L314.24,551.45 L314.69,550.44 L315.14,549.49 L315.59,548.62 L316.04,547.87 L316.49,547.28 L316.94,546.85 L317.39,546.60 L317.85,546.55 L318.30,546.68 L318.75,547.00 L319.20,547.48 L319.65,548.10 L320.10,548.83 L320.55,549.65 L321.00,550.54 L321.45,551.45 L321.90,552.37 L322.35,553.27 L322.80,554.14 L323.25,554.96 L323.71,555.72 L324.16,556.42 L324.61,557.05 L325.06,557.62 L325.51,558.12 L325.96,558.56 L326.41,558.94 L326.86,559.26 L327.31,559.54 L327.76,559.78 L328.21,559.97 L328.67,560.13 L329.12,560.27 L329.57,560.37 L330.02,560.46 L330.47,560.53 L330.92,560.58 L331.37,560.63 L331.82,560.66 L332.27,560.68 L332.72,560.70 L333.17,560.72 L333.62,560.73 L334.08,560.73 L334.53,560.74 L334.98,560.74 L335.43,560.74 L335.88,560.75 L336.33,560.75 L336.78,560.75 L337.23,560.75 L337.68,560.75 L338.13,560.75 L338.58,560.75 L339.03,560.75 L339.49,560.75 L339.94,560.75 L340.39,560.75 L340.84,560.75 L341.29,560.75 L341.74,560.75 L342.19,560.75 L342.64,560.75 L343.09,560.75 L343.54,560.75 L343.99,560.75 L344.44,560.75 L344.90,560.75 L345.35,560.75 L345.80,560.75 L346.25,560.75 L346.70,560.75 L347.15,560.75 L347.60,560.75 L347.60,560.75 L293.50,560.75Z" fill="#d6d9ee" stroke="none"/>
<path d="M293.50,560.75 L293.95,560.75 L294.40,560.75 L294.85,560.75 L295.30,560.75 L295.75,560.75 L296.20,560.75 L296.66,560.75 L297.11,560.75 L297.56,560.75 L298.01,560.75 L298.46,560.75 L298.91,560.75 L299.36,560.75 L299.81,560.75 L300.26,560.75 L300.71,560.75 L301.16,560.75 L301.62,560.75 L302.07,560.75 L302.52,560.75 L302.97,560.75 L303.42,560.74 L303.87,560.74 L304.32,560.73 L304.77,560.72 L305.22,560.70 L305.67,560.68 L306.12,560.64 L306.57,560.59 L307.02,560.52 L307.48,560.43 L307.93,560.30 L308.38,560.14 L308.83,559.92 L309.28,559.65 L309.73,559.30 L310.18,558.88 L310.63,558.38 L311.08,557.78 L311.53,557.10 L311.98,556.32 L312.44,555.45 L312.89,554.51 L313.34,553.52 L313.79,552.49 L314.24,551.45 L314.69,550.44 L315.14,549.49 L315.59,548.62 L316.04,547.87 L316.49,547.28 L316.94,546.85 L317.39,546.60 L317.85,546.55 L318.30,546.68 L318.75,547.00 L319.20,547.48 L319.65,548.10 L320.10,548.83 L320.55,549.65 L321.00,550.54 L321.45,551.45 L321.90,552.37 L322.35,553.27 L322.80,554.14 L323.25,554.96 L323.71,555.72 L324.16,556.42 L324.61,557.05 L325.06,557.62 L325.51,558.12 L325.96,558.56 L326.41,558.94 L326.86,559.26 L327.31,559.54 L327.76,559.78 L328.21,559.97 L328.67,560.13 L329.12,560.27 L329.57,560.37 L330.02,560.46 L330.47,560.53 L330.92,560.58 L331.37,560.63 L331.82,560.66 L332.27,560.68 L332.72,560.70 L333.17,560.72 L333.62,560.73 L334.08,560.73 L334.53,560.74 L334.98,560.74 L335.43,560.74 L335.88,560.75 L336.33,560.75 L336.78,560.75 L337.23,560.75 L337.68,560.75 L338.13,560.75 L338.58,560.75 L339.03,560.75 L339.49,560.75 L339.94,560.75 L340.39,560.75 L340.84,560.75 L341.29,560.75 L341.74,560.75 L342.19,560.75 L342.64,560.75 L343.09,560.75 L343.54,560.75 L343.99,560.75 L344.44,560.75 L344.90,560.75 L345.35,560.75 L345.80,560.75 L346.25,560.75 L346.70,560.75 L347.15,560.75 L347.60,560.75" fill="none" stroke="#353d6a" stroke-width="1.0" stroke-linejoin="round"/>
</g>
<g clip-path="url(#fc2)">
<path d="M293.50,578.88 L293.95,578.88 L294.40,578.88 L294.85,578.87 L295.30,578.87 L295.75,578.87 L296.20,578.87 L296.66,578.87 L297.11,578.87 L297.56,578.87 L298.01,578.87 L298.46,578.87 L298.91,578.87 L299.36,578.87 L299.81,578.87 L300.26,578.87 L300.71,578.87 L301.16,578.87 L301.62,578.87 L302.07,578.87 L302.52,578.87 L302.97,578.87 L303.42,578.86 L303.87,578.84 L304.32,578.78 L304.77,578.60 L305.22,578.19 L305.67,577.31 L306.12,575.73 L306.57,573.32 L307.02,570.29 L307.48,567.24 L307.93,565.04 L308.38,564.38 L308.83,565.36 L309.28,567.49 L309.73,569.95 L310.18,572.10 L310.63,573.67 L311.08,574.72 L311.53,575.46 L311.98,576.06 L312.44,576.60 L312.89,577.10 L313.34,577.56 L313.79,577.94 L314.24,578.25 L314.69,578.47 L315.14,578.63 L315.59,578.73 L316.04,578.80 L316.49,578.83 L316.94,578.85 L317.39,578.87 L317.85,578.87 L318.30,578.87 L318.75,578.87 L319.20,578.87 L319.65,578.87 L320.10,578.87 L320.55,578.87 L321.00,578.87 L321.45,578.87 L321.90,578.87 L322.35,578.87 L322.80,578.87 L323.25,578.87 L323.71,578.87 L324.16,578.87 L324.61,578.87 L325.06,578.87 L325.51,578.87 L325.96,578.87 L326.41,578.87 L326.86,578.88 L327.31,578.88 L327.76,578.88 L328.21,578.88 L328.67,578.88 L329.12,578.88 L329.57,578.88 L330.02,578.88 L330.47,578.88 L330.92,578.88 L331.37,578.88 L331.82,578.88 L332.27,578.88 L332.72,578.88 L333.17,578.88 L333.62,578.88 L334.08,578.88 L334.53,578.88 L334.98,578.88 L335.43,578.88 L335.88,578.88 L336.33,578.88 L336.78,578.88 L337.23,578.88 L337.68,578.88 L338.13,578.88 L338.58,578.88 L339.03,578.88 L339.49,578.88 L339.94,578.88 L340.39,578.88 L340.84,578.88 L341.29,578.88 L341.74,578.88 L342.19,578.88 L342.64,578.88 L343.09,578.88 L343.54,578.88 L343.99,578.88 L344.44,578.88 L344.90,578.88 L345.35,578.88 L345.80,578.88 L346.25,578.88 L346.70,578.88 L347.15,578.88 L347.60,578.88 L347.60,578.88 L293.50,578.88Z" fill="#d6d9ee" stroke="none"/>
<path d="M293.50,578.88 L293.95,578.88 L294.40,578.88 L294.85,578.87 L295.30,578.87 L295.75,578.87 L296.20,578.87 L296.66,578.87 L297.11,578.87 L297.56,578.87 L298.01,578.87 L298.46,578.87 L298.91,578.87 L299.36,578.87 L299.81,578.87 L300.26,578.87 L300.71,578.87 L301.16,578.87 L301.62,578.87 L302.07,578.87 L302.52,578.87 L302.97,578.87 L303.42,578.86 L303.87,578.84 L304.32,578.78 L304.77,578.60 L305.22,578.19 L305.67,577.31 L306.12,575.73 L306.57,573.32 L307.02,570.29 L307.48,567.24 L307.93,565.04 L308.38,564.38 L308.83,565.36 L309.28,567.49 L309.73,569.95 L310.18,572.10 L310.63,573.67 L311.08,574.72 L311.53,575.46 L311.98,576.06 L312.44,576.60 L312.89,577.10 L313.34,577.56 L313.79,577.94 L314.24,578.25 L314.69,578.47 L315.14,578.63 L315.59,578.73 L316.04,578.80 L316.49,578.83 L316.94,578.85 L317.39,578.87 L317.85,578.87 L318.30,578.87 L318.75,578.87 L319.20,578.87 L319.65,578.87 L320.10,578.87 L320.55,578.87 L321.00,578.87 L321.45,578.87 L321.90,578.87 L322.35,578.87 L322.80,578.87 L323.25,578.87 L323.71,578.87 L324.16,578.87 L324.61,578.87 L325.06,578.87 L325.51,578.87 L325.96,578.87 L326.41,578.87 L326.86,578.88 L327.31,578.88 L327.76,578.88 L328.21,578.88 L328.67,578.88 L329.12,578.88 L329.57,578.88 L330.02,578.88 L330.47,578.88 L330.92,578.88 L331.37,578.88 L331.82,578.88 L332.27,578.88 L332.72,578.88 L333.17,578.88 L333.62,578.88 L334.08,578.88 L334.53,578.88 L334.98,578.88 L335.43,578.88 L335.88,578.88 L336.33,578.88 L336.78,578.88 L337.23,578.88 L337.68,578.88 L338.13,578.88 L338.58,578.88 L339.03,578.88 L339.49,578.88 L339.94,578.88 L340.39,578.88 L340.84,578.88 L341.29,578.88 L341.74,578.88 L342.19,578.88 L342.64,578.88 L343.09,578.88 L343.54,578.88 L343.99,578.88 L344.44,578.88 L344.90,578.88 L345.35,578.88 L345.80,578.88 L346.25,578.88 L346.70,578.88 L347.15,578.88 L347.60,578.88" fill="none" stroke="#353d6a" stroke-width="1.0" stroke-linejoin="round"/>
</g>
<g clip-path="url(#fc2)">
<path d="M293.50,597.00 L293.95,597.00 L294.40,597.00 L294.85,597.00 L295.30,597.00 L295.75,597.00 L296.20,597.00 L296.66,597.00 L297.11,597.00 L297.56,597.00 L298.01,597.00 L298.46,597.00 L298.91,597.00 L299.36,597.00 L299.81,597.00 L300.26,597.00 L300.71,597.00 L301.16,597.00 L301.62,597.00 L302.07,597.00 L302.52,597.00 L302.97,597.00 L303.42,597.00 L303.87,597.00 L304.32,596.98 L304.77,596.94 L305.22,596.79 L305.67,596.43 L306.12,595.63 L306.57,594.13 L307.02,591.77 L307.48,588.71 L307.93,585.52 L308.38,583.11 L308.83,582.20 L309.28,583.00 L309.73,585.03 L310.18,587.50 L310.63,589.73 L311.08,591.44 L311.53,592.68 L311.98,593.62 L312.44,594.42 L312.89,595.12 L313.34,595.72 L313.79,596.19 L314.24,596.52 L314.69,596.74 L315.14,596.87 L315.59,596.94 L316.04,596.97 L316.49,596.99 L316.94,597.00 L317.39,597.00 L317.85,597.00 L318.30,597.00 L318.75,597.00 L319.20,597.00 L319.65,597.00 L320.10,597.00 L320.55,597.00 L321.00,597.00 L321.45,597.00 L321.90,597.00 L322.35,597.00 L322.80,597.00 L323.25,597.00 L323.71,597.00 L324.16,597.00 L324.61,597.00 L325.06,597.00 L325.51,597.00 L325.96,597.00 L326.41,597.00 L326.86,597.00 L327.31,597.00 L327.76,597.00 L328.21,597.00 L328.67,597.00 L329.12,597.00 L329.57,597.00 L330.02,597.00 L330.47,597.00 L330.92,597.00 L331.37,597.00 L331.82,597.00 L332.27,597.00 L332.72,597.00 L333.17,597.00 L333.62,597.00 L334.08,597.00 L334.53,597.00 L334.98,597.00 L335.43,597.00 L335.88,597.00 L336.33,597.00 L336.78,597.00 L337.23,597.00 L337.68,597.00 L338.13,597.00 L338.58,597.00 L339.03,597.00 L339.49,597.00 L339.94,597.00 L340.39,597.00 L340.84,597.00 L341.29,597.00 L341.74,597.00 L342.19,597.00 L342.64,597.00 L343.09,597.00 L343.54,597.00 L343.99,597.00 L344.44,597.00 L344.90,597.00 L345.35,597.00 L345.80,597.00 L346.25,597.00 L346.70,597.00 L347.15,597.00 L347.60,597.00 L347.60,597.00 L293.50,597.00Z" fill="#d6d9ee" stroke="none"/>
<path d="M293.50,597.00 L293.95,597.00 L294.40,597.00 L294.85,597.00 L295.30,597.00 L295.75,597.00 L296.20,597.00 L296.66,597.00 L297.11,597.00 L297.56,597.00 L298.01,597.00 L298.46,597.00 L298.91,597.00 L299.36,597.00 L299.81,597.00 L300.26,597.00 L300.71,597.00 L301.16,597.00 L301.62,597.00 L302.07,597.00 L302.52,597.00 L302.97,597.00 L303.42,597.00 L303.87,597.00 L304.32,596.98 L304.77,596.94 L305.22,596.79 L305.67,596.43 L306.12,595.63 L306.57,594.13 L307.02,591.77 L307.48,588.71 L307.93,585.52 L308.38,583.11 L308.83,582.20 L309.28,583.00 L309.73,585.03 L310.18,587.50 L310.63,589.73 L311.08,591.44 L311.53,592.68 L311.98,593.62 L312.44,594.42 L312.89,595.12 L313.34,595.72 L313.79,596.19 L314.24,596.52 L314.69,596.74 L315.14,596.87 L315.59,596.94 L316.04,596.97 L316.49,596.99 L316.94,597.00 L317.39,597.00 L317.85,597.00 L318.30,597.00 L318.75,597.00 L319.20,597.00 L319.65,597.00 L320.10,597.00 L320.55,597.00 L321.00,597.00 L321.45,597.00 L321.90,597.00 L322.35,597.00 L322.80,597.00 L323.25,597.00 L323.71,597.00 L324.16,597.00 L324.61,597.00 L325.06,597.00 L325.51,597.00 L325.96,597.00 L326.41,597.00 L326.86,597.00 L327.31,597.00 L327.76,597.00 L328.21,597.00 L328.67,597.00 L329.12,597.00 L329.57,597.00 L330.02,597.00 L330.47,597.00 L330.92,597.00 L331.37,597.00 L331.82,597.00 L332.27,597.00 L332.72,597.00 L333.17,597.00 L333.62,597.00 L334.08,597.00 L334.53,597.00 L334.98,597.00 L335.43,597.00 L335.88,597.00 L336.33,597.00 L336.78,597.00 L337.23,597.00 L337.68,597.00 L338.13,597.00 L338.58,597.00 L339.03,597.00 L339.49,597.00 L339.94,597.00 L340.39,597.00 L340.84,597.00 L341.29,597.00 L341.74,597.00 L342.19,597.00 L342.64,597.00 L343.09,597.00 L343.54,597.00 L343.99,597.00 L344.44,597.00 L344.90,597.00 L345.35,597.00 L345.80,597.00 L346.25,597.00 L346.70,597.00 L347.15,597.00 L347.60,597.00" fill="none" stroke="#353d6a" stroke-width="1.0" stroke-linejoin="round"/>
</g>
<rect x="173.70" y="524.80" width="54.10" height="72.50" fill="none" stroke="#333" stroke-width="1.4" />
<line x1="173.70" y1="542.92" x2="227.80" y2="542.92" stroke="#555" stroke-width="1.0" />
<line x1="173.70" y1="561.05" x2="227.80" y2="561.05" stroke="#555" stroke-width="1.0" />
<line x1="173.70" y1="579.17" x2="227.80" y2="579.17" stroke="#555" stroke-width="1.0" />
<rect x="233.50" y="524.80" width="54.10" height="72.50" fill="none" stroke="#333" stroke-width="1.4" />
<line x1="233.50" y1="542.92" x2="287.60" y2="542.92" stroke="#555" stroke-width="1.0" />
<line x1="233.50" y1="561.05" x2="287.60" y2="561.05" stroke="#555" stroke-width="1.0" />
<line x1="233.50" y1="579.17" x2="287.60" y2="579.17" stroke="#555" stroke-width="1.0" />
<rect x="293.50" y="524.80" width="54.10" height="72.50" fill="none" stroke="#333" stroke-width="1.4" />
<line x1="293.50" y1="542.92" x2="347.60" y2="542.92" stroke="#555" stroke-width="1.0" />
<line x1="293.50" y1="561.05" x2="347.60" y2="561.05" stroke="#555" stroke-width="1.0" />
<line x1="293.50" y1="579.17" x2="347.60" y2="579.17" stroke="#555" stroke-width="1.0" />
<text transform="translate(149.70,540.30)" font-size="7.6" text-anchor="start" fill="#222" >unstained</text>
<text transform="translate(149.70,558.80)" font-size="7.6" text-anchor="start" fill="#222" >time 0</text>
<text transform="translate(149.70,577.20)" font-size="7.6" text-anchor="start" fill="#222" >24 hours</text>
<text transform="translate(149.70,595.80)" font-size="7.6" text-anchor="start" fill="#222" >48 hours</text>
<text transform="translate(177.60,608.60) scale(0.565,1)" font-size="10.9" text-anchor="start" font-weight="bold" fill="#222" >EPHB4</text>
<line x1="201.70" y1="605.40" x2="318.00" y2="605.40" stroke="#111" stroke-width="1.4" />
<path d="M316.5,602.6 L324,605.4 L316.5,608.2Z" fill="#111"/>
<text transform="translate(394.00,565.00) rotate(-90) scale(0.63,1)" font-size="9.8" text-anchor="middle" font-weight="bold" fill="#222" >Live cells x 10<tspan font-size="6.5" dy="-3.8">4</tspan></text>
<line x1="415.70" y1="532.00" x2="415.70" y2="597.10" stroke="#1a1a1a" stroke-width="1.3" />
<line x1="415.10" y1="596.50" x2="512.60" y2="596.50" stroke="#1a3a3a" stroke-width="1.4" />
<line x1="412.70" y1="596.50" x2="415.70" y2="596.50" stroke="#1a1a1a" stroke-width="1.1" />
<text transform="translate(409.40,599.30) scale(1.05,1)" font-size="8" text-anchor="end" fill="#222" >0</text>
<line x1="412.70" y1="581.25" x2="415.70" y2="581.25" stroke="#1a1a1a" stroke-width="1.1" />
<text transform="translate(409.40,584.05) scale(1.05,1)" font-size="8" text-anchor="end" fill="#222" >10</text>
<line x1="412.70" y1="566.00" x2="415.70" y2="566.00" stroke="#1a1a1a" stroke-width="1.1" />
<text transform="translate(409.40,568.80) scale(1.05,1)" font-size="8" text-anchor="end" fill="#222" >20</text>
<line x1="412.70" y1="550.75" x2="415.70" y2="550.75" stroke="#1a1a1a" stroke-width="1.1" />
<text transform="translate(409.40,553.55) scale(1.05,1)" font-size="8" text-anchor="end" fill="#222" >30</text>
<line x1="412.70" y1="535.50" x2="415.70" y2="535.50" stroke="#1a1a1a" stroke-width="1.1" />
<text transform="translate(409.40,538.30) scale(1.05,1)" font-size="8" text-anchor="end" fill="#222" >40</text>
<line x1="423.55" y1="543.12" x2="423.55" y2="546.94" stroke="#222" stroke-width="1.1" />
<line x1="421.35" y1="543.12" x2="425.75" y2="543.12" stroke="#222" stroke-width="1.2" />
<rect x="418.20" y="546.94" width="10.70" height="49.56" fill="#a8052c" stroke="#7e0a22" stroke-width="0.6" />
<line x1="423.55" y1="596.50" x2="423.55" y2="599.90" stroke="#1a1a1a" stroke-width="1.1" />
<line x1="439.15" y1="552.58" x2="439.15" y2="554.87" stroke="#222" stroke-width="1.1" />
<line x1="436.95" y1="552.58" x2="441.35" y2="552.58" stroke="#222" stroke-width="1.2" />
<rect x="433.80" y="554.87" width="10.70" height="41.63" fill="#a8052c" stroke="#7e0a22" stroke-width="0.6" />
<line x1="439.15" y1="596.50" x2="439.15" y2="599.90" stroke="#1a1a1a" stroke-width="1.1" />
<line x1="455.85" y1="590.71" x2="455.85" y2="592.23" stroke="#222" stroke-width="1.1" />
<line x1="453.65" y1="590.71" x2="458.05" y2="590.71" stroke="#222" stroke-width="1.2" />
<rect x="450.50" y="592.23" width="10.70" height="4.27" fill="#a8052c" stroke="#7e0a22" stroke-width="0.6" />
<line x1="455.85" y1="596.50" x2="455.85" y2="599.90" stroke="#1a1a1a" stroke-width="1.1" />
<line x1="472.25" y1="586.13" x2="472.25" y2="588.26" stroke="#222" stroke-width="1.1" />
<line x1="470.05" y1="586.13" x2="474.45" y2="586.13" stroke="#222" stroke-width="1.2" />
<rect x="466.90" y="588.26" width="10.70" height="8.24" fill="#a8052c" stroke="#7e0a22" stroke-width="0.6" />
<line x1="472.25" y1="596.50" x2="472.25" y2="599.90" stroke="#1a1a1a" stroke-width="1.1" />
<line x1="488.35" y1="570.73" x2="488.35" y2="574.54" stroke="#222" stroke-width="1.1" />
<line x1="486.15" y1="570.73" x2="490.55" y2="570.73" stroke="#222" stroke-width="1.2" />
<rect x="483.00" y="574.54" width="10.70" height="21.96" fill="#a8052c" stroke="#7e0a22" stroke-width="0.6" />
<line x1="488.35" y1="596.50" x2="488.35" y2="599.90" stroke="#1a1a1a" stroke-width="1.1" />
<line x1="504.85" y1="553.80" x2="504.85" y2="556.24" stroke="#222" stroke-width="1.1" />
<line x1="502.65" y1="553.80" x2="507.05" y2="553.80" stroke="#222" stroke-width="1.2" />
<rect x="499.50" y="556.24" width="10.70" height="40.26" fill="#a8052c" stroke="#7e0a22" stroke-width="0.6" />
<line x1="504.85" y1="596.50" x2="504.85" y2="599.90" stroke="#1a1a1a" stroke-width="1.1" />
<line x1="415.10" y1="596.50" x2="512.60" y2="596.50" stroke="#1a3a3a" stroke-width="1.4" />
<text transform="translate(440.30,533.90)" font-size="7.9" text-anchor="middle" fill="#222" >p=0.0065</text>
<line x1="422.80" y1="538.10" x2="458.20" y2="538.10" stroke="#1a2a2a" stroke-width="1.2" />
<text transform="translate(480.80,544.30)" font-size="7.9" text-anchor="middle" fill="#222" >p=0.0013</text>
<line x1="457.00" y1="548.80" x2="505.40" y2="548.80" stroke="#1a2a2a" stroke-width="1.2" />
<text transform="translate(357.00,610.10)" font-size="8.0" text-anchor="start" fill="#222" >MAb131(ug/ml)</text>
<text transform="translate(357.00,621.70)" font-size="8.0" text-anchor="start" fill="#222" >sEPHB4 (ug/ml)</text>
<text transform="translate(423.55,610.10)" font-size="7.9" text-anchor="middle" fill="#222" >0</text>
<text transform="translate(423.55,621.70)" font-size="7.9" text-anchor="middle" fill="#222" >0</text>
<text transform="translate(439.15,610.10)" font-size="7.9" text-anchor="middle" fill="#222" >0</text>
<text transform="translate(439.15,621.70)" font-size="7.9" text-anchor="middle" fill="#222" >200</text>
<text transform="translate(455.85,610.10)" font-size="7.9" text-anchor="middle" fill="#222" >10</text>
<text transform="translate(455.85,621.70)" font-size="7.9" text-anchor="middle" fill="#222" >0</text>
<text transform="translate(472.25,610.10)" font-size="7.9" text-anchor="middle" fill="#222" >10</text>
<text transform="translate(472.25,621.70)" font-size="7.9" text-anchor="middle" fill="#222" >10</text>
<text transform="translate(488.35,610.10)" font-size="7.9" text-anchor="middle" fill="#222" >10</text>
<text transform="translate(488.35,621.70)" font-size="7.9" text-anchor="middle" fill="#222" >100</text>
<text transform="translate(504.85,610.10)" font-size="7.9" text-anchor="middle" fill="#222" >10</text>
<text transform="translate(504.85,621.70)" font-size="7.9" text-anchor="middle" fill="#222" >200</text>
</svg>
<div id="frame"></div>
</div>
</body></html>
